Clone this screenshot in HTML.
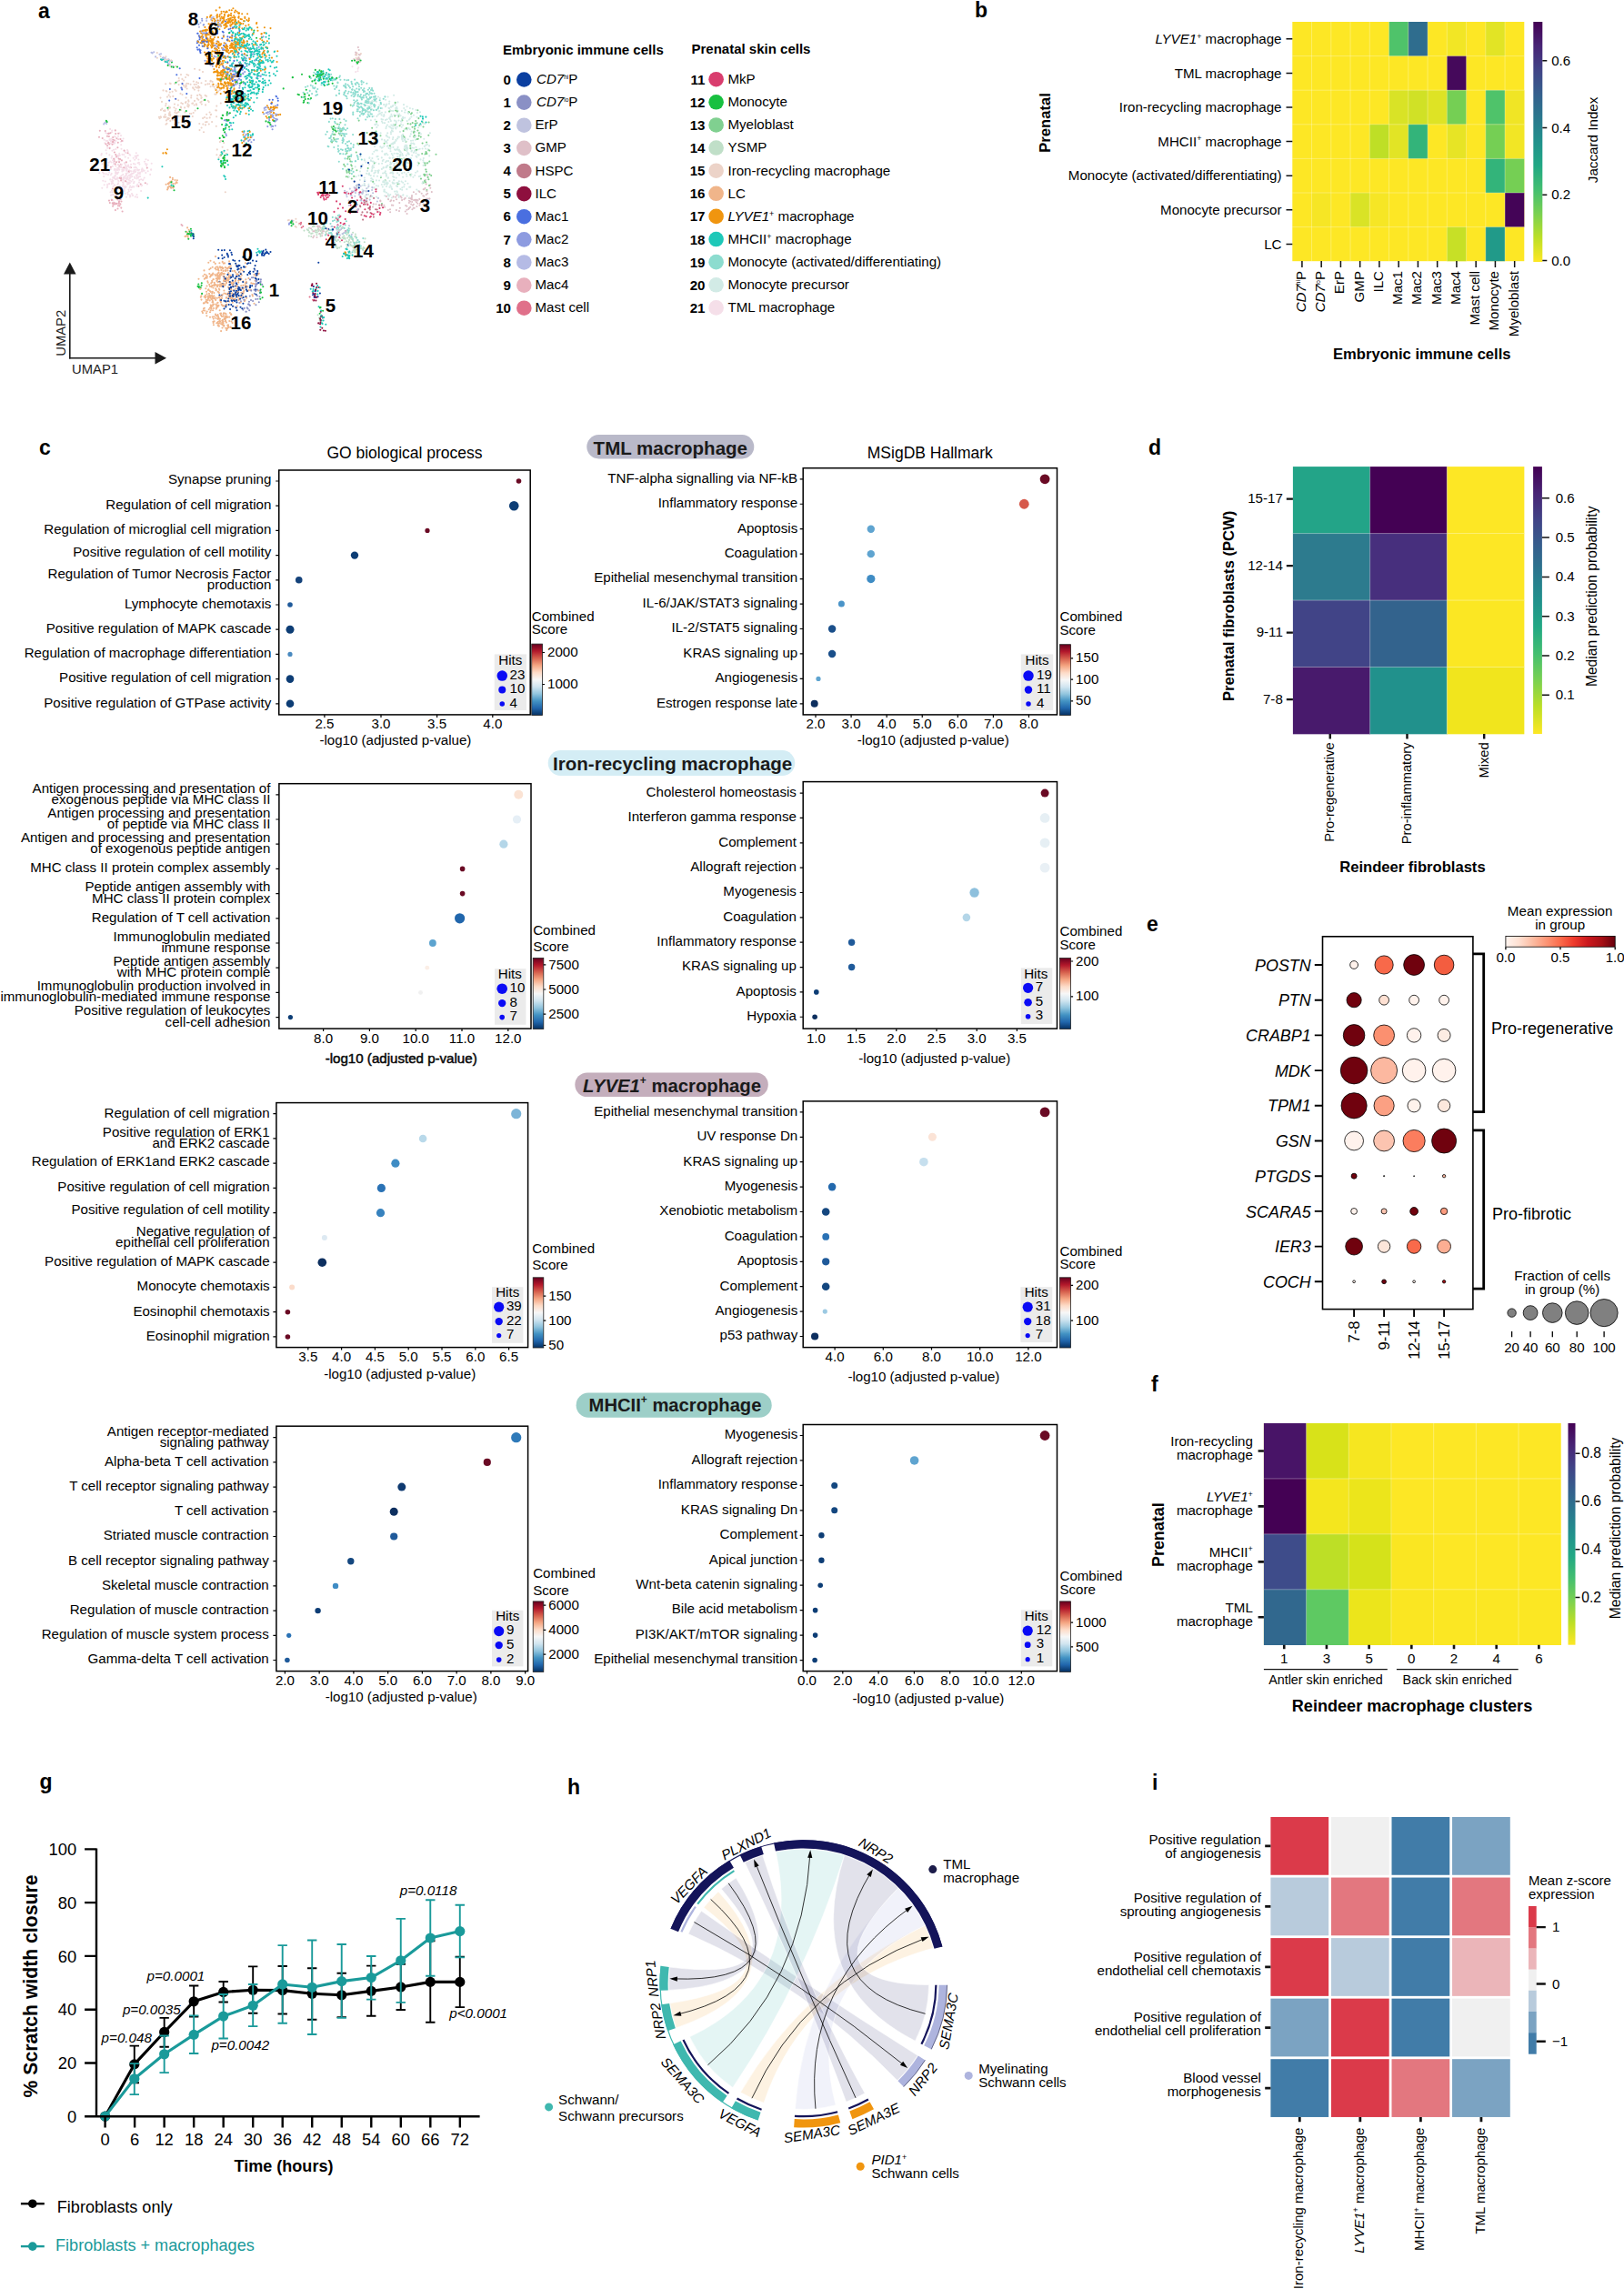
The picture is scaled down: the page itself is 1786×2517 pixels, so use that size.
<!DOCTYPE html>
<html><head><meta charset="utf-8"><title>Figure</title>
<style>html,body{margin:0;padding:0;background:#fff}svg{display:block}text{font-family:"Liberation Sans",sans-serif;fill:#000}</style>
</head><body>
<svg width="1786" height="2517" viewBox="0 0 1786 2517">
<rect width="1786" height="2517" fill="#fff"/>
<text x="42" y="20" font-size="23" font-weight="bold">a</text>
<g stroke-linecap="round" stroke-width="2.1" fill="none">
<path d="M144.5 199.5h0M123.3 197.6h0M151.0 192.4h0M150.6 196.4h0M118.9 181.6h0M143.4 183.5h0M139.7 190.6h0M143.4 215.7h0M127.9 187.3h0M128.8 206.9h0M148.8 216.4h0M114.6 185.6h0M116.7 191.4h0M121.8 186.1h0M148.4 188.9h0M162.7 188.2h0M125.4 180.2h0M143.9 191.9h0M136.1 207.3h0M123.8 182.9h0M125.4 174.2h0M136.6 208.8h0M133.8 180.8h0M137.4 204.7h0M151.3 202.7h0M127.0 197.3h0M137.8 167.5h0M131.6 204.2h0M127.1 189.1h0M136.2 194.6h0M132.9 216.0h0M126.3 208.6h0M140.5 196.0h0M133.0 218.7h0M151.2 186.3h0M132.9 184.1h0M142.9 214.5h0M125.7 178.5h0M128.1 186.2h0M157.1 198.3h0M138.4 205.6h0M138.5 168.0h0M153.0 200.6h0M161.1 182.1h0M121.8 192.2h0M147.5 199.9h0M128.4 208.5h0M130.2 189.5h0M145.8 205.4h0M137.0 179.1h0M135.8 186.5h0M139.2 186.6h0M142.5 201.3h0M125.8 187.0h0M155.1 210.0h0M142.9 193.5h0M130.1 201.6h0M158.7 195.6h0M133.7 207.3h0M118.2 204.6h0M139.1 184.1h0M122.7 190.9h0M140.5 188.7h0M162.0 202.4h0M140.7 166.3h0M133.5 196.8h0M134.5 184.7h0M147.5 184.3h0M129.1 191.1h0M130.2 185.8h0M153.3 198.1h0M109.3 190.2h0M138.1 184.7h0M124.2 214.0h0M153.0 194.0h0M136.7 165.9h0M117.8 175.5h0M120.3 202.1h0M130.2 171.2h0M140.5 211.7h0M131.2 220.5h0M139.6 196.7h0M122.7 214.5h0M126.2 186.0h0M128.3 209.2h0M128.4 189.7h0M123.4 199.9h0M133.6 193.3h0M147.4 187.2h0M143.2 204.6h0M141.3 183.2h0M157.8 187.3h0M161.6 180.5h0M151.6 179.2h0M141.7 200.5h0M165.2 191.9h0M148.5 171.7h0M147.0 188.6h0M151.3 187.3h0M155.2 197.2h0M148.5 180.6h0M160.3 190.0h0M141.2 181.5h0M166.7 179.8h0M139.8 195.2h0M166.1 186.6h0M144.1 180.8h0M121.1 141.9h0M127.9 173.2h0M126.1 157.2h0M115.3 157.3h0M125.0 164.8h0M117.7 147.0h0M118.3 155.0h0M111.4 170.4h0M121.9 157.6h0M116.7 154.8h0M140.0 165.0h0M116.2 146.0h0M131.2 168.9h0M122.7 152.6h0M135.6 152.5h0M123.0 145.2h0M134.5 169.9h0M391.2 79.1h0M392.1 70.6h0" stroke="#f5dfe9"/>
<path d="M425.0 168.8h0M441.6 199.6h0M448.5 201.7h0M447.1 175.7h0M415.8 126.2h0M454.1 154.5h0M444.3 119.0h0M445.7 121.1h0M417.1 198.5h0M459.5 170.1h0M446.8 161.9h0M456.2 151.2h0M452.0 154.7h0M442.4 180.3h0M457.7 165.6h0M420.3 166.4h0M452.6 144.5h0M419.7 162.6h0M436.6 178.3h0M459.0 135.1h0M445.9 199.3h0M453.8 119.8h0M435.4 119.3h0M461.6 145.7h0M432.0 158.5h0M429.1 186.3h0M467.0 169.8h0M440.2 169.9h0M465.3 131.7h0M423.5 170.3h0M457.2 189.7h0M465.6 181.9h0M434.2 156.4h0M442.1 190.4h0M451.3 205.6h0M419.9 185.9h0M430.3 158.6h0M439.3 202.2h0M445.6 180.8h0M441.0 136.6h0M430.1 180.1h0M442.8 181.8h0M435.6 136.1h0M425.6 157.3h0M447.6 117.2h0M438.9 199.3h0M468.3 159.6h0M444.9 153.6h0M449.1 176.0h0M462.5 175.4h0M422.9 135.2h0M445.8 183.5h0M455.0 145.6h0M454.4 194.8h0M437.0 152.6h0M431.9 144.4h0M423.8 188.4h0M442.0 130.5h0M468.4 197.8h0M431.7 117.0h0M429.2 183.5h0M432.0 185.8h0M434.0 138.3h0M444.6 142.3h0M447.7 133.1h0M447.4 174.2h0M445.0 161.2h0M411.4 155.6h0M424.4 184.1h0M409.7 169.2h0M435.6 133.4h0M447.3 140.8h0M459.6 181.8h0M467.3 136.1h0M466.3 152.7h0M452.5 185.9h0M440.7 171.0h0M429.9 133.1h0M435.7 134.2h0M431.9 153.0h0M436.3 210.4h0M426.6 195.7h0M413.1 137.1h0M439.9 171.4h0M472.9 146.2h0M452.2 157.6h0M435.6 154.8h0M444.2 173.9h0M426.7 160.4h0M409.2 145.3h0M431.5 157.9h0M424.9 148.9h0M438.9 215.8h0M437.8 169.1h0M437.2 152.4h0M432.2 194.1h0M443.1 147.9h0M432.1 141.4h0M414.5 172.3h0M461.7 163.8h0M440.4 207.9h0M420.3 119.1h0M433.3 194.9h0M446.5 165.1h0M432.3 151.1h0M424.5 141.1h0M435.4 165.0h0M443.1 137.6h0M442.9 170.8h0M436.7 163.9h0M457.7 165.8h0M442.2 151.3h0M427.6 162.9h0M457.5 161.9h0M440.0 144.9h0M431.8 170.8h0M441.7 139.8h0M438.2 128.6h0M436.7 178.3h0M447.4 208.1h0M429.4 178.6h0M434.1 164.4h0M414.3 140.0h0M445.8 174.7h0M438.1 165.1h0M439.2 185.9h0M472.2 171.4h0M434.6 115.5h0M404.0 121.9h0M408.5 111.9h0M443.3 129.9h0M433.1 104.8h0M417.3 125.1h0M409.3 111.0h0M413.7 120.7h0M437.5 112.4h0M428.1 122.7h0M423.1 135.3h0M406.5 127.8h0M422.6 115.0h0M426.0 137.5h0M425.4 114.6h0M420.0 123.8h0M416.7 122.4h0M408.4 120.1h0M412.3 136.9h0M425.7 131.2h0M410.2 111.5h0M443.1 128.7h0M429.8 117.6h0M428.1 139.3h0M423.9 117.2h0M434.4 114.8h0M436.7 139.5h0M406.3 174.0h0M421.7 175.7h0M423.2 210.8h0M425.3 200.2h0M411.5 190.4h0M416.7 187.4h0M407.8 193.0h0M437.1 204.9h0M429.3 190.3h0M408.1 176.9h0M420.8 205.5h0M410.0 197.6h0M406.4 173.3h0M409.5 185.1h0M407.9 176.2h0M429.1 180.8h0M400.9 176.5h0M413.2 165.2h0M427.1 177.0h0M398.6 208.6h0M405.9 180.8h0M408.5 196.3h0M415.3 187.8h0M398.7 181.2h0M408.9 187.4h0M408.7 188.3h0M406.1 190.6h0M422.6 209.1h0M392.7 206.4h0M413.9 204.2h0M391.6 203.9h0M423.2 215.2h0M428.4 205.8h0M416.1 204.6h0M404.7 206.3h0M421.3 200.2h0M410.2 200.3h0M434.1 210.6h0M430.0 189.9h0M430.4 205.7h0M425.0 201.9h0M422.6 202.9h0M436.9 211.1h0" stroke="#d2ebe6"/>
<path d="M244.4 167.1h0M241.9 156.1h0M250.4 164.8h0M242.5 171.2h0M238.8 164.4h0M180.7 67.0h0M172.9 63.7h0M176.6 62.1h0M182.4 62.2h0M185.9 66.2h0M183.5 65.5h0M200.2 96.8h0M200.5 104.0h0M213.7 115.5h0M207.9 115.7h0M218.4 99.6h0M209.6 134.1h0M211.3 113.8h0M187.1 118.4h0M210.4 125.0h0M212.7 124.0h0M182.2 92.2h0M203.6 95.5h0M216.9 108.4h0M179.5 99.4h0M192.5 98.7h0M205.8 133.9h0M214.0 110.9h0M189.6 100.8h0M221.7 107.3h0M193.6 109.0h0M195.8 115.6h0M187.2 106.5h0M182.7 100.0h0M207.5 111.6h0M199.0 121.1h0M207.2 110.4h0M211.8 128.0h0M204.0 112.9h0M187.3 127.2h0M182.5 128.7h0M186.2 118.8h0M186.0 130.3h0M186.1 124.7h0M175.6 130.2h0M181.7 126.0h0M182.5 136.7h0M217.1 104.9h0M219.4 96.1h0M218.3 109.7h0M216.9 96.6h0M221.6 111.7h0M231.6 95.3h0M204.1 85.0h0M215.2 95.7h0M212.1 96.3h0M225.9 93.1h0M218.1 91.2h0M226.0 137.4h0M228.7 110.8h0M219.3 136.0h0M230.7 129.4h0M221.3 108.0h0M238.1 128.2h0M216.2 115.5h0M227.2 125.8h0M238.0 121.5h0M223.3 136.6h0M241.0 96.2h0M242.6 85.8h0M238.9 96.7h0M237.7 103.5h0M236.4 103.6h0M242.8 113.5h0M192.2 136.7h0M194.4 130.0h0M194.2 124.6h0M187.4 127.1h0M185.9 126.5h0M184.8 131.2h0M191.5 118.3h0M192.4 129.7h0M391.7 63.7h0M394.4 63.1h0M392.5 65.3h0M316.8 242.3h0M320.8 242.0h0M322.1 244.8h0" stroke="#ecd3c8"/>
<path d="M394.3 63.8h0M394.8 60.0h0M391.0 60.2h0M391.2 57.5h0M392.2 60.4h0M447.4 226.7h0M462.8 222.1h0M452.9 216.9h0M441.6 217.5h0M450.0 220.8h0M449.9 223.0h0M450.0 228.9h0M449.2 230.0h0M457.8 219.7h0M465.5 224.6h0M442.1 220.1h0M469.8 229.6h0M461.9 223.8h0M452.6 218.8h0M469.3 228.5h0M450.1 217.9h0M467.0 226.8h0M422.4 225.7h0M435.1 216.7h0M429.1 233.3h0M430.2 220.3h0M410.7 224.4h0M439.9 228.7h0M454.8 224.8h0M411.7 235.1h0M420.8 228.3h0M430.9 225.6h0M445.8 232.5h0M458.4 227.0h0M470.2 212.8h0M471.9 204.3h0M465.7 208.3h0M468.7 218.6h0M472.1 218.5h0M473.3 206.7h0M354.4 254.0h0M344.3 261.2h0M344.4 254.3h0M354.5 256.4h0M354.1 259.2h0M345.3 259.5h0M349.8 249.7h0M352.4 250.6h0M349.7 248.6h0" stroke="#dfc0c8"/>
<path d="M395.0 214.1h0M383.8 225.8h0M400.1 221.2h0M396.7 204.6h0M389.0 210.6h0M401.5 220.2h0M392.6 208.0h0M385.7 214.6h0M404.0 210.3h0M391.0 212.1h0M409.1 209.0h0M389.3 199.6h0M400.9 203.5h0M383.6 220.5h0M405.5 204.8h0M408.0 215.4h0M394.3 229.9h0M364.0 261.3h0M382.1 253.1h0M370.5 259.4h0M364.4 258.0h0M375.0 252.2h0M370.6 252.8h0M381.7 253.5h0" stroke="#bfc3df"/>
<path d="M352.5 257.7h0M340.2 255.2h0M354.1 250.8h0M348.4 258.2h0M343.6 256.5h0M352.6 259.7h0M344.6 248.3h0M355.8 252.5h0M348.8 255.8h0M346.9 253.3h0M353.3 246.4h0M348.2 253.6h0M358.6 257.1h0M351.2 257.3h0M381.9 255.2h0M374.0 252.8h0M375.2 270.9h0M371.9 263.9h0M383.7 267.5h0M385.4 269.1h0M378.2 259.4h0M377.7 262.5h0M385.5 260.7h0M386.9 261.1h0M391.2 259.9h0M387.8 262.4h0M379.3 261.5h0M374.5 262.2h0M381.1 254.3h0M371.0 272.4h0M390.3 274.2h0M395.4 268.6h0M390.3 267.0h0M400.5 272.7h0M396.8 272.9h0M388.1 264.2h0M388.4 275.3h0M394.6 276.3h0M388.1 270.3h0M390.2 275.1h0M388.1 271.1h0M389.8 276.6h0M390.2 260.3h0M400.8 266.3h0M392.4 267.0h0M353.3 353.2h0M353.6 353.1h0M353.9 352.5h0" stroke="#c0dfc8"/>
<path d="M345.3 79.8h0M356.0 83.6h0M361.6 84.1h0M355.1 79.5h0M365.7 88.4h0M361.2 90.3h0M360.8 82.6h0M347.0 81.4h0M361.3 81.2h0M356.0 80.7h0M341.1 109.3h0M333.6 101.8h0M345.7 97.3h0M343.1 103.1h0M347.4 104.9h0M347.7 100.3h0M346.4 96.3h0M382.5 93.3h0M398.9 107.2h0M392.9 110.4h0M399.9 105.0h0M408.4 106.9h0M387.1 98.6h0M402.9 112.9h0M383.6 100.7h0M402.0 104.6h0M405.3 111.2h0M393.4 91.2h0M395.5 106.2h0M380.1 92.4h0M393.5 105.6h0M390.1 99.4h0M411.0 106.6h0M397.6 107.2h0M379.0 101.6h0M397.7 114.0h0M399.9 101.0h0M411.4 109.2h0M399.8 107.4h0M408.0 99.0h0M401.0 100.5h0M403.0 106.9h0M392.1 101.2h0M393.4 113.7h0M408.8 113.9h0M409.0 103.0h0M417.7 110.3h0M402.4 110.7h0M412.5 115.7h0M407.2 108.1h0M397.6 89.9h0M421.7 108.7h0M403.4 91.8h0M406.3 96.9h0M405.8 112.6h0M398.3 122.4h0M393.5 130.3h0M393.7 122.3h0M404.9 118.9h0M392.8 116.5h0M409.6 128.2h0M387.8 116.6h0M404.0 128.8h0M411.3 114.8h0M405.0 123.2h0M392.7 122.2h0M401.9 115.8h0M388.3 123.6h0M406.8 123.0h0M401.7 112.2h0M394.9 114.4h0M399.4 120.8h0M404.8 113.2h0M398.1 118.5h0M388.4 101.8h0M378.1 94.2h0M373.1 99.5h0M387.3 92.6h0M368.2 97.9h0M385.0 96.5h0M369.4 87.4h0M367.3 94.5h0M383.8 94.7h0M382.6 102.8h0M364.0 155.6h0M376.5 154.3h0M367.6 147.7h0M388.1 148.1h0M361.9 133.9h0M365.8 130.2h0M382.5 162.9h0M382.0 160.0h0M373.2 136.9h0M375.5 143.9h0M377.2 151.8h0M379.2 149.8h0M359.8 144.9h0M371.6 141.1h0M364.2 149.2h0M371.8 152.7h0M381.1 147.3h0M380.1 158.0h0M363.5 151.7h0M382.1 141.2h0M380.5 132.9h0M363.9 150.0h0M377.6 147.0h0M393.9 175.1h0M379.5 174.4h0M383.4 163.0h0M380.2 169.5h0M390.8 177.3h0M394.5 159.2h0M381.1 187.3h0M392.8 171.1h0M377.4 169.2h0M372.2 166.8h0M384.7 172.1h0M372.8 177.7h0M384.3 165.4h0M372.6 252.8h0M371.3 255.4h0M362.9 253.0h0M372.2 250.9h0M373.1 236.5h0M364.6 249.0h0M357.9 258.4h0M365.6 249.3h0M366.0 243.1h0M372.3 243.0h0M359.0 245.4h0M364.5 256.3h0M361.8 256.4h0M363.2 256.0h0M365.2 258.7h0M367.9 242.2h0M356.9 251.2h0M399.3 262.1h0M390.0 269.3h0M387.7 263.0h0M391.9 266.8h0M395.3 265.9h0M386.1 260.2h0M399.1 274.0h0" stroke="#8cdccf"/>
<path d="M184.6 206.1h0M192.5 201.9h0M194.6 200.9h0M185.4 202.4h0M188.2 206.7h0M185.9 201.4h0M185.1 201.7h0M182.6 202.7h0M184.7 207.2h0M228.9 328.8h0M237.1 313.1h0M230.3 296.2h0M248.9 327.7h0M246.1 308.6h0M262.6 329.9h0M264.3 325.8h0M236.5 328.6h0M255.9 328.8h0M226.5 305.1h0M247.0 289.4h0M232.5 328.9h0M218.5 306.8h0M240.0 296.8h0M243.7 334.9h0M259.5 306.6h0M247.6 297.4h0M248.1 322.9h0M247.8 294.0h0M256.6 336.7h0M259.9 291.6h0M246.4 306.3h0M233.2 322.4h0M245.2 313.5h0M243.3 314.3h0M243.0 300.5h0M233.6 326.0h0M254.3 316.8h0M237.6 319.2h0M227.6 305.7h0M251.1 315.7h0M234.1 332.5h0M257.3 325.6h0M240.5 335.9h0M240.0 295.0h0M248.6 294.6h0M267.8 322.1h0M232.5 314.7h0M249.1 310.8h0M247.9 308.0h0M245.5 295.1h0M228.6 325.6h0M220.8 326.7h0M233.8 320.7h0M230.9 315.0h0M233.1 308.9h0M234.1 328.0h0M237.7 306.4h0M244.3 293.7h0M259.1 299.5h0M220.1 317.7h0M232.2 328.3h0M250.5 297.5h0M246.2 309.2h0M231.7 295.0h0M240.8 322.1h0M252.1 287.4h0M232.1 302.4h0M234.8 313.7h0M224.7 326.4h0M241.8 314.4h0M241.9 304.8h0M240.6 297.6h0M241.4 303.6h0M255.4 326.1h0M241.4 289.2h0M239.5 293.5h0M232.2 311.4h0M228.7 310.8h0M251.5 326.5h0M251.8 310.1h0M241.0 327.2h0M256.8 314.6h0M239.1 315.2h0M239.2 306.3h0M238.9 327.7h0M233.7 330.2h0M225.0 301.7h0M265.2 314.3h0M257.5 328.9h0M235.3 325.3h0M242.3 294.5h0M256.4 323.7h0M240.6 300.1h0M233.4 310.3h0M251.5 316.6h0M231.3 326.8h0M239.4 304.9h0M247.7 335.8h0M239.1 302.5h0M235.8 312.5h0M225.9 324.9h0M251.2 301.2h0M252.9 344.1h0M239.5 350.4h0M251.6 360.0h0M241.1 353.2h0M241.8 355.5h0M247.4 349.5h0M241.7 341.2h0M248.4 348.4h0M234.9 357.3h0M241.1 350.7h0M249.4 347.5h0M243.1 344.6h0M246.2 358.6h0M247.9 352.8h0M237.0 345.5h0M248.6 345.3h0M244.2 352.8h0M254.5 353.5h0M234.8 350.6h0M245.6 353.8h0M248.6 348.7h0M248.3 360.7h0M241.0 358.5h0M246.7 350.1h0M247.5 351.3h0M246.4 357.8h0M241.6 353.2h0M244.9 352.3h0M254.3 346.0h0M231.7 341.5h0M231.7 335.6h0M238.7 336.8h0M242.8 331.8h0M234.1 341.2h0M237.9 335.2h0M234.8 327.5h0M230.9 320.0h0M232.3 339.6h0M227.7 342.5h0M221.5 329.6h0M232.6 339.2h0M239.6 346.1h0M230.7 330.4h0M232.3 337.6h0M223.7 341.2h0M231.0 348.8h0M233.8 336.5h0M255.2 327.3h0M270.4 315.9h0M263.0 329.3h0M269.5 330.0h0M269.9 289.3h0M262.9 329.0h0M258.9 308.1h0M271.0 314.2h0M252.6 321.0h0M270.4 293.5h0M284.1 319.6h0M280.6 308.7h0M275.9 318.9h0M281.3 303.7h0M264.6 304.8h0M272.4 315.2h0M258.7 309.3h0M264.3 304.5h0M272.9 319.6h0M267.6 320.8h0M252.8 312.7h0M279.5 312.0h0M273.4 306.1h0M207.4 257.1h0M208.9 255.7h0M206.8 260.8h0" stroke="#f0b58a"/>
<path d="M123.7 223.4h0M129.5 229.5h0M129.4 219.5h0M124.4 223.7h0M122.8 219.9h0M129.3 216.3h0M125.1 223.6h0M133.5 221.5h0M130.9 221.9h0M130.6 223.4h0M127.2 147.0h0M123.8 156.1h0M118.0 149.8h0M125.8 154.2h0M112.7 152.0h0M119.4 156.7h0M130.3 153.0h0M109.8 143.7h0M124.3 153.8h0M119.0 157.4h0M140.6 168.3h0M136.6 165.5h0M128.1 178.2h0M125.9 167.5h0M131.4 182.9h0M127.3 170.0h0M154.7 202.5h0M132.7 180.7h0M132.9 196.3h0M159.8 201.2h0M121.9 183.8h0M200.5 248.1h0" stroke="#e8b0bd"/>
<path d="M376.7 141.2h0M365.3 140.6h0M364.7 139.6h0M366.9 142.9h0M372.8 141.2h0M386.8 196.5h0M382.9 194.6h0M379.4 182.7h0M392.4 187.3h0M383.6 188.9h0M378.2 180.9h0M384.6 175.1h0M447.3 141.3h0M464.9 134.6h0M459.8 152.7h0M449.5 123.0h0M443.6 149.9h0M460.4 130.1h0M455.2 150.4h0M452.0 125.3h0M456.1 141.8h0M451.5 136.4h0M443.6 144.1h0M459.4 143.5h0M452.9 124.2h0M451.4 192.0h0M446.5 155.7h0M453.7 135.1h0M429.4 121.7h0M441.7 175.1h0M374.5 134.8h0M403.6 146.1h0M410.2 199.8h0M423.7 198.2h0M411.8 179.3h0M479.5 169.8h0M439.3 185.8h0M429.4 184.1h0M418.9 195.1h0M437.6 202.3h0M468.1 200.4h0M469.4 209.1h0M471.0 164.7h0M465.6 200.9h0M470.6 194.9h0M468.7 167.9h0M467.6 181.6h0M466.3 191.9h0" stroke="#80d090"/>
<path d="M220.5 25.1h0M232.1 21.8h0M227.2 22.9h0M233.0 25.0h0M227.2 20.5h0M242.6 26.9h0M242.6 21.6h0M232.6 27.3h0M290.8 121.1h0M299.4 127.8h0M300.1 120.8h0M296.2 129.7h0M183.4 66.6h0M166.5 57.7h0M185.5 65.4h0M171.1 62.4h0M186.5 66.8h0M167.6 58.4h0M114.2 136.4h0M116.6 133.7h0" stroke="#b5bbe5"/>
<path d="M281.4 313.9h0M276.2 319.6h0M286.4 310.9h0M282.8 312.3h0M282.5 308.2h0M281.3 329.0h0M286.9 307.4h0M282.9 318.6h0M274.8 325.6h0M281.9 309.6h0M286.1 319.7h0M276.0 330.0h0M273.7 334.6h0M268.6 338.9h0M266.3 327.7h0M274.9 335.9h0M271.8 338.4h0" stroke="#8a90c5"/>
<path d="M257.9 84.5h0M259.3 92.9h0M255.7 82.1h0M258.1 75.1h0M254.7 83.8h0M258.4 76.6h0M259.4 88.2h0M264.3 70.7h0M251.5 94.3h0M257.6 77.1h0M255.6 73.2h0M259.1 81.3h0M255.3 94.8h0M253.3 63.1h0M243.8 79.8h0M255.0 71.0h0M264.7 70.2h0M261.2 88.3h0M267.2 80.5h0M249.3 51.7h0M225.5 66.8h0M239.9 60.2h0M235.7 61.9h0M237.4 55.6h0M243.8 69.5h0M233.8 72.7h0M247.7 61.7h0M223.1 36.3h0M222.1 20.7h0M218.4 26.8h0M274.2 63.8h0M272.9 52.9h0M273.8 55.4h0M285.1 74.3h0M286.8 83.6h0M284.7 51.8h0M246.8 132.2h0M251.7 124.9h0M251.0 132.7h0M296.3 132.5h0M298.4 127.3h0M294.4 118.3h0M303.4 132.7h0M294.3 139.1h0M300.8 120.9h0M302.2 133.6h0M299.8 128.5h0M292.1 118.1h0M303.9 125.7h0M274.7 153.7h0M276.4 156.2h0M275.7 151.0h0M317.9 246.8h0M319.5 244.6h0" stroke="#8d9be0"/>
<path d="M417.1 225.6h0M406.7 227.5h0M407.6 215.7h0M406.8 230.5h0M407.5 234.1h0M403.3 221.1h0M400.7 222.7h0M410.9 238.6h0M396.4 216.1h0" stroke="#c07a8a"/>
<path d="M330.7 246.6h0M329.3 245.9h0M346.2 325.6h0M347.8 327.3h0" stroke="#e0708a"/>
<path d="M359.3 217.2h0M353.5 215.0h0M357.6 212.5h0M354.7 213.2h0M351.1 211.6h0M360.6 214.1h0M356.1 218.0h0M358.5 219.1h0M383.4 212.8h0M374.4 237.8h0M367.5 232.9h0M407.8 222.9h0M390.6 207.0h0M374.0 224.4h0M385.6 225.6h0M400.8 237.2h0M380.2 232.3h0M377.0 228.6h0M380.2 212.1h0M400.0 224.7h0M402.7 237.9h0M407.0 238.7h0M393.5 230.7h0M408.7 234.9h0M379.9 254.4h0M367.1 260.4h0M367.8 249.7h0M373.2 261.0h0M372.3 255.6h0M369.2 260.6h0M370.6 256.4h0" stroke="#d93d6e"/>
<path d="M245.4 24.3h0M259.1 23.8h0M231.3 26.6h0M251.1 20.7h0M241.4 32.2h0M244.6 20.3h0M242.8 28.9h0M248.5 29.5h0M253.0 20.6h0M262.4 23.4h0M243.5 12.8h0M262.4 24.8h0M259.0 22.0h0M253.2 24.6h0M256.4 9.2h0M251.2 25.2h0M258.4 21.2h0M234.2 20.1h0M260.6 12.8h0M251.5 21.9h0M253.7 21.0h0M243.7 18.6h0M236.8 22.6h0M250.8 17.6h0M258.1 13.4h0M231.0 18.7h0M254.8 11.3h0M256.0 21.9h0M257.1 19.3h0M254.1 14.7h0M262.7 14.9h0M239.1 31.1h0M252.0 23.7h0M262.5 19.8h0M262.2 19.3h0M247.9 26.4h0M241.3 26.7h0M242.1 22.5h0M246.0 12.8h0M258.1 26.2h0M232.4 16.8h0M232.7 20.2h0M255.2 19.2h0M254.7 23.1h0M226.6 40.6h0M233.6 50.5h0M228.5 42.5h0M222.8 38.3h0M229.3 48.2h0M231.0 45.1h0M240.4 50.0h0M229.4 48.2h0M233.1 45.0h0M225.3 44.6h0M226.5 34.2h0M230.3 35.9h0M225.0 57.5h0M232.2 44.9h0M240.1 49.9h0M228.7 52.7h0M228.2 51.2h0M232.7 52.5h0M230.3 44.2h0M227.0 32.5h0M225.7 33.1h0M225.4 29.9h0M230.3 29.5h0M233.7 48.9h0M221.2 36.6h0M221.7 45.1h0M233.6 46.1h0M220.4 47.1h0M232.6 48.3h0M233.7 45.6h0M222.3 44.2h0M264.9 51.0h0M261.9 57.6h0M265.6 41.9h0M247.7 52.1h0M270.0 50.1h0M261.1 46.2h0M248.9 56.5h0M255.0 56.3h0M265.6 46.3h0M255.2 38.5h0M246.9 51.3h0M250.8 44.4h0M248.7 50.1h0M252.9 52.9h0M245.6 55.0h0M259.6 49.2h0M254.1 56.0h0M256.3 48.8h0M254.9 49.9h0M259.0 52.9h0M245.8 39.1h0M250.3 44.6h0M257.6 52.0h0M253.9 49.3h0M262.6 43.9h0M254.3 51.6h0M255.3 52.1h0M259.3 37.5h0M257.8 44.8h0M256.6 58.2h0M263.4 53.0h0M250.5 43.3h0M253.4 57.3h0M244.6 61.6h0M258.0 57.1h0M255.3 47.7h0M251.2 55.4h0M246.1 95.1h0M247.2 84.7h0M240.4 93.7h0M246.3 66.7h0M245.3 81.2h0M255.2 86.9h0M240.9 74.3h0M239.8 63.6h0M238.8 83.0h0M239.4 82.6h0M249.1 84.9h0M250.6 90.3h0M248.4 75.2h0M235.8 78.9h0M249.9 101.7h0M242.3 79.8h0M249.4 87.3h0M255.5 99.9h0M244.1 96.6h0M237.5 98.9h0M256.3 92.4h0M254.4 92.9h0M250.6 79.3h0M244.9 77.7h0M250.4 97.1h0M255.4 87.6h0M236.8 79.3h0M239.2 96.0h0M241.2 87.9h0M243.1 87.8h0M244.0 86.3h0M243.7 86.3h0M238.9 65.2h0M244.3 79.1h0M249.7 94.4h0M256.5 102.2h0M249.2 73.8h0M254.6 82.7h0M244.9 82.4h0M246.0 86.7h0M250.9 91.3h0M252.8 91.4h0M238.1 78.2h0M250.2 69.2h0M239.1 83.4h0M255.1 87.7h0M254.8 84.9h0M275.1 54.0h0M290.9 30.2h0M287.5 37.5h0M280.3 77.9h0M278.9 49.3h0M294.1 52.6h0M287.8 40.8h0M271.1 60.8h0M281.0 49.1h0M285.2 62.3h0M283.2 30.3h0M304.6 68.0h0M297.5 31.1h0M291.3 59.3h0M294.9 56.6h0M273.8 20.4h0M260.1 26.0h0M269.4 20.0h0M273.8 22.2h0M262.6 31.3h0M273.5 27.4h0M256.8 106.6h0M263.4 110.8h0M262.9 120.8h0M257.9 117.8h0M266.2 119.5h0M266.4 108.1h0M264.6 115.8h0M259.6 116.6h0M246.6 61.9h0M239.2 65.5h0M233.5 56.4h0M227.9 68.6h0M232.2 65.1h0M231.8 57.9h0M237.9 53.7h0M231.6 58.7h0M243.3 64.8h0M242.3 67.7h0M239.5 56.6h0M234.7 64.6h0M227.8 67.4h0M242.8 60.3h0M243.1 70.5h0M230.8 69.8h0M233.0 62.1h0M232.7 66.2h0M300.5 118.2h0M292.7 128.0h0M308.2 125.9h0M296.3 120.3h0M298.0 123.3h0M303.6 127.0h0M300.2 118.4h0M299.0 112.6h0M293.9 116.2h0M300.1 121.1h0M268.1 155.5h0M272.9 151.2h0M269.6 153.4h0M183.9 164.2h0M380.3 281.1h0M379.5 277.3h0" stroke="#f0950f"/>
<path d="M265.1 43.9h0M262.9 31.6h0M274.7 30.2h0M263.5 33.0h0M264.0 41.8h0M268.7 23.2h0M261.6 35.9h0M262.7 38.9h0M277.5 38.6h0M261.6 43.9h0M274.1 40.0h0M264.3 27.0h0M255.8 35.8h0M268.3 32.1h0M260.0 26.3h0M259.0 27.5h0M270.8 40.1h0M260.2 26.2h0M263.3 27.8h0M284.4 58.6h0M292.5 40.8h0M279.1 81.4h0M289.3 46.5h0M296.4 63.8h0M285.1 68.3h0M285.4 68.2h0M302.0 74.6h0M272.1 47.8h0M285.8 60.1h0M280.2 66.5h0M296.1 88.6h0M269.4 84.5h0M278.0 37.3h0M276.4 57.8h0M292.6 66.1h0M292.4 36.2h0M281.3 71.5h0M291.3 61.1h0M283.5 92.7h0M285.1 54.5h0M286.7 75.7h0M273.1 77.1h0M296.2 80.0h0M281.8 65.6h0M286.1 49.4h0M286.1 75.6h0M287.4 62.9h0M278.7 52.0h0M283.6 80.9h0M289.8 69.1h0M291.7 74.7h0M284.4 74.9h0M291.6 79.4h0M289.6 49.7h0M280.8 46.2h0M288.9 76.6h0M280.3 56.4h0M291.4 73.6h0M286.0 65.6h0M290.6 49.0h0M278.6 62.2h0M288.1 69.3h0M270.9 49.7h0M282.8 49.7h0M296.0 39.2h0M290.0 56.9h0M273.8 81.6h0M296.6 83.4h0M270.5 84.1h0M270.5 64.4h0M286.1 72.8h0M281.7 56.0h0M282.5 58.9h0M271.0 66.8h0M265.7 48.7h0M261.6 60.1h0M268.4 62.8h0M268.0 64.6h0M259.3 57.8h0M278.5 45.4h0M265.2 43.4h0M274.3 49.0h0M277.2 48.1h0M271.0 56.5h0M276.6 59.9h0M271.8 70.0h0M265.8 60.3h0M275.4 52.8h0M264.1 71.8h0M275.3 56.5h0M280.7 47.0h0M256.4 36.4h0M268.6 38.4h0M268.5 51.2h0M269.8 92.1h0M264.7 102.6h0M270.0 93.0h0M273.2 119.3h0M275.5 95.7h0M256.3 105.8h0M262.5 101.8h0M273.1 115.1h0M254.3 114.6h0M269.8 116.9h0M276.9 101.5h0M255.4 109.2h0M264.3 108.0h0M273.7 110.2h0M254.6 110.2h0M269.8 113.6h0M249.4 107.6h0M267.0 102.1h0M258.8 105.9h0M266.0 112.7h0M266.4 118.9h0M250.1 111.6h0M273.3 108.7h0M263.3 111.9h0M268.7 116.9h0M273.8 121.7h0M250.0 116.0h0M259.5 109.8h0M275.7 102.9h0M269.2 106.7h0M256.1 118.7h0M273.8 125.7h0M259.2 118.1h0M276.0 120.2h0M279.3 98.0h0M261.7 102.8h0M282.3 85.9h0M280.2 92.6h0M284.7 93.7h0M276.7 86.0h0M285.0 80.0h0M283.7 93.8h0M275.3 84.5h0M285.9 89.2h0M271.9 85.7h0M281.8 90.2h0M277.3 102.0h0M285.0 94.7h0M274.8 80.5h0M284.8 89.1h0M265.1 88.0h0M279.5 77.0h0M284.0 94.4h0M273.9 100.0h0M291.3 91.3h0M285.2 97.9h0M262.6 62.4h0M265.2 70.4h0M260.2 80.2h0M257.4 61.7h0M255.1 70.3h0M247.9 68.3h0M253.6 63.6h0M250.0 177.3h0M242.8 178.6h0M245.3 177.0h0M247.6 178.9h0M253.9 135.2h0M247.5 142.1h0M256.5 135.1h0M248.1 197.0h0M274.2 143.8h0M272.9 149.3h0M271.3 152.6h0M265.5 154.4h0M179.8 65.2h0M185.0 66.8h0M187.7 205.4h0M178.4 183.2h0M361.9 81.7h0M349.3 84.1h0M356.1 84.3h0M353.8 81.2h0M360.0 93.2h0M355.8 84.9h0M360.4 86.9h0M356.2 89.9h0M353.8 91.2h0M361.4 76.2h0M354.6 91.2h0M359.6 85.7h0M355.3 78.3h0M468.5 134.5h0M462.5 127.7h0M465.0 130.4h0M378.1 278.9h0M381.9 284.1h0M380.3 280.7h0M384.5 281.1h0M383.2 281.6h0M379.7 279.5h0M383.7 283.4h0M286.3 277.2h0M287.3 276.3h0M283.2 280.2h0M211.5 257.1h0M349.3 323.5h0M344.5 318.0h0M343.7 320.6h0M352.7 348.6h0M352.5 359.6h0M354.6 356.0h0M353.3 352.2h0" stroke="#1ec8b8"/>
<path d="M219.0 49.7h0M223.2 40.8h0M219.2 54.4h0M220.5 55.3h0M219.5 55.0h0M218.9 39.4h0M219.5 43.3h0M228.3 53.2h0M217.4 45.2h0M229.6 57.0h0M255.0 72.3h0M260.1 79.9h0M250.4 68.4h0M269.2 73.7h0M253.1 72.3h0M250.4 81.2h0M274.2 81.0h0M259.4 83.6h0M245.7 35.6h0M255.4 39.7h0M255.1 44.6h0M239.1 36.8h0M251.6 32.3h0M244.3 42.3h0M305.3 115.5h0M299.9 109.8h0M296.4 109.7h0M200.2 98.4h0M186.9 98.1h0M219.5 86.1h0" stroke="#4a6fe0"/>
<path d="M261.4 79.4h0M260.3 72.8h0M282.1 41.7h0M253.6 77.4h0M252.4 83.0h0M266.8 65.7h0M284.6 98.1h0M267.6 90.2h0M264.1 91.7h0M243.5 129.9h0M252.9 124.2h0M252.0 139.5h0M244.1 137.0h0M251.6 132.0h0M245.9 141.8h0M245.8 143.1h0M246.6 151.0h0M245.6 174.1h0M242.8 170.5h0M245.5 179.1h0M243.0 182.0h0M247.5 176.5h0M245.5 179.7h0M295.1 134.4h0M292.5 133.4h0M188.6 73.4h0M188.9 68.4h0M184.5 118.7h0M217.5 119.3h0M116.9 132.7h0M188.0 200.5h0M351.3 87.4h0M365.4 85.4h0M347.2 91.6h0M352.4 85.8h0M356.9 93.9h0M363.0 86.9h0M351.1 84.3h0M354.5 82.3h0M352.7 83.2h0M353.4 78.4h0M340.8 85.0h0M336.8 98.8h0M335.3 103.6h0M331.7 106.7h0M339.0 108.8h0M321.8 85.0h0M327.6 103.8h0M366.2 142.1h0M368.5 140.7h0M396.6 66.6h0M393.2 69.6h0M394.7 65.7h0M321.0 243.5h0M319.9 244.6h0M218.3 312.5h0M221.6 313.8h0M286.0 322.3h0M286.6 318.6h0M286.3 328.8h0M206.1 257.5h0M207.3 262.8h0M209.9 251.7h0M204.5 254.7h0M352.6 338.0h0M355.1 341.8h0" stroke="#18c040"/>
<path d="M394.9 203.2h0M394.8 206.4h0M405.4 210.0h0M397.4 182.9h0M371.1 257.4h0M382.4 269.4h0M258.8 322.4h0M252.9 324.2h0M247.8 306.2h0M256.0 302.3h0M260.6 324.8h0M264.9 319.0h0M253.4 295.1h0M262.3 315.8h0M257.1 330.3h0M271.0 310.8h0M252.4 316.7h0M281.4 301.1h0M255.5 325.1h0M261.4 296.4h0M252.4 318.1h0M275.1 301.1h0M263.1 299.3h0M246.2 304.2h0M262.1 321.6h0M280.6 292.1h0M278.0 286.6h0M260.4 332.4h0M260.5 312.7h0M275.3 289.3h0M260.6 304.0h0M273.1 289.3h0M252.1 290.1h0M259.8 320.0h0M253.2 305.6h0M256.1 314.8h0M275.0 315.7h0M259.2 289.8h0M278.6 298.7h0M275.0 298.6h0M272.0 290.0h0M262.7 295.5h0M281.8 306.9h0M248.1 309.0h0M251.8 324.5h0M264.1 328.6h0M251.7 323.7h0M251.3 328.5h0M252.1 320.7h0M243.8 324.9h0M259.1 314.6h0M254.0 320.2h0M264.5 337.7h0M261.5 322.9h0M248.2 331.6h0M260.5 324.4h0M258.8 323.9h0M244.0 275.3h0M251.0 282.5h0M246.6 283.0h0M249.8 278.9h0M240.4 283.9h0M289.6 275.9h0M288.6 277.4h0M290.1 280.9h0M294.2 278.0h0M288.4 278.5h0M212.8 262.3h0M211.8 259.0h0M344.1 324.3h0M349.6 326.2h0M345.6 326.8h0" stroke="#0b3fa0"/>
<path d="M342.8 313.9h0M348.1 316.1h0M348.3 326.8h0M350.5 316.0h0M346.4 327.0h0M352.5 354.4h0M352.1 356.3h0M354.3 360.8h0M357.9 363.7h0M350.2 355.4h0" stroke="#8e0f3e"/>
<path d="M148.8 186.9h0M140.7 213.8h0M135.9 195.9h0M134.0 176.7h0M150.5 214.0h0M142.3 188.9h0M135.8 197.7h0M117.8 206.2h0M139.7 185.9h0M123.5 211.3h0M154.1 194.0h0M141.7 201.9h0M138.6 190.9h0M120.4 170.4h0M137.1 195.6h0M119.9 202.3h0M142.8 201.0h0M127.0 190.2h0M114.2 190.9h0M123.2 171.8h0M129.7 186.9h0M144.2 191.5h0M122.6 173.6h0M142.4 195.7h0M152.2 187.5h0M132.4 194.3h0M122.5 178.5h0M143.3 176.9h0M152.2 195.6h0M145.0 213.1h0M137.8 193.8h0M128.8 207.2h0M138.2 199.2h0M133.3 181.3h0M142.7 196.6h0M142.4 169.9h0M143.2 170.6h0M140.9 201.0h0M134.2 208.7h0M137.1 205.4h0M129.3 184.7h0M138.3 182.4h0M138.8 196.4h0M126.0 196.2h0M131.4 177.2h0M124.4 195.1h0M129.4 170.7h0M115.8 199.5h0M126.3 185.9h0M147.0 201.2h0M139.2 197.3h0M146.0 215.1h0M141.9 192.8h0M113.3 198.8h0M129.4 203.0h0M142.5 184.2h0M112.3 206.8h0M146.9 190.3h0M125.8 203.3h0M152.9 178.7h0M127.4 182.6h0M140.5 182.4h0M156.4 185.3h0M120.2 189.4h0M137.9 206.4h0M137.9 184.4h0M121.2 197.4h0M153.4 180.6h0M112.6 180.2h0M126.4 204.1h0M114.7 203.2h0M138.2 181.2h0M122.5 199.6h0M141.8 210.2h0M137.5 185.4h0M135.8 196.9h0M118.1 202.8h0M129.0 195.2h0M135.9 204.7h0M130.8 171.1h0M139.1 191.9h0M141.1 173.8h0M135.3 203.3h0M140.2 202.4h0M141.5 208.6h0M137.7 198.8h0M129.9 181.0h0M148.2 175.7h0M124.3 198.8h0M149.8 174.1h0M151.8 190.1h0M139.6 187.3h0M142.0 187.2h0M143.9 192.5h0M157.4 197.6h0M153.9 191.2h0M144.6 188.4h0M160.5 175.2h0M146.7 173.7h0M141.8 189.6h0M152.2 190.7h0M149.0 183.9h0M159.0 177.7h0M159.9 180.1h0M166.2 186.5h0M138.5 192.9h0M144.9 191.0h0M135.2 155.0h0M137.7 172.6h0M133.0 149.1h0M126.3 157.3h0M126.9 150.6h0M133.5 163.7h0M117.2 168.6h0M120.6 162.2h0M133.0 155.7h0M130.4 177.2h0M125.0 157.9h0M127.3 164.1h0M123.4 165.7h0M127.3 154.9h0M114.6 153.8h0M121.3 153.2h0M387.5 73.2h0M393.5 78.2h0" stroke="#f5dfe9"/>
<path d="M434.0 157.0h0M448.0 142.5h0M450.2 205.8h0M429.6 161.9h0M448.3 179.0h0M448.8 153.2h0M433.7 157.4h0M429.4 203.8h0M409.4 174.1h0M469.6 191.5h0M432.2 121.7h0M414.2 136.1h0M448.9 168.9h0M460.1 140.2h0M455.0 126.8h0M452.5 191.5h0M438.7 185.6h0M451.8 163.6h0M436.1 168.7h0M436.4 118.2h0M415.7 137.7h0M448.4 163.1h0M422.3 126.0h0M427.4 134.0h0M424.1 178.2h0M425.3 177.0h0M425.3 183.7h0M435.7 195.5h0M440.7 186.4h0M443.1 214.8h0M466.8 160.9h0M468.1 186.3h0M424.9 149.5h0M426.5 154.0h0M454.5 157.6h0M429.9 145.4h0M431.9 201.5h0M435.2 213.3h0M448.0 179.3h0M423.1 169.4h0M423.3 198.5h0M426.7 201.3h0M452.0 174.1h0M440.1 188.2h0M435.3 153.7h0M449.9 131.6h0M437.2 172.2h0M430.9 143.4h0M424.0 131.9h0M433.6 179.6h0M429.3 163.8h0M420.7 162.2h0M470.9 178.8h0M441.8 150.6h0M428.2 119.1h0M446.8 177.5h0M423.6 155.8h0M445.2 129.5h0M432.4 190.8h0M436.1 179.3h0M458.3 208.5h0M412.0 161.1h0M458.5 128.8h0M449.7 174.4h0M420.0 153.4h0M428.6 129.6h0M452.5 166.4h0M451.6 193.5h0M445.2 123.6h0M432.6 136.9h0M445.7 152.1h0M464.6 163.5h0M434.2 184.6h0M422.8 154.1h0M443.1 155.2h0M472.1 160.4h0M439.1 174.4h0M428.2 151.4h0M426.4 170.2h0M459.0 124.0h0M448.2 163.7h0M464.9 200.0h0M459.6 178.5h0M452.6 157.7h0M438.7 216.9h0M424.9 192.4h0M445.7 159.8h0M470.5 164.3h0M436.9 123.6h0M450.6 217.6h0M456.1 150.8h0M447.5 165.2h0M440.8 167.5h0M428.6 173.6h0M443.1 194.7h0M449.0 189.2h0M459.2 188.4h0M456.2 192.8h0M426.2 146.4h0M434.3 182.5h0M456.9 164.9h0M444.5 189.7h0M439.2 125.5h0M457.6 171.8h0M450.9 142.3h0M437.6 213.6h0M432.9 201.6h0M422.4 160.6h0M452.4 128.4h0M431.5 186.9h0M460.9 194.1h0M447.5 166.0h0M445.4 153.9h0M444.0 115.1h0M433.0 187.8h0M459.9 164.5h0M416.0 188.9h0M421.6 184.8h0M465.7 178.4h0M450.8 130.4h0M460.2 210.0h0M433.2 198.0h0M439.6 165.7h0M444.3 205.4h0M439.1 192.4h0M432.1 190.9h0M438.5 132.5h0M429.2 139.8h0M431.1 127.9h0M418.2 124.6h0M428.1 130.1h0M420.8 135.0h0M424.6 115.9h0M394.9 119.0h0M422.4 127.6h0M430.4 125.7h0M404.6 116.5h0M409.5 120.3h0M424.1 109.7h0M408.3 117.5h0M407.3 122.7h0M414.0 111.8h0M405.0 124.3h0M429.2 131.5h0M423.8 123.4h0M397.1 122.8h0M410.9 127.8h0M428.0 114.0h0M407.9 132.2h0M419.9 133.5h0M434.9 126.7h0M432.1 116.0h0M421.6 127.7h0M433.3 181.5h0M402.5 178.5h0M418.9 194.0h0M436.9 179.2h0M416.7 180.1h0M428.5 199.0h0M404.1 187.9h0M400.8 175.2h0M406.2 192.3h0M425.3 182.6h0M409.7 206.4h0M409.2 187.6h0M383.9 194.4h0M391.4 194.3h0M402.0 217.4h0M398.8 203.8h0M427.0 215.1h0M411.4 181.0h0M411.6 206.4h0M394.5 193.1h0M396.0 188.5h0M423.1 189.9h0M413.0 178.7h0M431.2 185.9h0M411.1 193.6h0M401.6 204.0h0M390.7 183.4h0M395.8 197.9h0M412.9 189.5h0M443.4 214.2h0M399.3 212.2h0M433.6 201.6h0M399.0 211.5h0M422.8 200.4h0M438.5 214.6h0M425.0 205.0h0M405.4 202.7h0M402.0 209.7h0M436.1 204.2h0M401.5 215.7h0M426.8 213.3h0M396.9 192.4h0M424.5 190.8h0M400.9 195.5h0" stroke="#d2ebe6"/>
<path d="M243.1 154.7h0M248.8 169.1h0M244.6 161.8h0M241.8 170.7h0M246.2 167.2h0M187.2 72.7h0M180.4 63.5h0M193.0 72.7h0M181.5 67.8h0M187.0 72.2h0M200.6 92.2h0M190.3 105.9h0M207.2 92.0h0M200.4 86.9h0M187.7 92.0h0M193.5 119.7h0M185.7 104.6h0M176.5 107.6h0M196.5 134.7h0M200.4 91.5h0M195.3 89.5h0M198.8 117.6h0M198.5 102.9h0M206.2 116.6h0M221.8 114.5h0M192.4 123.8h0M205.4 91.8h0M196.2 110.3h0M184.0 106.6h0M210.4 105.0h0M182.6 114.0h0M192.0 114.5h0M206.0 128.7h0M219.6 104.1h0M223.9 110.3h0M208.8 125.0h0M204.4 93.5h0M218.2 94.9h0M186.8 101.5h0M181.5 122.1h0M183.5 135.8h0M180.6 128.4h0M174.9 128.8h0M187.3 132.9h0M176.9 120.9h0M177.0 129.1h0M180.0 121.7h0M219.5 76.9h0M230.3 92.3h0M226.3 89.0h0M216.2 90.3h0M221.0 105.2h0M202.1 88.6h0M218.4 96.6h0M215.9 92.8h0M212.8 89.5h0M213.9 98.6h0M238.3 116.6h0M231.7 126.1h0M237.8 138.7h0M230.6 123.5h0M232.2 125.8h0M225.7 104.9h0M227.6 134.0h0M215.9 114.3h0M223.1 130.1h0M224.0 145.3h0M233.6 89.9h0M236.7 97.8h0M233.7 92.9h0M231.7 88.8h0M241.9 98.9h0M247.7 101.8h0M191.9 131.7h0M189.8 131.7h0M184.9 129.8h0M182.2 116.2h0M176.7 128.4h0M193.3 132.4h0M203.7 123.0h0M195.0 123.7h0M196.6 122.9h0M394.4 66.5h0M396.9 59.1h0M322.6 242.8h0M325.8 244.3h0M325.4 240.8h0M325.8 249.7h0" stroke="#ecd3c8"/>
<path d="M393.8 64.9h0M393.1 65.2h0M394.7 55.0h0M395.4 64.6h0M393.9 52.1h0M466.9 219.7h0M469.7 228.9h0M451.1 221.6h0M452.2 224.6h0M455.7 228.8h0M459.0 220.0h0M468.8 221.6h0M466.3 215.8h0M440.7 215.9h0M453.4 230.2h0M461.3 218.9h0M459.5 220.5h0M453.2 222.0h0M461.4 225.8h0M457.1 220.8h0M456.8 219.8h0M464.0 229.1h0M445.6 217.9h0M418.3 220.6h0M432.3 225.7h0M413.5 224.5h0M444.4 219.3h0M426.9 231.0h0M417.0 232.9h0M436.1 219.2h0M410.0 227.5h0M435.9 231.1h0M423.1 227.8h0M429.0 230.3h0M467.5 198.1h0M466.4 208.3h0M469.4 210.2h0M470.4 218.5h0M469.8 192.6h0M468.7 202.4h0M348.5 261.0h0M359.6 257.6h0M354.3 256.1h0M350.2 249.5h0M342.0 251.3h0M352.4 253.6h0M356.3 249.0h0M360.8 251.6h0" stroke="#dfc0c8"/>
<path d="M403.0 220.3h0M399.1 210.9h0M396.5 220.2h0M397.4 212.0h0M390.9 207.3h0M395.0 213.6h0M381.5 216.3h0M387.1 211.7h0M409.3 206.1h0M381.1 213.9h0M414.9 221.5h0M398.4 212.9h0M410.1 212.3h0M386.6 214.7h0M389.6 206.1h0M403.0 214.0h0M416.0 217.9h0M383.8 259.6h0M386.8 257.9h0M384.0 248.3h0M367.9 263.2h0M365.6 253.6h0M375.9 251.1h0M364.8 249.0h0" stroke="#bfc3df"/>
<path d="M354.0 252.4h0M350.2 254.1h0M355.3 249.4h0M342.3 260.0h0M355.5 252.8h0M334.5 253.6h0M354.0 256.3h0M353.6 256.2h0M360.6 253.5h0M342.2 256.9h0M338.6 253.2h0M339.2 253.2h0M343.2 252.7h0M381.4 257.9h0M369.0 264.3h0M384.0 263.9h0M382.2 261.6h0M379.7 262.7h0M369.6 270.5h0M381.1 265.3h0M376.7 261.0h0M372.5 257.4h0M370.2 265.3h0M383.0 256.4h0M373.8 249.4h0M377.9 262.1h0M369.1 271.4h0M384.6 251.7h0M368.9 263.2h0M369.5 269.4h0M394.8 270.7h0M390.6 275.6h0M399.6 272.1h0M390.7 266.7h0M392.2 261.5h0M382.9 276.8h0M388.6 272.4h0M390.3 277.7h0M386.5 262.8h0M401.5 262.4h0M397.0 273.3h0M400.7 273.0h0M391.6 274.5h0M386.3 270.2h0M399.4 275.3h0M351.3 349.2h0M350.9 349.7h0" stroke="#c0dfc8"/>
<path d="M350.8 88.7h0M356.4 84.8h0M364.1 81.8h0M362.4 84.3h0M361.0 87.4h0M373.9 83.6h0M373.2 85.1h0M361.6 84.6h0M353.5 93.3h0M358.3 89.6h0M349.0 104.1h0M338.2 102.2h0M336.0 95.7h0M349.3 98.0h0M344.3 96.8h0M341.8 93.7h0M346.6 88.5h0M415.7 119.4h0M398.8 107.2h0M381.6 108.2h0M396.1 106.1h0M419.0 114.2h0M378.9 101.9h0M411.5 102.7h0M397.0 113.8h0M390.7 92.0h0M399.7 90.5h0M412.7 109.9h0M397.2 96.8h0M411.9 117.5h0M386.6 105.3h0M412.3 106.8h0M390.1 87.6h0M412.1 110.8h0M397.3 107.8h0M396.9 104.0h0M405.8 104.2h0M407.5 113.6h0M405.8 109.1h0M397.9 109.5h0M412.7 105.7h0M397.8 92.6h0M390.0 103.0h0M416.3 117.8h0M380.6 96.6h0M394.0 117.4h0M409.0 97.1h0M395.2 98.5h0M409.1 113.2h0M412.5 106.4h0M395.0 95.2h0M413.8 108.6h0M423.4 106.4h0M397.4 125.3h0M402.0 123.1h0M406.3 127.9h0M398.2 124.5h0M413.9 120.9h0M400.0 121.3h0M400.1 124.9h0M410.9 121.2h0M404.9 126.2h0M389.1 115.4h0M394.3 117.8h0M393.7 113.0h0M400.4 114.8h0M402.6 122.3h0M397.1 117.3h0M408.0 120.8h0M400.5 125.1h0M395.8 127.4h0M402.0 121.1h0M399.0 119.5h0M370.5 94.5h0M381.4 88.3h0M386.5 89.9h0M378.8 87.7h0M386.8 92.0h0M371.5 91.2h0M380.0 94.5h0M378.6 101.9h0M373.1 103.1h0M370.1 95.4h0M378.3 148.9h0M374.6 146.4h0M368.8 135.4h0M378.4 131.2h0M373.7 144.0h0M379.1 147.2h0M366.1 144.7h0M376.6 143.2h0M372.7 139.5h0M373.9 142.6h0M384.0 155.4h0M363.6 130.6h0M372.7 165.6h0M377.5 155.1h0M369.0 155.3h0M362.2 152.0h0M358.3 147.8h0M360.7 160.9h0M368.3 140.8h0M380.2 142.9h0M377.7 140.6h0M361.4 161.3h0M376.7 164.9h0M366.1 155.3h0M397.8 175.5h0M387.0 177.8h0M388.8 159.4h0M396.8 169.5h0M386.9 191.1h0M383.7 163.7h0M377.0 185.7h0M386.1 171.9h0M385.9 163.4h0M382.8 172.2h0M384.3 186.8h0M382.3 166.1h0M382.3 180.5h0M371.6 242.3h0M380.9 243.2h0M364.3 252.7h0M365.8 238.9h0M365.4 252.2h0M383.8 253.6h0M376.7 250.4h0M371.2 249.9h0M355.3 246.8h0M356.5 248.2h0M365.3 258.0h0M354.9 251.3h0M357.4 249.8h0M363.5 246.0h0M376.8 257.2h0M372.0 240.2h0M379.7 247.5h0M383.4 270.3h0M390.9 270.6h0M394.5 270.9h0M391.9 261.5h0M386.5 260.5h0M390.9 270.1h0" stroke="#8cdccf"/>
<path d="M190.2 202.0h0M194.9 198.2h0M193.9 200.3h0M185.6 205.4h0M184.8 201.9h0M189.8 195.8h0M188.0 205.9h0M190.0 206.3h0M188.7 199.3h0M237.8 318.8h0M241.7 301.7h0M248.8 332.0h0M252.3 294.2h0M227.5 314.5h0M232.6 315.5h0M243.5 302.1h0M243.3 294.2h0M247.1 313.7h0M251.6 321.2h0M249.1 327.1h0M245.9 311.9h0M257.5 323.5h0M255.8 332.8h0M246.6 300.9h0M245.5 297.9h0M250.3 305.8h0M259.1 317.7h0M240.8 306.2h0M254.5 327.2h0M243.8 299.9h0M258.0 297.9h0M240.0 296.2h0M250.9 308.5h0M227.1 320.8h0M231.9 320.9h0M244.1 327.8h0M234.5 307.3h0M246.4 308.1h0M227.6 323.3h0M255.7 298.0h0M249.3 323.6h0M233.5 332.3h0M238.9 314.8h0M240.0 313.3h0M243.9 311.9h0M253.1 328.0h0M252.2 331.6h0M244.8 324.0h0M226.8 302.6h0M254.1 317.9h0M261.2 317.5h0M241.8 330.4h0M260.8 301.5h0M251.3 301.4h0M253.6 304.6h0M261.1 302.3h0M252.1 293.3h0M245.7 289.6h0M228.9 319.0h0M256.0 314.0h0M253.7 302.7h0M240.0 313.3h0M236.6 327.3h0M248.7 311.4h0M266.2 317.2h0M260.1 315.1h0M250.1 295.4h0M231.5 286.8h0M253.5 325.1h0M240.8 303.3h0M264.3 307.9h0M236.8 289.9h0M252.3 303.8h0M243.8 328.1h0M245.7 315.5h0M264.9 300.6h0M261.8 320.8h0M254.0 304.9h0M230.2 312.9h0M237.8 339.6h0M233.4 314.1h0M242.0 293.2h0M226.0 327.5h0M234.5 316.5h0M254.0 310.4h0M221.4 325.4h0M237.3 317.4h0M228.3 309.3h0M268.4 319.7h0M244.8 295.4h0M231.1 304.4h0M251.7 307.2h0M224.5 297.4h0M237.2 329.9h0M234.2 300.6h0M253.9 328.3h0M259.1 308.7h0M233.5 302.4h0M254.9 311.4h0M244.7 336.3h0M242.2 329.1h0M231.9 325.6h0M245.2 354.0h0M244.0 347.9h0M249.3 361.9h0M250.9 359.1h0M250.3 360.7h0M245.5 355.5h0M239.3 355.0h0M254.2 345.4h0M243.3 356.2h0M244.5 360.5h0M250.3 357.7h0M244.4 356.5h0M240.5 349.5h0M242.1 353.7h0M254.1 360.1h0M241.7 353.4h0M238.3 355.3h0M249.2 362.9h0M248.2 353.2h0M239.6 350.7h0M242.2 344.7h0M243.0 346.6h0M244.8 351.7h0M246.1 358.2h0M246.7 350.8h0M246.0 344.2h0M243.1 364.1h0M253.3 359.6h0M229.9 327.6h0M227.3 331.3h0M239.6 335.7h0M226.5 326.5h0M226.9 344.2h0M224.8 338.8h0M233.9 331.9h0M239.6 332.8h0M229.3 326.2h0M228.5 333.0h0M239.2 333.1h0M224.9 333.3h0M231.6 337.8h0M224.0 339.2h0M227.5 332.6h0M235.0 334.6h0M230.9 338.8h0M234.2 332.2h0M233.7 348.6h0M268.1 317.0h0M273.9 319.1h0M258.8 328.9h0M270.5 327.1h0M278.0 311.7h0M269.7 313.3h0M263.5 299.1h0M269.8 311.0h0M262.2 310.6h0M263.6 307.8h0M277.4 324.0h0M264.4 296.4h0M268.9 331.2h0M256.4 319.4h0M267.5 309.2h0M283.5 301.7h0M261.7 301.6h0M251.1 322.7h0M267.4 313.9h0M276.3 311.3h0M271.2 327.7h0M270.9 310.1h0M246.4 319.5h0M205.6 255.2h0M203.5 260.0h0M206.3 259.1h0" stroke="#f0b58a"/>
<path d="M130.0 226.3h0M120.8 223.0h0M133.3 228.6h0M130.8 223.8h0M132.4 219.3h0M126.9 231.1h0M126.1 224.6h0M127.8 223.7h0M127.4 223.9h0M134.6 232.5h0M119.9 150.0h0M120.6 163.1h0M115.8 144.0h0M109.0 150.8h0M118.1 160.3h0M119.2 146.7h0M120.2 158.5h0M116.5 158.4h0M128.5 152.3h0M124.4 155.9h0M125.7 177.1h0M136.2 184.3h0M129.4 162.3h0M128.1 172.0h0M131.1 178.3h0M123.9 207.5h0M152.4 204.7h0M143.9 184.2h0M133.3 195.7h0M142.0 188.5h0M128.4 212.6h0" stroke="#e8b0bd"/>
<path d="M368.4 147.9h0M375.1 144.1h0M366.6 147.7h0M372.8 146.6h0M371.0 136.5h0M389.2 193.9h0M386.8 182.5h0M387.5 185.6h0M382.7 186.2h0M381.3 188.0h0M380.9 194.2h0M434.2 127.5h0M450.0 123.5h0M471.3 148.8h0M442.4 132.3h0M445.1 164.7h0M451.3 163.1h0M460.7 149.4h0M453.5 139.8h0M458.3 135.5h0M460.8 146.4h0M439.6 138.3h0M459.4 121.2h0M471.6 134.5h0M465.5 139.5h0M385.7 115.6h0M420.0 224.0h0M422.6 157.8h0M440.0 174.9h0M435.1 121.5h0M404.7 185.1h0M381.4 168.4h0M438.5 127.6h0M405.5 155.4h0M444.6 150.8h0M414.1 133.8h0M434.7 112.9h0M464.2 169.0h0M454.9 145.7h0M393.2 157.9h0M472.3 165.5h0M468.4 186.5h0M474.2 193.1h0M467.1 193.2h0M467.3 179.4h0M472.3 177.5h0M468.5 167.0h0M469.1 156.5h0" stroke="#80d090"/>
<path d="M233.1 19.3h0M236.2 24.5h0M239.1 22.2h0M233.0 20.3h0M234.8 18.7h0M219.0 29.8h0M233.0 27.8h0M299.6 126.1h0M297.6 125.6h0M292.4 120.7h0M298.6 127.5h0M298.3 139.4h0M181.6 64.1h0M177.7 66.0h0M188.1 67.0h0M175.5 59.7h0M190.2 72.9h0M188.8 67.1h0M115.4 135.0h0" stroke="#b5bbe5"/>
<path d="M281.4 312.2h0M281.6 308.3h0M277.0 305.2h0M281.4 335.3h0M284.8 332.2h0M278.8 305.2h0M286.6 309.6h0M280.4 297.1h0M282.1 312.2h0M285.2 310.7h0M281.2 320.1h0M263.4 333.0h0M278.1 331.0h0M270.5 342.7h0M264.9 331.2h0M270.8 342.7h0M273.1 334.6h0" stroke="#8a90c5"/>
<path d="M252.8 78.5h0M264.4 87.8h0M245.0 87.4h0M269.2 79.1h0M266.7 76.8h0M258.6 89.6h0M256.1 69.8h0M270.3 70.0h0M252.5 63.1h0M255.5 77.2h0M260.7 90.2h0M267.7 91.5h0M255.1 83.8h0M259.1 79.5h0M258.6 77.4h0M253.9 80.9h0M263.6 84.1h0M249.0 82.6h0M238.5 45.5h0M244.4 61.0h0M248.4 62.8h0M243.2 64.8h0M227.2 46.0h0M246.0 39.0h0M248.1 47.9h0M235.2 49.8h0M250.8 62.0h0M226.4 38.3h0M221.3 34.4h0M217.6 36.7h0M286.4 83.9h0M278.1 59.4h0M266.3 59.6h0M283.3 74.3h0M269.1 60.0h0M289.4 40.4h0M248.9 149.1h0M254.0 138.0h0M247.9 132.1h0M299.1 138.8h0M296.9 122.5h0M304.9 126.3h0M296.1 131.0h0M303.0 116.6h0M292.8 124.3h0M294.2 123.6h0M299.6 142.2h0M300.1 138.9h0M294.9 123.2h0M270.7 147.9h0M279.2 153.9h0M268.3 154.9h0M321.3 242.9h0" stroke="#8d9be0"/>
<path d="M396.3 227.2h0M396.0 226.2h0M403.8 233.4h0M402.4 221.6h0M401.9 224.6h0M405.3 229.0h0M398.5 233.4h0M413.1 230.2h0" stroke="#c07a8a"/>
<path d="M333.3 249.0h0M331.1 244.9h0M345.3 329.8h0M345.0 323.8h0" stroke="#e0708a"/>
<path d="M359.6 213.9h0M359.9 212.3h0M349.9 212.7h0M354.1 214.8h0M362.3 214.8h0M355.9 214.3h0M360.9 216.8h0M349.2 211.8h0M413.5 210.5h0M376.8 204.7h0M378.8 211.7h0M415.2 233.0h0M371.8 229.2h0M387.1 217.5h0M406.7 228.8h0M396.4 211.3h0M387.5 211.2h0M393.0 233.3h0M385.2 234.2h0M407.9 238.0h0M410.5 235.8h0M417.9 235.9h0M404.4 225.1h0M397.7 223.3h0M369.8 240.1h0M358.8 263.2h0M373.5 238.8h0M378.9 245.8h0M365.5 263.2h0M371.5 247.4h0M377.6 246.5h0" stroke="#d93d6e"/>
<path d="M245.7 19.0h0M258.4 22.6h0M253.1 24.2h0M253.2 16.8h0M253.6 28.8h0M254.3 22.6h0M239.9 22.6h0M227.9 18.9h0M233.4 26.4h0M249.2 12.6h0M238.3 17.5h0M251.6 16.2h0M250.5 23.8h0M232.3 29.3h0M246.2 27.6h0M249.2 28.4h0M239.2 27.2h0M246.5 19.1h0M240.1 25.1h0M249.5 24.7h0M255.6 24.7h0M247.9 27.0h0M252.0 22.6h0M242.5 20.4h0M247.3 27.2h0M244.6 25.1h0M249.8 28.8h0M247.1 31.0h0M249.3 25.6h0M237.7 11.4h0M248.0 13.6h0M257.9 19.8h0M263.0 14.4h0M240.6 27.6h0M229.5 26.3h0M248.8 29.6h0M235.7 20.9h0M265.9 21.3h0M242.4 28.0h0M248.1 26.2h0M257.2 17.3h0M236.2 23.4h0M250.9 18.0h0M237.8 47.8h0M224.5 50.4h0M223.5 44.2h0M222.5 42.2h0M233.3 47.1h0M229.9 38.1h0M225.3 36.7h0M240.9 48.5h0M224.5 43.8h0M228.2 50.6h0M228.6 45.4h0M233.0 51.9h0M217.9 46.4h0M224.8 33.6h0M238.7 48.0h0M233.5 34.4h0M233.8 50.5h0M234.8 43.0h0M233.7 43.4h0M228.5 49.7h0M225.8 49.2h0M240.5 46.2h0M234.9 50.6h0M223.3 33.6h0M239.5 51.6h0M228.5 44.1h0M227.4 41.8h0M227.5 38.8h0M228.0 33.0h0M227.6 37.3h0M222.8 34.1h0M226.2 45.3h0M248.2 52.0h0M259.6 48.8h0M253.0 50.2h0M260.2 55.7h0M257.4 46.6h0M248.8 55.7h0M254.6 52.5h0M249.2 49.6h0M254.5 47.5h0M254.4 52.5h0M250.6 62.5h0M246.6 47.2h0M250.3 51.4h0M255.5 56.2h0M249.2 55.1h0M242.3 49.8h0M247.1 55.1h0M268.9 52.5h0M263.1 36.0h0M241.5 48.3h0M244.0 52.7h0M259.8 54.4h0M243.2 48.4h0M251.8 58.4h0M255.6 56.0h0M241.5 50.1h0M250.1 57.1h0M248.9 49.8h0M257.7 63.3h0M260.5 56.4h0M262.3 47.0h0M249.3 55.1h0M259.4 48.9h0M259.2 42.3h0M256.8 48.8h0M258.2 50.6h0M267.0 47.1h0M257.5 83.4h0M250.3 98.9h0M249.0 81.7h0M239.6 80.8h0M254.6 103.3h0M247.0 90.9h0M249.9 97.8h0M242.9 81.4h0M243.6 78.4h0M241.0 86.9h0M234.6 92.7h0M254.1 81.0h0M250.6 106.3h0M250.2 96.5h0M241.7 80.3h0M246.2 93.7h0M241.6 96.8h0M242.7 92.3h0M244.6 92.6h0M242.5 88.7h0M243.2 97.4h0M248.7 91.4h0M251.3 74.8h0M238.6 101.6h0M239.0 86.5h0M245.2 82.7h0M240.1 80.0h0M240.2 91.9h0M241.6 65.6h0M253.3 93.6h0M243.2 82.9h0M239.3 87.5h0M248.6 81.6h0M248.8 79.2h0M240.0 87.2h0M254.8 93.8h0M239.1 78.8h0M242.7 103.1h0M246.0 77.4h0M250.1 86.4h0M244.6 84.2h0M251.5 100.8h0M247.9 92.5h0M243.1 92.4h0M238.9 77.2h0M243.1 91.9h0M292.6 51.8h0M290.2 45.9h0M305.3 56.2h0M288.6 62.5h0M282.1 25.9h0M290.6 36.1h0M289.1 53.1h0M293.9 45.2h0M282.3 25.1h0M291.0 76.7h0M290.6 55.8h0M299.0 63.6h0M292.8 61.8h0M276.8 32.7h0M288.3 44.2h0M266.4 31.3h0M272.1 15.3h0M263.5 29.7h0M269.3 18.7h0M259.1 22.6h0M267.3 26.1h0M274.3 118.9h0M255.5 116.7h0M263.7 118.0h0M248.9 109.4h0M270.6 124.8h0M263.5 101.6h0M264.4 118.3h0M262.1 119.1h0M274.8 110.0h0M235.3 56.6h0M234.8 64.0h0M231.5 58.1h0M241.3 59.5h0M237.4 53.8h0M232.7 70.8h0M232.9 59.7h0M239.6 71.0h0M241.6 71.9h0M226.8 60.6h0M238.3 71.8h0M235.1 69.0h0M233.2 66.8h0M238.1 73.6h0M239.1 55.1h0M240.6 53.0h0M238.8 58.1h0M232.6 64.7h0M302.0 119.3h0M297.9 117.7h0M298.0 127.6h0M302.8 118.3h0M293.8 129.8h0M298.3 113.6h0M304.7 118.4h0M301.0 120.5h0M301.3 124.3h0M269.6 151.9h0M274.7 144.9h0M272.6 147.1h0M266.3 157.1h0M179.4 168.4h0M380.1 278.1h0" stroke="#f0950f"/>
<path d="M263.8 46.7h0M276.6 31.2h0M273.2 49.7h0M268.7 40.6h0M274.8 30.0h0M269.0 49.6h0M266.3 42.4h0M259.0 38.5h0M258.4 40.1h0M268.3 37.2h0M259.1 37.4h0M259.7 51.5h0M267.6 46.3h0M268.9 30.8h0M263.4 44.1h0M275.3 41.2h0M269.9 38.2h0M273.0 32.1h0M280.8 56.0h0M285.3 70.0h0M276.1 61.3h0M297.4 73.0h0M294.4 57.5h0M279.6 69.9h0M300.7 66.7h0M282.4 54.3h0M279.1 35.4h0M283.7 63.6h0M277.3 90.0h0M274.3 81.5h0M273.7 83.4h0M302.1 56.5h0M276.6 85.0h0M272.1 83.0h0M271.1 76.0h0M276.1 60.4h0M265.5 56.5h0M271.0 51.0h0M287.2 48.9h0M294.0 53.2h0M291.2 88.5h0M286.0 69.9h0M285.5 56.9h0M292.5 52.2h0M301.7 57.0h0M287.1 68.6h0M275.0 56.7h0M277.8 69.0h0M285.8 61.8h0M279.9 53.9h0M283.8 74.2h0M283.2 63.7h0M292.5 47.2h0M279.8 59.6h0M297.7 91.5h0M289.3 53.8h0M275.1 67.9h0M287.0 62.7h0M287.5 52.3h0M288.6 81.7h0M292.0 90.8h0M274.0 54.2h0M289.5 46.4h0M283.3 60.7h0M282.1 66.1h0M292.1 93.8h0M297.3 66.6h0M292.9 36.7h0M304.7 78.2h0M281.8 65.2h0M283.9 95.5h0M298.8 68.4h0M295.9 47.4h0M283.0 74.0h0M292.6 82.7h0M273.2 39.6h0M274.2 30.6h0M262.9 43.5h0M272.3 52.9h0M269.6 49.9h0M263.6 45.7h0M264.1 68.3h0M267.0 65.4h0M265.8 63.8h0M273.9 38.1h0M258.2 55.7h0M269.7 66.2h0M271.8 45.2h0M269.6 55.7h0M255.9 59.2h0M272.1 61.0h0M272.2 38.9h0M270.7 33.6h0M267.2 98.1h0M259.1 104.5h0M257.1 117.3h0M256.2 110.0h0M262.6 108.1h0M271.9 108.4h0M279.6 102.6h0M258.4 119.4h0M256.6 116.7h0M274.3 109.8h0M282.7 107.7h0M273.2 103.9h0M268.2 115.3h0M252.5 118.4h0M272.5 100.0h0M264.7 122.9h0M266.3 105.7h0M253.6 99.4h0M264.2 101.8h0M257.6 112.8h0M282.0 102.6h0M264.7 103.8h0M266.2 115.6h0M261.9 108.3h0M278.0 121.8h0M266.2 112.4h0M272.0 113.9h0M267.8 105.0h0M261.4 111.4h0M261.4 115.0h0M254.8 109.1h0M258.9 106.8h0M260.3 122.0h0M265.0 113.2h0M264.2 119.0h0M270.9 115.3h0M254.7 116.9h0M274.5 88.3h0M280.8 96.5h0M274.7 88.2h0M266.9 96.8h0M277.5 94.3h0M288.8 101.1h0M277.8 77.0h0M289.1 86.8h0M289.7 96.1h0M278.2 89.6h0M289.2 89.8h0M273.4 94.8h0M278.5 97.9h0M284.5 100.0h0M283.8 102.4h0M283.0 96.4h0M282.1 103.8h0M274.8 95.7h0M289.0 98.4h0M273.2 94.1h0M252.4 63.0h0M257.7 62.3h0M259.8 56.5h0M249.9 75.4h0M247.3 63.4h0M257.8 73.6h0M256.4 69.2h0M242.8 177.6h0M240.4 175.2h0M244.4 169.1h0M250.9 181.2h0M252.4 142.5h0M248.7 136.2h0M255.3 142.2h0M247.4 194.4h0M273.3 147.6h0M277.9 148.6h0M268.2 150.8h0M272.6 144.2h0M178.0 65.9h0M177.0 65.3h0M190.4 204.4h0M162.7 217.6h0M352.1 84.3h0M352.4 81.0h0M346.7 87.4h0M368.4 87.3h0M362.2 83.3h0M350.7 88.5h0M353.0 87.6h0M355.3 84.5h0M363.9 87.0h0M349.9 81.1h0M363.8 88.2h0M350.6 86.2h0M361.8 84.7h0M464.8 128.3h0M462.4 136.4h0M463.9 133.5h0M376.7 282.0h0M378.2 278.7h0M384.3 276.5h0M384.2 284.3h0M378.8 279.0h0M382.9 280.6h0M284.7 276.4h0M284.2 276.8h0M283.5 273.8h0M209.4 257.2h0M210.4 253.7h0M347.6 317.5h0M351.7 316.2h0M349.2 314.1h0M358.3 356.7h0M350.6 337.2h0M354.0 355.3h0M354.8 348.7h0" stroke="#1ec8b8"/>
<path d="M221.9 47.5h0M220.5 58.1h0M217.3 36.7h0M217.7 45.5h0M228.8 45.7h0M220.1 56.7h0M225.2 48.8h0M217.4 54.6h0M224.4 50.9h0M257.2 81.9h0M256.6 92.8h0M245.3 73.0h0M253.8 86.8h0M253.5 97.6h0M250.2 76.5h0M258.2 88.0h0M249.7 83.5h0M255.8 89.0h0M250.4 40.4h0M239.9 29.5h0M252.5 35.7h0M238.2 35.0h0M247.9 23.5h0M252.9 41.0h0M298.6 113.9h0M305.5 108.3h0M193.1 108.8h0M205.3 103.1h0M186.2 110.6h0M199.4 96.6h0" stroke="#4a6fe0"/>
<path d="M282.7 78.0h0M252.1 36.3h0M249.3 82.9h0M263.8 70.0h0M264.8 81.8h0M265.0 91.3h0M275.2 90.4h0M265.6 90.2h0M259.4 90.7h0M245.1 126.9h0M244.8 126.7h0M244.1 130.5h0M249.7 124.7h0M248.2 140.8h0M241.7 151.9h0M244.8 149.2h0M247.0 184.2h0M245.2 181.3h0M246.8 183.0h0M243.8 179.7h0M246.9 173.7h0M249.9 176.6h0M246.1 173.1h0M296.7 135.0h0M296.0 128.7h0M195.0 73.6h0M190.7 73.9h0M204.8 122.1h0M225.3 109.9h0M191.5 209.2h0M190.8 205.1h0M349.4 79.0h0M365.7 91.8h0M351.2 88.3h0M351.5 77.4h0M340.4 84.0h0M370.3 85.9h0M361.6 92.5h0M353.3 82.2h0M344.7 83.1h0M346.8 76.9h0M333.5 106.7h0M335.7 109.1h0M335.3 106.6h0M338.5 113.1h0M334.7 103.5h0M332.0 81.7h0M321.8 85.2h0M368.5 143.3h0M369.7 144.6h0M387.1 66.7h0M394.2 68.0h0M320.6 248.3h0M322.4 246.4h0M217.6 314.9h0M220.7 316.1h0M221.8 311.2h0M289.3 315.3h0M287.0 321.6h0M286.7 312.8h0M210.0 259.6h0M213.2 259.5h0M207.5 257.2h0M210.0 258.5h0M351.9 338.4h0" stroke="#18c040"/>
<path d="M405.0 179.0h0M389.8 199.6h0M401.1 198.8h0M361.3 252.1h0M366.1 252.2h0M274.9 316.3h0M253.1 290.3h0M250.5 301.9h0M256.8 323.5h0M266.4 322.7h0M260.0 304.1h0M275.2 314.1h0M267.2 310.0h0M256.3 286.1h0M268.0 293.4h0M279.7 295.6h0M256.1 304.3h0M282.0 287.2h0M256.5 312.0h0M241.4 309.8h0M257.4 319.6h0M283.2 298.1h0M262.0 317.6h0M262.1 292.5h0M251.1 323.2h0M283.0 300.4h0M262.7 325.1h0M260.6 293.0h0M267.5 282.4h0M244.7 312.4h0M265.2 294.5h0M254.6 330.2h0M262.6 291.8h0M274.6 283.1h0M263.3 286.7h0M280.9 318.4h0M272.3 302.1h0M260.2 330.1h0M252.3 324.5h0M268.1 298.7h0M254.0 315.6h0M270.9 318.4h0M252.8 310.0h0M271.9 320.1h0M268.9 293.7h0M256.5 325.9h0M246.5 339.5h0M248.4 331.2h0M243.1 330.1h0M249.0 335.4h0M253.1 340.1h0M260.1 326.4h0M260.6 341.2h0M256.2 324.4h0M256.0 336.7h0M241.4 324.6h0M260.5 320.0h0M254.4 277.7h0M244.2 280.6h0M246.8 275.1h0M244.7 284.2h0M292.3 274.6h0M291.0 279.7h0M293.4 276.8h0M297.5 277.0h0M288.1 280.7h0M282.8 280.6h0M210.5 256.2h0M346.8 319.5h0M344.9 315.1h0M346.7 320.2h0M350.3 288.7h0" stroke="#0b3fa0"/>
<path d="M343.4 312.2h0M344.3 322.3h0M345.0 330.4h0M347.4 330.5h0M346.7 323.1h0M354.9 349.5h0M353.9 347.5h0M353.2 347.7h0M352.8 342.7h0" stroke="#8e0f3e"/>
<path d="M134.4 188.5h0M130.5 199.4h0M125.4 180.2h0M136.6 210.4h0M156.7 186.3h0M137.7 212.7h0M127.9 196.9h0M136.7 209.9h0M150.5 194.0h0M148.4 195.9h0M134.2 209.4h0M139.5 200.1h0M135.8 202.4h0M145.7 191.0h0M132.1 205.2h0M149.8 173.3h0M124.8 178.4h0M131.2 183.9h0M155.6 204.2h0M150.9 195.0h0M158.7 187.7h0M143.2 188.0h0M141.9 201.1h0M122.8 202.1h0M121.5 211.2h0M131.3 186.6h0M142.9 216.5h0M151.7 170.9h0M133.3 183.0h0M145.1 194.3h0M142.8 192.5h0M124.3 195.4h0M119.6 178.8h0M126.0 194.5h0M130.1 181.1h0M150.4 204.4h0M135.7 200.2h0M129.2 190.7h0M113.0 189.4h0M121.3 177.5h0M140.5 202.4h0M126.1 214.5h0M127.0 193.3h0M147.2 205.4h0M136.1 187.4h0M130.1 185.4h0M124.5 205.0h0M134.3 197.8h0M156.2 203.7h0M145.9 197.7h0M143.9 208.8h0M123.6 199.7h0M133.6 217.0h0M134.3 186.7h0M134.5 209.7h0M145.8 214.5h0M146.9 180.1h0M150.0 172.9h0M130.1 198.7h0M131.8 170.7h0M139.0 187.7h0M150.1 171.4h0M126.0 175.8h0M122.0 214.7h0M135.0 200.4h0M139.7 196.3h0M127.7 212.4h0M124.3 220.4h0M119.0 192.1h0M155.9 188.5h0M129.4 196.6h0M139.0 216.8h0M138.5 205.3h0M114.2 194.0h0M150.0 184.5h0M127.7 191.1h0M134.4 205.2h0M147.8 194.5h0M126.4 193.1h0M129.8 172.6h0M149.2 188.8h0M144.7 206.1h0M142.6 206.2h0M142.9 198.7h0M125.9 195.7h0M124.2 201.5h0M151.1 216.9h0M123.0 209.6h0M115.5 187.1h0M117.2 182.7h0M162.9 176.3h0M143.5 195.0h0M140.6 194.0h0M143.0 184.2h0M155.8 186.8h0M156.6 188.5h0M149.8 168.2h0M153.0 186.7h0M154.1 189.5h0M149.9 192.5h0M141.3 197.8h0M135.2 191.9h0M145.3 193.7h0M153.5 190.4h0M152.4 175.5h0M136.8 179.8h0M131.5 146.5h0M124.0 176.3h0M118.2 162.7h0M136.2 170.1h0M123.0 155.5h0M120.5 153.2h0M120.7 153.9h0M123.2 143.6h0M122.1 154.8h0M121.9 155.1h0M133.2 159.2h0M116.6 165.3h0M123.9 155.1h0M130.1 152.7h0M130.0 149.7h0M126.1 150.1h0M111.8 169.0h0M393.6 75.8h0M394.2 74.2h0" stroke="#f5dfe9"/>
<path d="M465.8 174.1h0M414.8 165.4h0M453.2 170.7h0M442.1 152.9h0M441.8 133.6h0M464.5 201.6h0M447.6 161.6h0M416.0 189.9h0M433.3 198.3h0M432.1 138.6h0M437.6 161.9h0M439.3 171.7h0M467.9 163.5h0M432.2 157.6h0M465.3 176.3h0M442.9 150.9h0M416.2 175.1h0M455.1 167.6h0M457.2 149.6h0M431.2 207.9h0M447.7 187.4h0M442.0 177.9h0M418.3 161.4h0M411.4 166.8h0M420.1 179.8h0M447.3 162.9h0M426.4 150.4h0M437.4 173.7h0M430.3 117.6h0M462.0 123.2h0M430.8 169.0h0M430.3 137.6h0M438.9 150.8h0M411.1 184.0h0M433.5 156.6h0M448.6 168.0h0M456.6 145.3h0M447.4 183.1h0M431.6 189.4h0M414.6 158.3h0M419.8 173.4h0M438.9 164.5h0M447.6 215.6h0M437.1 190.4h0M449.8 169.6h0M428.6 173.9h0M453.0 162.6h0M450.9 149.9h0M437.3 186.9h0M440.1 181.8h0M445.8 155.4h0M414.1 150.1h0M454.8 167.8h0M430.9 217.5h0M431.7 173.8h0M432.8 173.4h0M442.3 153.6h0M449.7 179.5h0M432.4 161.9h0M441.9 122.1h0M409.9 177.5h0M451.8 147.4h0M424.8 156.0h0M444.7 163.2h0M421.7 184.1h0M449.1 124.7h0M441.8 149.1h0M462.9 137.9h0M430.8 207.8h0M411.6 145.6h0M425.9 202.7h0M448.4 169.0h0M433.5 168.7h0M431.7 200.5h0M451.2 183.1h0M451.6 159.9h0M425.8 160.8h0M437.5 122.4h0M458.4 172.8h0M429.5 166.3h0M455.9 166.0h0M433.1 186.0h0M447.3 159.9h0M425.1 155.2h0M457.5 168.3h0M442.2 208.8h0M434.8 140.5h0M410.8 177.7h0M449.6 141.0h0M460.8 170.4h0M446.9 191.5h0M437.9 150.5h0M440.6 127.2h0M441.7 175.7h0M455.0 162.8h0M435.4 141.4h0M462.2 193.5h0M441.0 133.4h0M447.4 193.8h0M421.0 131.5h0M456.9 153.8h0M446.2 164.0h0M462.9 147.2h0M460.5 170.8h0M455.5 158.4h0M452.9 165.5h0M443.0 152.5h0M437.6 121.7h0M430.0 147.3h0M465.6 135.6h0M450.9 119.0h0M457.5 121.0h0M439.5 166.5h0M446.9 162.4h0M446.0 164.3h0M433.9 132.6h0M428.0 215.6h0M446.8 170.9h0M437.3 126.5h0M443.1 200.7h0M446.3 184.4h0M418.6 146.4h0M469.9 158.9h0M442.3 169.1h0M440.3 166.9h0M430.4 184.1h0M432.2 122.1h0M427.5 118.8h0M406.6 111.9h0M448.6 123.9h0M430.5 140.9h0M417.3 115.5h0M429.4 128.1h0M422.1 115.1h0M433.5 126.3h0M407.6 115.3h0M443.1 130.3h0M435.3 118.7h0M417.9 108.0h0M424.9 139.3h0M416.0 106.5h0M436.2 118.0h0M419.6 126.4h0M412.5 131.6h0M419.5 131.1h0M429.5 122.2h0M436.7 119.7h0M403.9 119.2h0M414.4 127.9h0M428.9 121.4h0M426.6 106.5h0M428.2 111.6h0M417.5 122.1h0M415.0 193.8h0M427.0 195.4h0M426.5 182.1h0M396.5 171.9h0M429.3 214.0h0M430.6 186.5h0M408.1 198.9h0M431.8 178.5h0M409.5 183.7h0M402.5 210.3h0M409.8 182.2h0M409.4 215.9h0M412.7 187.7h0M403.2 190.8h0M396.8 185.0h0M424.9 193.8h0M406.8 216.8h0M420.8 176.9h0M408.4 196.3h0M415.9 188.3h0M411.5 201.9h0M405.5 191.4h0M437.6 200.8h0M400.7 201.5h0M415.6 172.1h0M421.1 190.5h0M425.0 211.8h0M401.1 198.4h0M413.9 198.4h0M442.3 206.2h0M424.3 202.0h0M422.3 210.4h0M436.7 205.0h0M414.0 216.6h0M414.2 207.5h0M422.7 208.6h0M444.8 202.8h0M405.1 213.9h0M393.2 204.4h0M426.9 218.2h0M419.8 203.0h0M436.3 201.0h0M421.5 199.4h0" stroke="#d2ebe6"/>
<path d="M248.7 169.1h0M238.4 170.2h0M240.6 173.3h0M246.2 157.1h0M247.8 211.3h0M181.3 65.5h0M184.5 65.5h0M188.3 66.2h0M172.8 58.1h0M186.4 67.9h0M183.3 100.5h0M193.6 100.1h0M199.1 118.4h0M181.4 121.3h0M201.9 94.1h0M203.8 95.8h0M207.3 117.5h0M192.2 92.0h0M205.5 82.0h0M199.0 82.1h0M199.3 113.2h0M200.9 114.1h0M205.6 97.5h0M212.1 113.5h0M206.6 114.4h0M204.3 132.4h0M220.4 112.6h0M186.8 91.6h0M203.6 135.8h0M204.6 107.5h0M196.6 93.1h0M206.7 129.5h0M203.1 118.4h0M196.7 86.0h0M197.0 88.6h0M210.2 107.4h0M204.6 112.0h0M178.0 111.9h0M183.0 132.4h0M185.6 117.3h0M181.5 128.6h0M186.7 123.2h0M183.0 132.3h0M184.3 130.9h0M180.3 128.8h0M178.3 119.6h0M213.7 92.9h0M207.2 82.7h0M218.5 95.7h0M221.5 91.2h0M228.4 92.4h0M227.1 105.8h0M204.9 94.8h0M209.6 92.7h0M223.0 79.0h0M212.5 97.1h0M214.1 75.7h0M226.1 115.4h0M219.5 143.1h0M221.6 140.5h0M214.6 121.6h0M229.8 136.5h0M226.1 134.3h0M237.2 121.2h0M225.0 129.1h0M233.1 134.1h0M227.6 130.0h0M235.6 95.6h0M238.0 93.7h0M239.9 100.4h0M234.0 94.6h0M231.5 89.4h0M229.7 112.1h0M187.2 125.6h0M192.7 121.7h0M184.9 120.7h0M192.2 127.5h0M196.2 127.7h0M194.8 127.5h0M198.4 127.8h0M203.4 123.5h0M392.0 67.5h0M392.6 58.5h0M391.7 60.3h0M324.7 248.9h0M328.8 246.6h0M317.8 242.0h0" stroke="#ecd3c8"/>
<path d="M391.6 58.1h0M395.8 68.0h0M389.3 65.0h0M395.7 60.4h0M461.0 210.5h0M453.0 219.4h0M452.2 218.5h0M463.7 212.8h0M447.5 230.8h0M458.0 222.2h0M454.9 211.3h0M451.2 227.8h0M453.0 215.0h0M457.5 213.2h0M446.2 226.0h0M454.0 225.8h0M463.5 221.8h0M454.7 228.8h0M459.3 223.7h0M461.5 211.1h0M455.1 220.1h0M451.6 218.2h0M424.9 215.9h0M432.6 216.4h0M403.9 223.2h0M418.4 221.3h0M436.5 214.7h0M420.3 225.3h0M439.3 223.1h0M447.6 235.0h0M432.9 220.7h0M439.0 232.1h0M427.1 219.3h0M429.4 221.3h0M474.8 211.1h0M473.2 203.5h0M467.5 207.0h0M465.3 215.2h0M468.8 213.9h0M472.5 218.5h0M355.9 254.3h0M350.9 252.8h0M349.0 248.8h0M351.6 257.0h0M351.5 249.1h0M345.6 254.2h0M360.2 252.7h0M360.4 252.3h0" stroke="#dfc0c8"/>
<path d="M406.7 219.6h0M381.5 211.1h0M387.0 210.3h0M403.2 207.2h0M392.2 204.6h0M384.8 207.6h0M395.0 211.9h0M397.4 220.6h0M393.2 225.1h0M390.3 209.2h0M402.7 210.5h0M399.7 209.8h0M393.3 203.1h0M393.4 230.4h0M379.1 209.7h0M390.3 215.7h0M368.5 261.8h0M376.6 257.1h0M371.4 248.2h0M373.0 253.9h0M378.2 256.0h0M373.6 252.9h0M373.9 258.6h0M380.1 254.2h0" stroke="#bfc3df"/>
<path d="M344.0 249.2h0M347.1 255.4h0M345.9 248.8h0M359.0 254.5h0M337.8 252.2h0M357.9 250.4h0M352.7 254.0h0M358.2 255.0h0M340.0 250.7h0M339.7 259.5h0M350.2 251.3h0M340.2 255.6h0M349.7 252.2h0M377.5 261.4h0M374.0 265.6h0M383.9 259.6h0M378.8 266.2h0M383.3 265.9h0M367.9 266.8h0M388.1 255.7h0M376.8 249.6h0M371.0 273.3h0M373.2 272.4h0M365.3 267.9h0M370.2 260.6h0M384.9 261.7h0M372.4 252.7h0M367.8 263.3h0M376.9 250.6h0M390.9 257.5h0M391.2 277.3h0M388.4 265.7h0M391.5 266.8h0M390.3 271.1h0M385.8 266.4h0M390.1 275.8h0M385.5 278.4h0M392.4 267.1h0M392.8 274.3h0M393.5 264.2h0M395.9 280.9h0M381.3 269.1h0M390.4 268.9h0M398.7 273.6h0M381.6 272.0h0M349.6 346.3h0M351.5 352.1h0" stroke="#c0dfc8"/>
<path d="M374.4 87.7h0M357.9 82.0h0M341.9 86.1h0M365.0 84.7h0M355.2 83.6h0M367.5 87.7h0M358.0 82.4h0M356.0 80.2h0M361.9 83.5h0M366.4 86.4h0M339.8 113.4h0M340.7 99.9h0M333.1 106.9h0M343.7 94.8h0M348.1 101.0h0M338.4 94.8h0M398.9 99.0h0M403.3 103.2h0M390.6 101.0h0M400.3 100.0h0M397.6 89.1h0M390.3 105.1h0M409.5 99.0h0M394.7 92.8h0M404.1 102.9h0M410.2 99.7h0M401.2 116.1h0M389.2 110.3h0M404.9 98.7h0M418.7 112.9h0M393.9 104.0h0M391.1 103.2h0M381.1 106.0h0M407.1 102.5h0M387.6 98.4h0M391.3 111.5h0M389.7 113.1h0M406.8 107.0h0M393.6 101.1h0M402.7 102.8h0M383.2 88.1h0M400.4 97.4h0M392.3 97.5h0M391.1 100.9h0M389.1 106.3h0M394.9 98.4h0M418.8 119.0h0M380.2 99.9h0M392.4 90.7h0M388.3 103.5h0M388.1 95.3h0M406.5 101.0h0M408.5 102.5h0M404.1 109.0h0M395.6 118.3h0M402.2 131.5h0M399.1 120.6h0M399.9 120.1h0M408.9 125.5h0M406.6 118.9h0M403.9 111.4h0M399.3 126.0h0M393.4 114.1h0M406.1 117.5h0M411.2 116.0h0M407.5 125.3h0M393.7 120.2h0M404.3 119.3h0M388.3 126.0h0M393.0 120.3h0M404.7 119.9h0M388.2 125.3h0M395.9 123.1h0M369.9 96.3h0M386.1 101.4h0M378.2 103.9h0M373.1 102.5h0M379.9 95.9h0M371.4 90.5h0M378.5 94.5h0M379.8 105.3h0M391.3 93.1h0M369.8 104.9h0M380.0 164.4h0M369.8 153.1h0M382.4 160.5h0M374.1 141.3h0M373.4 130.9h0M367.3 162.0h0M371.9 160.5h0M368.1 133.9h0M377.3 152.7h0M377.8 153.7h0M382.0 156.1h0M364.6 153.9h0M368.9 130.9h0M370.3 155.8h0M379.5 137.2h0M376.0 142.1h0M376.7 156.9h0M378.1 141.9h0M365.4 147.2h0M376.3 146.8h0M373.8 147.9h0M375.0 164.3h0M371.6 143.7h0M381.8 166.1h0M380.4 166.3h0M388.5 161.9h0M380.5 163.8h0M373.8 169.1h0M393.6 172.9h0M386.4 187.5h0M371.8 163.9h0M386.4 170.3h0M388.6 188.9h0M385.7 165.0h0M386.0 157.8h0M374.5 169.0h0M391.1 177.2h0M380.2 256.3h0M371.8 237.1h0M367.8 260.5h0M370.5 244.0h0M364.1 256.0h0M369.2 239.4h0M383.4 251.0h0M374.6 248.3h0M384.4 258.7h0M382.5 253.1h0M371.2 243.2h0M371.1 255.7h0M370.2 250.9h0M378.7 250.9h0M370.5 259.0h0M383.4 255.1h0M392.6 266.2h0M393.4 264.0h0M394.7 266.2h0M389.8 269.5h0M387.6 277.3h0M389.3 267.1h0M396.9 270.6h0" stroke="#8cdccf"/>
<path d="M184.1 208.5h0M192.5 198.0h0M190.6 206.6h0M186.6 200.5h0M187.7 199.8h0M189.9 197.3h0M187.1 194.9h0M186.9 204.7h0M241.2 306.1h0M236.1 314.2h0M248.7 309.2h0M225.9 305.7h0M243.5 325.5h0M242.1 312.5h0M238.9 313.5h0M240.9 317.5h0M239.5 310.2h0M256.3 311.6h0M228.6 330.0h0M249.9 307.3h0M237.8 296.4h0M234.1 335.0h0M237.9 293.6h0M252.3 304.6h0M226.3 317.2h0M235.8 310.9h0M233.5 301.7h0M241.7 314.7h0M229.0 327.6h0M235.5 328.1h0M231.9 303.5h0M237.0 282.1h0M248.2 297.9h0M244.9 312.8h0M240.3 300.1h0M242.8 294.2h0M230.3 324.5h0M247.8 308.3h0M251.5 303.2h0M243.3 297.1h0M220.6 317.5h0M240.5 321.2h0M246.6 301.2h0M246.1 336.6h0M230.0 322.8h0M241.3 326.6h0M239.3 307.6h0M233.1 325.1h0M242.4 326.0h0M248.6 297.4h0M240.5 305.3h0M233.7 327.7h0M254.7 311.9h0M239.5 303.5h0M259.1 306.3h0M250.6 294.7h0M236.4 301.7h0M253.7 292.4h0M251.5 294.4h0M242.9 332.5h0M244.6 313.6h0M243.4 312.3h0M234.7 307.3h0M241.3 318.7h0M239.6 336.5h0M253.9 294.9h0M233.9 326.1h0M241.9 310.2h0M236.5 295.1h0M230.3 301.1h0M248.8 305.1h0M229.5 318.4h0M248.5 306.5h0M249.4 334.9h0M238.4 308.9h0M229.3 288.7h0M233.7 293.7h0M256.9 310.5h0M245.2 300.9h0M245.1 336.0h0M249.8 308.0h0M238.9 301.4h0M239.6 320.8h0M248.1 297.6h0M224.8 306.7h0M223.4 303.6h0M235.4 322.1h0M241.6 306.7h0M251.4 300.1h0M242.9 294.0h0M227.9 304.0h0M244.5 300.6h0M267.4 317.8h0M242.5 302.6h0M244.7 287.9h0M237.3 303.2h0M260.1 301.5h0M235.3 288.3h0M246.5 322.5h0M260.8 314.4h0M243.5 314.6h0M251.5 323.9h0M250.9 358.3h0M240.1 348.1h0M245.5 345.6h0M239.7 357.6h0M241.8 353.4h0M235.3 348.2h0M248.9 354.6h0M247.9 350.4h0M252.3 353.0h0M249.9 361.3h0M244.2 354.7h0M240.3 358.4h0M239.1 347.4h0M237.3 349.7h0M252.3 348.6h0M235.6 353.2h0M245.6 347.7h0M242.0 350.7h0M237.5 347.0h0M240.2 355.7h0M244.8 357.1h0M251.0 357.4h0M255.6 355.1h0M247.6 347.5h0M249.0 349.3h0M250.6 348.8h0M247.5 344.6h0M239.7 354.1h0M235.0 339.0h0M234.6 355.0h0M239.5 337.4h0M234.4 353.7h0M223.0 344.1h0M237.4 334.5h0M223.9 333.4h0M227.4 347.3h0M230.8 325.9h0M231.0 343.2h0M226.2 331.9h0M229.7 340.2h0M225.2 341.6h0M222.3 342.6h0M231.9 325.4h0M237.9 338.2h0M232.1 336.0h0M226.8 329.7h0M270.0 314.8h0M270.3 307.4h0M251.9 305.0h0M277.9 325.5h0M264.6 332.5h0M256.3 310.3h0M265.8 302.5h0M261.6 327.2h0M252.9 325.6h0M247.7 313.2h0M255.0 322.4h0M265.3 321.7h0M245.5 303.6h0M266.9 324.2h0M265.4 306.7h0M284.8 300.7h0M260.9 336.6h0M279.5 333.7h0M260.1 321.3h0M262.2 308.5h0M279.5 302.1h0M266.8 297.5h0M264.8 296.5h0M265.6 326.5h0M207.7 252.8h0M204.8 259.6h0M206.1 250.4h0" stroke="#f0b58a"/>
<path d="M124.1 226.8h0M125.5 222.9h0M131.2 221.5h0M131.4 226.4h0M122.9 219.9h0M128.6 224.1h0M128.3 215.8h0M132.4 224.4h0M120.0 220.6h0M124.5 224.7h0M134.0 154.9h0M130.2 146.7h0M124.1 155.9h0M129.8 156.7h0M124.2 151.0h0M121.4 146.2h0M119.6 146.9h0M126.8 143.4h0M132.5 153.0h0M123.5 158.8h0M133.9 176.2h0M138.9 178.4h0M125.2 174.7h0M130.6 174.6h0M126.8 180.4h0M133.1 198.4h0M131.5 195.7h0M161.8 184.6h0M132.1 175.1h0M138.1 199.2h0M199.5 247.1h0" stroke="#e8b0bd"/>
<path d="M375.5 149.1h0M366.9 151.7h0M367.7 153.6h0M365.1 156.5h0M382.2 174.6h0M384.3 187.9h0M383.0 172.7h0M381.6 189.8h0M386.2 181.2h0M384.6 190.5h0M384.2 172.3h0M458.7 153.0h0M436.7 122.3h0M455.8 148.9h0M446.6 141.4h0M455.8 139.5h0M456.5 135.7h0M434.6 137.3h0M448.6 136.0h0M457.2 133.0h0M461.2 137.7h0M462.8 150.6h0M455.4 144.6h0M464.6 157.5h0M439.4 175.1h0M428.9 160.3h0M463.0 196.6h0M394.7 132.6h0M418.5 149.3h0M406.9 148.5h0M413.6 144.5h0M458.1 164.8h0M409.2 140.8h0M428.1 122.5h0M460.7 179.6h0M385.4 177.4h0M413.8 152.4h0M391.8 167.5h0M451.2 160.4h0M472.5 191.7h0M467.8 169.3h0M472.2 203.9h0M471.4 197.3h0M467.0 199.0h0M469.8 179.4h0M467.6 192.1h0M469.4 169.0h0M468.9 188.7h0" stroke="#80d090"/>
<path d="M237.7 23.8h0M240.8 26.2h0M235.0 26.5h0M241.3 23.3h0M242.1 29.1h0M241.6 26.4h0M231.3 29.3h0M294.8 125.6h0M298.2 137.5h0M299.8 122.1h0M302.8 125.4h0M296.8 124.4h0M178.8 63.9h0M184.9 69.9h0M186.6 70.6h0M169.2 57.2h0M177.0 59.3h0M179.4 63.4h0M117.1 136.0h0" stroke="#b5bbe5"/>
<path d="M279.5 318.8h0M286.1 322.1h0M288.3 312.9h0M275.0 307.4h0M285.6 326.3h0M281.0 315.4h0M281.9 302.4h0M279.9 322.9h0M282.8 325.2h0M283.5 328.7h0M274.0 331.8h0M268.3 329.7h0M259.1 337.7h0M267.3 340.6h0M272.6 339.5h0M274.2 341.2h0" stroke="#8a90c5"/>
<path d="M249.1 80.9h0M255.6 77.8h0M247.5 75.1h0M268.6 91.3h0M258.6 74.6h0M267.4 81.3h0M265.5 71.0h0M263.7 94.4h0M262.9 86.7h0M246.0 74.6h0M262.9 68.8h0M261.5 91.7h0M264.2 71.2h0M255.8 84.8h0M263.3 96.8h0M261.9 71.7h0M256.2 78.4h0M253.0 86.1h0M246.7 54.5h0M231.4 71.5h0M245.2 53.2h0M238.4 51.3h0M236.8 52.7h0M237.6 62.6h0M244.9 54.8h0M236.9 49.8h0M222.3 22.8h0M224.1 27.1h0M225.2 36.4h0M223.7 27.6h0M281.0 66.3h0M277.1 91.8h0M269.9 63.6h0M282.9 84.7h0M266.5 76.8h0M273.9 71.1h0M248.4 147.2h0M249.2 133.1h0M298.1 121.6h0M302.8 138.3h0M290.7 119.0h0M304.9 131.4h0M297.4 119.4h0M300.3 127.2h0M303.2 130.8h0M300.6 132.7h0M290.2 125.2h0M301.2 129.8h0M269.6 149.7h0M268.2 145.8h0M273.3 154.9h0M276.6 150.7h0M318.2 245.6h0" stroke="#8d9be0"/>
<path d="M397.4 236.2h0M419.6 225.6h0M414.7 230.5h0M407.0 227.1h0M403.6 218.3h0M397.6 218.6h0M411.1 217.9h0M399.1 241.6h0" stroke="#c07a8a"/>
<path d="M331.7 250.2h0M340.6 326.5h0M344.1 329.8h0" stroke="#e0708a"/>
<path d="M350.1 213.9h0M352.7 217.0h0M355.4 215.7h0M358.0 215.2h0M354.2 214.9h0M357.9 212.1h0M356.5 219.6h0M359.0 214.2h0M391.9 208.5h0M395.7 211.6h0M392.9 220.2h0M391.3 227.3h0M370.1 221.4h0M391.4 209.5h0M413.4 208.3h0M396.5 217.0h0M379.7 241.0h0M385.9 212.9h0M400.5 220.3h0M385.3 221.7h0M417.5 228.9h0M401.4 230.3h0M421.1 228.3h0M418.4 234.0h0M366.6 261.3h0M374.6 245.1h0M365.1 261.4h0M361.2 258.7h0M376.0 264.2h0M371.4 241.7h0" stroke="#d93d6e"/>
<path d="M238.7 19.6h0M251.9 22.2h0M239.1 18.0h0M251.1 23.6h0M241.8 16.2h0M243.5 14.8h0M252.3 11.3h0M246.9 15.7h0M254.7 27.1h0M254.2 17.0h0M233.4 22.6h0M236.8 27.4h0M263.9 25.0h0M257.6 24.4h0M253.5 20.0h0M241.4 18.3h0M262.7 18.1h0M262.0 14.3h0M259.3 26.6h0M246.2 22.8h0M268.1 23.1h0M244.6 23.5h0M243.7 25.3h0M245.7 20.6h0M256.6 30.7h0M258.9 11.6h0M246.5 22.2h0M258.5 19.1h0M250.2 25.2h0M260.7 25.9h0M255.7 31.3h0M247.0 17.1h0M259.4 30.7h0M249.2 21.8h0M251.2 17.0h0M247.4 27.8h0M246.1 20.8h0M253.3 27.5h0M231.5 17.1h0M249.7 13.3h0M239.0 16.0h0M241.6 8.4h0M255.8 25.9h0M236.1 53.4h0M240.0 41.1h0M231.9 50.2h0M234.4 43.9h0M239.5 45.6h0M219.8 40.2h0M220.1 34.6h0M224.2 47.0h0M232.2 46.5h0M228.1 37.4h0M229.2 45.4h0M231.3 42.1h0M224.5 50.8h0M225.2 48.9h0M229.7 48.7h0M229.1 49.9h0M236.0 41.0h0M222.4 46.7h0M234.8 47.4h0M221.9 40.1h0M232.3 43.0h0M234.2 35.9h0M217.7 45.6h0M229.5 45.9h0M220.5 41.4h0M229.7 31.0h0M227.6 38.1h0M223.3 45.3h0M227.1 41.8h0M228.1 43.6h0M225.8 38.6h0M231.5 40.2h0M257.9 60.2h0M259.6 41.4h0M265.5 50.2h0M248.0 64.0h0M267.7 44.4h0M267.0 49.9h0M268.7 59.1h0M267.3 40.3h0M253.9 41.3h0M259.2 48.1h0M261.9 49.1h0M257.7 54.1h0M256.4 53.3h0M255.0 41.7h0M261.7 52.5h0M259.1 45.8h0M271.8 45.6h0M263.1 44.5h0M261.7 49.0h0M268.4 45.4h0M270.2 53.4h0M245.9 40.6h0M250.1 53.7h0M267.5 47.1h0M268.6 46.9h0M248.9 53.0h0M252.5 45.2h0M262.6 48.7h0M249.2 50.1h0M256.8 52.0h0M254.9 48.0h0M255.3 50.5h0M261.0 48.8h0M264.7 52.8h0M241.1 57.8h0M261.1 47.0h0M250.1 104.6h0M252.1 75.5h0M243.7 92.8h0M244.8 67.1h0M246.0 96.7h0M247.2 90.2h0M254.6 92.0h0M235.4 76.1h0M246.9 77.0h0M248.4 94.7h0M245.3 69.3h0M252.1 87.0h0M250.6 79.7h0M248.5 83.4h0M250.5 91.3h0M252.2 85.1h0M244.6 71.3h0M243.1 82.6h0M246.4 100.7h0M243.3 78.4h0M254.9 85.1h0M251.4 92.6h0M243.9 87.0h0M246.2 79.4h0M246.3 79.0h0M251.3 91.1h0M246.5 80.6h0M240.1 95.5h0M255.9 85.9h0M242.4 89.0h0M254.0 91.2h0M239.4 66.3h0M249.0 83.2h0M252.9 88.8h0M245.9 79.7h0M250.6 86.6h0M239.6 78.8h0M245.2 76.9h0M242.7 89.6h0M235.1 79.5h0M238.4 79.2h0M252.4 84.5h0M241.0 82.9h0M256.5 93.2h0M256.0 84.6h0M254.2 76.0h0M258.9 90.3h0M291.8 75.8h0M285.2 67.6h0M287.7 37.1h0M288.3 59.5h0M286.3 42.8h0M286.8 77.8h0M287.6 66.7h0M278.6 37.0h0M274.7 64.9h0M289.3 57.9h0M283.5 33.8h0M277.1 77.3h0M289.8 57.7h0M283.0 45.3h0M284.0 70.2h0M265.0 25.9h0M273.1 23.2h0M264.6 21.0h0M271.4 22.0h0M270.3 28.4h0M266.2 15.3h0M257.4 98.7h0M264.6 109.8h0M269.7 106.5h0M262.2 100.5h0M255.1 100.8h0M268.3 118.3h0M257.5 97.3h0M257.3 111.3h0M240.7 66.5h0M238.8 71.1h0M227.4 69.3h0M241.1 69.3h0M227.1 58.5h0M241.4 55.8h0M241.1 66.6h0M230.1 66.1h0M237.0 57.1h0M242.8 60.4h0M227.5 62.3h0M228.1 69.4h0M242.2 63.5h0M237.6 72.7h0M232.8 65.6h0M228.4 64.5h0M231.1 64.0h0M238.8 59.2h0M245.6 63.2h0M300.8 124.1h0M306.2 126.3h0M295.2 118.5h0M300.6 118.1h0M300.0 131.9h0M297.9 118.4h0M297.8 129.2h0M289.1 123.5h0M301.0 117.3h0M266.6 144.8h0M275.6 151.1h0M267.5 148.3h0M182.3 167.9h0M183.0 168.8h0M380.8 280.1h0" stroke="#f0950f"/>
<path d="M258.3 42.9h0M276.5 43.3h0M265.3 37.0h0M267.1 51.8h0M257.9 29.2h0M256.3 35.5h0M263.9 38.1h0M254.4 34.1h0M260.2 24.8h0M260.4 29.4h0M267.3 36.7h0M261.5 44.8h0M259.3 42.8h0M261.2 37.8h0M263.6 48.1h0M271.7 31.4h0M273.2 32.8h0M259.7 30.5h0M277.9 50.6h0M278.1 53.3h0M280.3 81.9h0M289.4 68.0h0M294.8 67.4h0M279.3 57.3h0M302.9 83.0h0M283.3 55.7h0M283.4 59.3h0M299.9 68.1h0M295.0 93.5h0M268.7 75.0h0M276.2 53.9h0M275.6 60.6h0M304.5 61.7h0M287.2 53.8h0M304.1 74.0h0M295.8 42.6h0M289.6 91.4h0M276.7 68.4h0M301.0 81.2h0M269.5 69.1h0M274.8 81.7h0M294.6 65.7h0M275.7 57.6h0M276.2 60.9h0M283.9 70.4h0M263.2 54.6h0M283.4 86.6h0M284.5 70.4h0M287.9 41.5h0M268.4 51.4h0M277.4 67.1h0M282.5 55.7h0M274.4 70.3h0M284.7 71.4h0M282.8 82.4h0M290.3 82.2h0M283.6 76.7h0M282.6 52.8h0M284.4 66.8h0M290.6 60.1h0M282.3 55.7h0M282.9 76.7h0M285.2 71.6h0M287.7 52.6h0M294.6 56.3h0M279.6 73.1h0M271.5 72.4h0M276.5 88.8h0M296.3 60.7h0M291.7 63.7h0M288.9 67.4h0M272.1 57.0h0M289.4 68.3h0M279.0 70.9h0M283.9 56.4h0M269.2 41.2h0M277.1 56.8h0M265.0 51.1h0M281.6 48.1h0M264.0 44.7h0M259.5 50.4h0M275.8 63.1h0M263.6 50.6h0M266.6 60.7h0M257.5 44.6h0M261.2 43.2h0M260.1 62.7h0M259.3 47.1h0M273.9 42.7h0M272.4 57.4h0M260.8 66.4h0M267.1 32.3h0M271.6 48.8h0M257.6 105.9h0M256.5 112.9h0M260.1 115.3h0M269.1 117.0h0M273.0 106.2h0M268.8 110.2h0M255.2 108.8h0M261.1 100.2h0M276.1 107.7h0M249.7 106.9h0M261.7 109.7h0M270.1 116.2h0M257.6 101.1h0M261.2 122.9h0M263.1 104.8h0M257.7 105.8h0M270.5 113.2h0M267.3 110.5h0M269.4 116.2h0M254.4 114.6h0M269.1 103.0h0M259.3 127.1h0M262.4 114.5h0M257.3 108.1h0M262.0 115.4h0M261.8 102.9h0M268.4 105.9h0M257.3 121.5h0M264.1 103.3h0M261.2 106.1h0M264.0 125.3h0M263.1 112.4h0M275.0 117.3h0M263.6 116.0h0M279.1 101.6h0M279.3 112.5h0M263.9 103.5h0M276.7 79.4h0M275.4 99.4h0M283.5 83.2h0M277.8 92.3h0M284.7 83.3h0M278.0 88.6h0M277.3 95.4h0M276.9 77.0h0M269.4 96.2h0M273.8 78.2h0M272.2 90.3h0M276.4 96.0h0M269.4 91.2h0M270.6 104.7h0M270.8 86.8h0M274.5 96.2h0M274.3 93.3h0M279.1 92.5h0M288.2 90.7h0M277.0 91.7h0M255.1 72.4h0M258.4 78.5h0M253.2 72.5h0M247.3 79.1h0M259.0 56.7h0M252.9 66.4h0M250.1 170.1h0M247.7 170.7h0M243.6 167.4h0M246.6 165.8h0M256.8 129.3h0M248.2 138.2h0M252.8 134.9h0M248.0 138.3h0M246.3 193.3h0M275.8 148.8h0M270.9 157.6h0M268.5 144.2h0M278.0 147.3h0M181.9 67.9h0M183.9 68.3h0M188.5 203.6h0M358.4 86.8h0M359.0 80.0h0M364.6 86.2h0M349.9 88.5h0M352.5 80.6h0M348.9 79.2h0M350.2 79.3h0M356.1 92.9h0M362.7 77.2h0M357.2 90.4h0M358.5 82.3h0M357.1 84.3h0M350.6 82.4h0M348.0 81.7h0M468.4 128.6h0M457.1 137.7h0M383.8 277.8h0M380.5 273.8h0M387.5 280.6h0M381.7 274.3h0M382.1 280.8h0M381.5 280.1h0M383.8 282.9h0M285.2 276.4h0M285.7 278.0h0M282.2 277.8h0M210.8 258.6h0M344.7 320.0h0M341.7 317.8h0M349.5 319.9h0M353.1 341.6h0M355.6 352.5h0M355.0 349.1h0M356.2 349.1h0M353.4 346.7h0" stroke="#1ec8b8"/>
<path d="M227.3 36.4h0M216.8 47.3h0M224.5 45.6h0M222.7 50.8h0M222.7 45.7h0M227.5 45.7h0M219.6 41.1h0M216.7 52.3h0M226.9 42.4h0M262.3 81.7h0M257.2 94.2h0M267.6 66.4h0M262.6 58.6h0M257.4 66.9h0M264.7 83.7h0M255.5 84.8h0M251.8 76.1h0M246.1 50.1h0M263.5 34.2h0M249.9 43.9h0M256.1 30.3h0M244.8 34.7h0M253.4 31.5h0M304.0 106.2h0M305.8 110.7h0M303.6 105.7h0M200.5 92.1h0M194.3 82.3h0M197.7 75.2h0" stroke="#4a6fe0"/>
<path d="M242.8 87.4h0M240.2 61.4h0M248.5 86.1h0M261.3 104.3h0M279.4 33.5h0M260.3 90.0h0M269.4 109.2h0M254.4 96.2h0M249.8 137.5h0M249.3 131.8h0M250.0 123.2h0M249.7 126.5h0M250.5 132.4h0M245.8 151.0h0M247.1 145.4h0M245.1 155.3h0M247.5 179.1h0M246.6 176.1h0M246.9 171.3h0M245.5 173.9h0M243.5 182.3h0M243.4 183.3h0M243.1 177.1h0M301.3 132.9h0M297.3 137.0h0M184.7 71.9h0M193.5 90.8h0M197.8 120.7h0M117.7 134.0h0M188.5 200.3h0M343.4 89.4h0M355.8 86.8h0M349.5 82.5h0M365.3 85.5h0M348.2 84.8h0M345.7 88.5h0M353.4 78.9h0M355.4 80.9h0M349.4 83.1h0M361.3 89.2h0M351.7 82.3h0M342.0 108.1h0M334.2 112.3h0M340.0 104.8h0M333.7 112.8h0M334.2 110.7h0M311.7 97.4h0M328.9 104.2h0M366.9 139.0h0M390.1 66.5h0M392.5 68.6h0M389.9 66.5h0M320.6 243.4h0M320.4 245.2h0M219.0 315.0h0M218.8 316.3h0M222.1 322.9h0M286.5 321.6h0M288.6 327.3h0M206.7 256.7h0M210.6 257.4h0M208.5 254.6h0M212.6 257.3h0M208.1 257.4h0M351.7 344.7h0" stroke="#18c040"/>
<path d="M396.4 169.6h0M383.9 186.6h0M397.7 193.1h0M365.9 252.5h0M358.5 251.3h0M264.5 307.1h0M261.5 292.9h0M260.3 292.3h0M284.4 307.1h0M252.4 313.2h0M258.2 286.8h0M261.3 293.5h0M263.5 292.0h0M259.7 311.3h0M273.9 299.9h0M270.5 315.6h0M277.2 314.2h0M262.9 303.3h0M281.6 323.7h0M270.5 326.0h0M247.9 306.6h0M259.4 321.2h0M284.1 311.1h0M258.6 306.0h0M262.5 318.9h0M265.4 324.8h0M262.8 306.6h0M253.4 298.1h0M245.2 315.1h0M264.8 301.2h0M256.4 315.2h0M267.4 333.8h0M254.0 295.6h0M281.0 306.0h0M282.4 302.4h0M253.1 312.8h0M267.6 283.0h0M254.1 304.9h0M266.7 316.5h0M255.8 308.6h0M264.1 318.2h0M254.0 316.4h0M263.5 316.6h0M267.7 327.0h0M260.0 311.5h0M248.4 337.4h0M246.5 330.8h0M259.8 338.5h0M255.2 331.0h0M251.7 335.0h0M250.9 331.1h0M266.3 339.3h0M258.2 331.1h0M252.8 322.4h0M254.3 335.1h0M253.0 325.8h0M250.8 280.8h0M255.0 280.1h0M240.2 274.7h0M250.3 280.4h0M252.9 275.2h0M289.3 278.3h0M295.7 279.0h0M291.7 278.4h0M288.1 279.3h0M293.1 278.1h0M212.8 260.0h0M212.5 257.6h0M351.9 322.5h0M345.2 323.5h0M346.6 327.0h0" stroke="#0b3fa0"/>
<path d="M343.4 314.0h0M346.1 325.5h0M347.1 318.8h0M346.4 325.1h0M348.1 311.8h0M352.3 362.7h0M355.9 363.5h0M352.1 350.4h0M352.6 352.0h0" stroke="#8e0f3e"/>
</g>
<g font-weight="bold" text-anchor="middle" fill="#000">
<text x="212.4" y="28.4" font-size="20.5">8</text>
<text x="234.6" y="38.8" font-size="20.5">6</text>
<text x="235.3" y="70.9" font-size="20.5">17</text>
<text x="263" y="85" font-size="20.5">7</text>
<text x="257.5" y="113.4" font-size="20.5">18</text>
<text x="198.8" y="141.1" font-size="20.5">15</text>
<text x="266" y="172.2" font-size="20.5">12</text>
<text x="109.7" y="187.7" font-size="20.5">21</text>
<text x="130.4" y="219.4" font-size="20.5">9</text>
<text x="365.8" y="126.4" font-size="20.5">19</text>
<text x="405" y="159.2" font-size="20.5">13</text>
<text x="442.6" y="188.4" font-size="20.5">20</text>
<text x="361" y="213.2" font-size="20.5">11</text>
<text x="387.6" y="233.9" font-size="20.5">2</text>
<text x="467.4" y="233.1" font-size="20.5">3</text>
<text x="349.5" y="247.4" font-size="20.5">10</text>
<text x="363.5" y="273" font-size="20.5">4</text>
<text x="399.4" y="283" font-size="20.5">14</text>
<text x="272.3" y="286.7" font-size="20.5">0</text>
<text x="301.5" y="325.9" font-size="20.5">1</text>
<text x="363.5" y="343.2" font-size="20.5">5</text>
<text x="264.9" y="362.1" font-size="20.5">16</text>
</g>
<line x1="76.8" y1="394.5" x2="76.8" y2="300" stroke="#1a1a1a" stroke-width="1.6"/>
<line x1="76" y1="393.7" x2="172" y2="393.7" stroke="#1a1a1a" stroke-width="1.6"/>
<path d="M76.8 288.5L70 301.5L83.6 301.5Z" fill="#1a1a1a"/>
<path d="M183 393.7L170.5 387L170.5 400.4Z" fill="#1a1a1a"/>
<text x="79" y="410.6" font-size="14.8" style="fill:#222">UMAP1</text>
<text font-size="14.8" style="fill:#222" transform="translate(72.3 391.8) rotate(-90)">UMAP2</text>
<text x="553" y="60" font-size="15" font-weight="bold">Embryonic immune cells</text>
<text x="760.5" y="59.4" font-size="15" font-weight="bold">Prenatal skin cells</text>
<text x="562" y="92.7" font-size="15.1" text-anchor="end" font-weight="bold">0</text>
<circle cx="576.3" cy="87.5" r="8.3" fill="#0b3fa0"/>
<text x="590" y="92.1" font-size="15.1"><tspan font-style="italic">CD7</tspan><tspan font-size="6.5" dy="-5.42">hi</tspan><tspan dy="5.42">&#8203;</tspan>P</text>
<text x="775.5" y="92.7" font-size="15.1" text-anchor="end" font-weight="bold">11</text>
<circle cx="787.6" cy="87.2" r="8.3" fill="#d93d6e"/>
<text x="800.5" y="92.1" font-size="15.1">MkP</text>
<text x="562" y="117.82" font-size="15.1" text-anchor="end" font-weight="bold">1</text>
<circle cx="576.3" cy="112.62" r="8.3" fill="#8a90c5"/>
<text x="590" y="117.22" font-size="15.1"><tspan font-style="italic">CD7</tspan><tspan font-size="6.5" dy="-5.42">lo</tspan><tspan dy="5.42">&#8203;</tspan>P</text>
<text x="775.5" y="117.82" font-size="15.1" text-anchor="end" font-weight="bold">12</text>
<circle cx="787.6" cy="112.32" r="8.3" fill="#18c040"/>
<text x="800.5" y="117.22" font-size="15.1">Monocyte</text>
<text x="562" y="142.94" font-size="15.1" text-anchor="end" font-weight="bold">2</text>
<circle cx="576.3" cy="137.74" r="8.3" fill="#bfc3df"/>
<text x="588.5" y="142.34" font-size="15.1">ErP</text>
<text x="775.5" y="142.94" font-size="15.1" text-anchor="end" font-weight="bold">13</text>
<circle cx="787.6" cy="137.44" r="8.3" fill="#80d090"/>
<text x="800.5" y="142.34" font-size="15.1">Myeloblast</text>
<text x="562" y="168.06" font-size="15.1" text-anchor="end" font-weight="bold">3</text>
<circle cx="576.3" cy="162.86" r="8.3" fill="#dfc0c8"/>
<text x="588.5" y="167.46" font-size="15.1">GMP</text>
<text x="775.5" y="168.06" font-size="15.1" text-anchor="end" font-weight="bold">14</text>
<circle cx="787.6" cy="162.56" r="8.3" fill="#c0dfc8"/>
<text x="800.5" y="167.46" font-size="15.1">YSMP</text>
<text x="562" y="193.18" font-size="15.1" text-anchor="end" font-weight="bold">4</text>
<circle cx="576.3" cy="187.98" r="8.3" fill="#c07a8a"/>
<text x="588.5" y="192.58" font-size="15.1">HSPC</text>
<text x="775.5" y="193.18" font-size="15.1" text-anchor="end" font-weight="bold">15</text>
<circle cx="787.6" cy="187.68" r="8.3" fill="#ecd3c8"/>
<text x="800.5" y="192.58" font-size="15.1">Iron-recycling macrophage</text>
<text x="562" y="218.3" font-size="15.1" text-anchor="end" font-weight="bold">5</text>
<circle cx="576.3" cy="213.1" r="8.3" fill="#8e0f3e"/>
<text x="588.5" y="217.7" font-size="15.1">ILC</text>
<text x="775.5" y="218.3" font-size="15.1" text-anchor="end" font-weight="bold">16</text>
<circle cx="787.6" cy="212.8" r="8.3" fill="#f0b58a"/>
<text x="800.5" y="217.7" font-size="15.1">LC</text>
<text x="562" y="243.42" font-size="15.1" text-anchor="end" font-weight="bold">6</text>
<circle cx="576.3" cy="238.22" r="8.3" fill="#4a6fe0"/>
<text x="588.5" y="242.82" font-size="15.1">Mac1</text>
<text x="775.5" y="243.42" font-size="15.1" text-anchor="end" font-weight="bold">17</text>
<circle cx="787.6" cy="237.92" r="8.3" fill="#f0950f"/>
<text x="800.5" y="242.82" font-size="15.1"><tspan font-style="italic">LYVE1</tspan><tspan font-size="9" dy="-5.25">+</tspan><tspan dy="5.25">&#8203;</tspan> macrophage</text>
<text x="562" y="268.54" font-size="15.1" text-anchor="end" font-weight="bold">7</text>
<circle cx="576.3" cy="263.34" r="8.3" fill="#8d9be0"/>
<text x="588.5" y="267.94" font-size="15.1">Mac2</text>
<text x="775.5" y="268.54" font-size="15.1" text-anchor="end" font-weight="bold">18</text>
<circle cx="787.6" cy="263.04" r="8.3" fill="#1ec8b8"/>
<text x="800.5" y="267.94" font-size="15.1">MHCII<tspan font-size="9" dy="-5.25">+</tspan><tspan dy="5.25">&#8203;</tspan> macrophage</text>
<text x="562" y="293.66" font-size="15.1" text-anchor="end" font-weight="bold">8</text>
<circle cx="576.3" cy="288.46" r="8.3" fill="#b5bbe5"/>
<text x="588.5" y="293.06" font-size="15.1">Mac3</text>
<text x="775.5" y="293.66" font-size="15.1" text-anchor="end" font-weight="bold">19</text>
<circle cx="787.6" cy="288.16" r="8.3" fill="#8cdccf"/>
<text x="800.5" y="293.06" font-size="15.1">Monocyte (activated/differentiating)</text>
<text x="562" y="318.78" font-size="15.1" text-anchor="end" font-weight="bold">9</text>
<circle cx="576.3" cy="313.58" r="8.3" fill="#e8b0bd"/>
<text x="588.5" y="318.18" font-size="15.1">Mac4</text>
<text x="775.5" y="318.78" font-size="15.1" text-anchor="end" font-weight="bold">20</text>
<circle cx="787.6" cy="313.28" r="8.3" fill="#d2ebe6"/>
<text x="800.5" y="318.18" font-size="15.1">Monocyte precursor</text>
<text x="562" y="343.9" font-size="15.1" text-anchor="end" font-weight="bold">10</text>
<circle cx="576.3" cy="338.7" r="8.3" fill="#e0708a"/>
<text x="588.5" y="343.3" font-size="15.1">Mast cell</text>
<text x="775.5" y="343.9" font-size="15.1" text-anchor="end" font-weight="bold">21</text>
<circle cx="787.6" cy="338.4" r="8.3" fill="#f5dfe9"/>
<text x="800.5" y="343.3" font-size="15.1">TML macrophage</text>
<text x="1072" y="19" font-size="23" font-weight="bold">b</text>
<rect x="1421.3" y="24" width="255" height="263.2" fill="#fde725"/>
<rect x="1527.55" y="24" width="21.25" height="37.6" fill="#4fc36a"/>
<rect x="1548.8" y="24" width="21.25" height="37.6" fill="#2f6d8e"/>
<rect x="1591.3" y="24" width="21.25" height="37.6" fill="#f2e625"/>
<rect x="1633.8" y="24" width="21.25" height="37.6" fill="#e2e425"/>
<rect x="1591.3" y="61.6" width="21.25" height="37.6" fill="#45095b"/>
<rect x="1527.55" y="99.2" width="21.25" height="37.6" fill="#d9e326"/>
<rect x="1548.8" y="99.2" width="21.25" height="37.6" fill="#d0e126"/>
<rect x="1570.05" y="99.2" width="21.25" height="37.6" fill="#dee325"/>
<rect x="1591.3" y="99.2" width="21.25" height="37.6" fill="#75cf54"/>
<rect x="1633.8" y="99.2" width="21.25" height="37.6" fill="#4fc36a"/>
<rect x="1655.05" y="99.2" width="21.25" height="37.6" fill="#f0e525"/>
<rect x="1506.3" y="136.8" width="21.25" height="37.6" fill="#bedf26"/>
<rect x="1527.55" y="136.8" width="21.25" height="37.6" fill="#e2e425"/>
<rect x="1548.8" y="136.8" width="21.25" height="37.6" fill="#33b47a"/>
<rect x="1591.3" y="136.8" width="21.25" height="37.6" fill="#e7e425"/>
<rect x="1633.8" y="136.8" width="21.25" height="37.6" fill="#75cf54"/>
<rect x="1655.05" y="136.8" width="21.25" height="37.6" fill="#f2e625"/>
<rect x="1633.8" y="174.4" width="21.25" height="37.6" fill="#33b47a"/>
<rect x="1655.05" y="174.4" width="21.25" height="37.6" fill="#75cf54"/>
<rect x="1442.55" y="212" width="21.25" height="37.6" fill="#f6e625"/>
<rect x="1485.05" y="212" width="21.25" height="37.6" fill="#d9e326"/>
<rect x="1506.3" y="212" width="21.25" height="37.6" fill="#f6e625"/>
<rect x="1655.05" y="212" width="21.25" height="37.6" fill="#440457"/>
<rect x="1591.3" y="249.6" width="21.25" height="37.6" fill="#c7e026"/>
<rect x="1633.8" y="249.6" width="21.25" height="37.6" fill="#219a89"/>
<path d="M1442.55 24v263.2M1463.8 24v263.2M1485.05 24v263.2M1506.3 24v263.2M1527.55 24v263.2M1548.8 24v263.2M1570.05 24v263.2M1591.3 24v263.2M1612.55 24v263.2M1633.8 24v263.2M1655.05 24v263.2M1421.3 61.6h255M1421.3 99.2h255M1421.3 136.8h255M1421.3 174.4h255M1421.3 212h255M1421.3 249.6h255" fill="none" stroke="#fff" stroke-width="0.5" stroke-opacity="0.6"/>
<text x="1409.5" y="47.9" font-size="15.1" text-anchor="end"><tspan font-style="italic">LYVE1</tspan><tspan font-size="9" dy="-5.25">+</tspan><tspan dy="5.25">&#8203;</tspan> macrophage</text>
<text x="1409.5" y="85.5" font-size="15.1" text-anchor="end">TML macrophage</text>
<text x="1409.5" y="123.1" font-size="15.1" text-anchor="end">Iron-recycling macrophage</text>
<text x="1409.5" y="160.7" font-size="15.1" text-anchor="end">MHCII<tspan font-size="9" dy="-5.25">+</tspan><tspan dy="5.25">&#8203;</tspan> macrophage</text>
<text x="1409.5" y="198.3" font-size="15.1" text-anchor="end">Monocyte (activated/differentiating)</text>
<text x="1409.5" y="235.9" font-size="15.1" text-anchor="end">Monocyte precursor</text>
<text x="1409.5" y="273.5" font-size="15.1" text-anchor="end">LC</text>
<text font-size="15.1" text-anchor="end" transform="translate(1435.83 298) rotate(-90)"><tspan font-style="italic">CD7</tspan><tspan font-size="6.5" dy="-5.42">hi</tspan><tspan dy="5.42">&#8203;</tspan>P</text>
<text font-size="15.1" text-anchor="end" transform="translate(1457.08 298) rotate(-90)"><tspan font-style="italic">CD7</tspan><tspan font-size="6.5" dy="-5.42">lo</tspan><tspan dy="5.42">&#8203;</tspan>P</text>
<text font-size="15.1" text-anchor="end" transform="translate(1478.33 298) rotate(-90)">ErP</text>
<text font-size="15.1" text-anchor="end" transform="translate(1499.58 298) rotate(-90)">GMP</text>
<text font-size="15.1" text-anchor="end" transform="translate(1520.83 298) rotate(-90)">ILC</text>
<text font-size="15.1" text-anchor="end" transform="translate(1542.08 298) rotate(-90)">Mac1</text>
<text font-size="15.1" text-anchor="end" transform="translate(1563.33 298) rotate(-90)">Mac2</text>
<text font-size="15.1" text-anchor="end" transform="translate(1584.58 298) rotate(-90)">Mac3</text>
<text font-size="15.1" text-anchor="end" transform="translate(1605.83 298) rotate(-90)">Mac4</text>
<text font-size="15.1" text-anchor="end" transform="translate(1627.08 298) rotate(-90)">Mast cell</text>
<text font-size="15.1" text-anchor="end" transform="translate(1648.33 298) rotate(-90)">Monocyte</text>
<text font-size="15.1" text-anchor="end" transform="translate(1669.58 298) rotate(-90)">Myeloblast</text>
<path d="M1414.5 42.8h6.8M1414.5 80.4h6.8M1414.5 118h6.8M1414.5 155.6h6.8M1414.5 193.2h6.8M1414.5 230.8h6.8M1414.5 268.4h6.8M1431.92 287v7M1453.17 287v7M1474.42 287v7M1495.67 287v7M1516.92 287v7M1538.17 287v7M1559.42 287v7M1580.67 287v7M1601.92 287v7M1623.17 287v7M1644.42 287v7M1665.67 287v7" fill="none" stroke="#111" stroke-width="1.5"/>
<text font-size="16.6" text-anchor="middle" font-weight="bold" transform="translate(1155 135) rotate(-90)">Prenatal</text>
<text x="1563.8" y="394.7" font-size="16.6" text-anchor="middle" font-weight="bold">Embryonic immune cells</text>
<linearGradient id="gb" x1="0" y1="1" x2="0" y2="0"><stop offset="0" stop-color="#fde725"/><stop offset="0.1" stop-color="#bddf26"/><stop offset="0.2" stop-color="#7ad151"/><stop offset="0.3" stop-color="#44bf70"/><stop offset="0.4" stop-color="#22a884"/><stop offset="0.5" stop-color="#21918c"/><stop offset="0.6" stop-color="#2a788e"/><stop offset="0.7" stop-color="#355f8d"/><stop offset="0.8" stop-color="#414487"/><stop offset="0.9" stop-color="#482475"/><stop offset="1" stop-color="#440154"/></linearGradient>
<rect x="1686.3" y="24" width="10" height="264" fill="url(#gb)"/>
<text x="1706.2" y="291.7" font-size="15.1">0.0</text>
<text x="1706.2" y="219.45" font-size="15.1">0.2</text>
<text x="1706.2" y="145.7" font-size="15.1">0.4</text>
<text x="1706.2" y="71.95" font-size="15.1">0.6</text>
<path d="M1696.3 286.5h5M1696.3 214.25h5M1696.3 140.5h5M1696.3 66.75h5" fill="none" stroke="#111" stroke-width="1.3"/>
<text font-size="15.2" text-anchor="middle" transform="translate(1756.8 153.9) rotate(-90)">Jaccard Index</text>
<linearGradient id="grb" x1="0" y1="1" x2="0" y2="0"><stop offset="0" stop-color="#053061"/><stop offset="0.1" stop-color="#2166ac"/><stop offset="0.2" stop-color="#4393c3"/><stop offset="0.3" stop-color="#92c5de"/><stop offset="0.4" stop-color="#d1e5f0"/><stop offset="0.5" stop-color="#f7f7f7"/><stop offset="0.6" stop-color="#fddbc7"/><stop offset="0.7" stop-color="#f4a582"/><stop offset="0.8" stop-color="#d6604d"/><stop offset="0.9" stop-color="#b2182b"/><stop offset="1" stop-color="#67001f"/></linearGradient>
<text x="43" y="500" font-size="23" font-weight="bold">c</text>
<rect x="645.3" y="478.1" width="184" height="26.3" rx="13.15" fill="#b9b9c9"/>
<text x="737.3" y="499.5" font-size="20.5" text-anchor="middle" font-weight="bold" style="fill:#1a1a1a">TML macrophage</text>
<rect x="602.7" y="825.1" width="271.6" height="28" rx="14" fill="#d4edf5"/>
<text x="739.7" y="846.6" font-size="20.5" text-anchor="middle" font-weight="bold" style="fill:#1a1a1a">Iron-recycling macrophage</text>
<rect x="632.3" y="1179.4" width="212.5" height="26.7" rx="13.35" fill="#c4aebc"/>
<text x="739" y="1201" font-size="20.3" text-anchor="middle" font-weight="bold" style="fill:#1a1a1a"><tspan font-style="italic">LYVE1</tspan><tspan font-size="12" dy="-9">+</tspan><tspan dy="9">&#8203;</tspan> macrophage</text>
<rect x="633.6" y="1531.6" width="215.1" height="27.1" rx="13.55" fill="#9dcfc8"/>
<text x="742.5" y="1552.2" font-size="20.2" text-anchor="middle" font-weight="bold" style="fill:#1a1a1a">MHCII<tspan font-size="12" dy="-9">+</tspan><tspan dy="9">&#8203;</tspan> macrophage</text>
<circle cx="570.5" cy="529" r="2.8" fill="#6a0a24"/>
<circle cx="565.25" cy="556.2" r="5.3" fill="#0d3d75"/>
<circle cx="470" cy="583.4" r="2.6" fill="#6a0a24"/>
<circle cx="390" cy="610.6" r="4.2" fill="#0d3d75"/>
<circle cx="328.75" cy="637.8" r="3.8" fill="#14427a"/>
<circle cx="319" cy="665" r="2.8" fill="#1f5a9a"/>
<circle cx="319" cy="692.2" r="4.5" fill="#0d3d75"/>
<circle cx="319" cy="719.4" r="2.6" fill="#4a8ac0"/>
<circle cx="319" cy="746.6" r="4.3" fill="#0d3d75"/>
<circle cx="319" cy="773.8" r="4.3" fill="#0d3d75"/>
<rect x="543.75" y="719.4" width="35.25" height="61.6" fill="#ebebeb"/>
<text x="561.25" y="730.6" font-size="15.1" text-anchor="middle">Hits</text>
<circle cx="552.25" cy="743.1" r="5.75" fill="#0a0af5"/>
<text x="560.6" y="746.6" font-size="15.1">23</text>
<circle cx="552.25" cy="758.5" r="4" fill="#0a0af5"/>
<text x="560.6" y="762" font-size="15.1">10</text>
<circle cx="552.25" cy="774" r="2.75" fill="#0a0af5"/>
<text x="560.6" y="777.5" font-size="15.1">4</text>
<rect x="306.75" y="517" width="276.45" height="268.9" fill="none" stroke="#000" stroke-width="1.5"/>
<g text-anchor="end" font-size="15.1">
<text x="298.3" y="532.3">Synapse pruning</text>
<text x="298.3" y="560">Regulation of cell migration</text>
<text x="298.3" y="587.2">Regulation of microglial cell migration</text>
<text x="298.3" y="611.9">Positive regulation of cell motility</text>
<text x="298.3" y="635.6">Regulation of Tumor Necrosis Factor</text>
<text x="298.3" y="647.7">production</text>
<text x="298.3" y="668.8">Lymphocyte chemotaxis</text>
<text x="298.3" y="696">Positive regulation of MAPK cascade</text>
<text x="298.3" y="723.2">Regulation of macrophage differentiation</text>
<text x="298.3" y="750.4">Positive regulation of cell migration</text>
<text x="298.3" y="777.6">Positive regulation of GTPase activity</text>
</g>
<g text-anchor="middle" font-size="15.1">
<text x="356.9" y="801.3">2.5</text>
<text x="419" y="801.3">3.0</text>
<text x="480.6" y="801.3">3.5</text>
<text x="541.8" y="801.3">4.0</text>
</g>
<path d="M306.75 529h-3.5M306.75 556.2h-3.5M306.75 583.4h-3.5M306.75 610.6h-3.5M306.75 637.8h-3.5M306.75 665h-3.5M306.75 692.2h-3.5M306.75 719.4h-3.5M306.75 746.6h-3.5M306.75 773.8h-3.5M356.9 785.9v3M419 785.9v3M480.6 785.9v3M541.8 785.9v3" fill="none" stroke="#000" stroke-width="1.2"/>
<text x="434.9" y="819.4" font-size="15.1" text-anchor="middle">-log10 (adjusted p-value)</text>
<text x="444.98" y="504" font-size="17.5" text-anchor="middle">GO biological process</text>
<text x="584.75" y="682.5" font-size="15.1">Combined</text>
<text x="584.75" y="697.25" font-size="15.1">Score</text>
<rect x="584.75" y="708.1" width="11.75" height="78.4" fill="url(#grb)" stroke="#222" stroke-width="0.8"/>
<text x="602" y="722.1" font-size="15.1">2000</text>
<text x="602" y="757.1" font-size="15.1">1000</text>
<path d="M596.5 717.5h2.5M596.5 752.5h2.5" fill="none" stroke="#000" stroke-width="1.2"/>
<circle cx="1149.1" cy="526.8" r="5.4" fill="#6a0a24"/>
<circle cx="1126.3" cy="554.25" r="5.4" fill="#d6584a"/>
<circle cx="957.8" cy="581.7" r="4.2" fill="#5fa4d0"/>
<circle cx="957.8" cy="609.15" r="4.2" fill="#5fa4d0"/>
<circle cx="957.8" cy="636.6" r="4.6" fill="#3f8cc4"/>
<circle cx="925.4" cy="664.05" r="3.5" fill="#4a94c8"/>
<circle cx="915.1" cy="691.5" r="4.2" fill="#1a4f8a"/>
<circle cx="915.1" cy="718.95" r="4.2" fill="#1a4f8a"/>
<circle cx="900" cy="746.4" r="2.6" fill="#5fa4d0"/>
<circle cx="895.7" cy="773.85" r="4" fill="#0d2f5f"/>
<rect x="1122.8" y="719.4" width="35.4" height="61.6" fill="#ebebeb"/>
<text x="1140.5" y="730.6" font-size="15.1" text-anchor="middle">Hits</text>
<circle cx="1131" cy="743.1" r="5.75" fill="#0a0af5"/>
<text x="1140" y="746.6" font-size="15.1">19</text>
<circle cx="1131" cy="758.5" r="4.2" fill="#0a0af5"/>
<text x="1140" y="762" font-size="15.1">11</text>
<circle cx="1131" cy="774" r="2.75" fill="#0a0af5"/>
<text x="1140" y="777.5" font-size="15.1">4</text>
<rect x="883.2" y="514.7" width="279.3" height="271.2" fill="none" stroke="#000" stroke-width="1.5"/>
<g text-anchor="end" font-size="15.1">
<text x="877.2" y="530.6">TNF-alpha signalling via NF-kB</text>
<text x="877.2" y="558.05">Inflammatory response</text>
<text x="877.2" y="585.5">Apoptosis</text>
<text x="877.2" y="612.95">Coagulation</text>
<text x="877.2" y="640.4">Epithelial mesenchymal transition</text>
<text x="877.2" y="667.85">IL-6/JAK/STAT3 signaling</text>
<text x="877.2" y="695.3">IL-2/STAT5 signaling</text>
<text x="877.2" y="722.75">KRAS signaling up</text>
<text x="877.2" y="750.2">Angiogenesis</text>
<text x="877.2" y="777.65">Estrogen response late</text>
</g>
<g text-anchor="middle" font-size="15.1">
<text x="897" y="801.3">2.0</text>
<text x="936.08" y="801.3">3.0</text>
<text x="975.16" y="801.3">4.0</text>
<text x="1014.24" y="801.3">5.0</text>
<text x="1053.32" y="801.3">6.0</text>
<text x="1092.4" y="801.3">7.0</text>
<text x="1131.48" y="801.3">8.0</text>
</g>
<path d="M883.2 526.8h-3.5M883.2 554.25h-3.5M883.2 581.7h-3.5M883.2 609.15h-3.5M883.2 636.6h-3.5M883.2 664.05h-3.5M883.2 691.5h-3.5M883.2 718.95h-3.5M883.2 746.4h-3.5M883.2 773.85h-3.5M897 785.9v3M936.08 785.9v3M975.16 785.9v3M1014.24 785.9v3M1053.32 785.9v3M1092.4 785.9v3M1131.48 785.9v3" fill="none" stroke="#000" stroke-width="1.2"/>
<text x="1026.3" y="819.4" font-size="15.1" text-anchor="middle">-log10 (adjusted p-value)</text>
<text x="1022.85" y="504.4" font-size="17.5" text-anchor="middle">MSigDB Hallmark</text>
<text x="1165.5" y="682.8" font-size="15.1">Combined</text>
<text x="1165.5" y="698.4" font-size="15.1">Score</text>
<rect x="1165.5" y="708.7" width="12.1" height="77.8" fill="url(#grb)" stroke="#222" stroke-width="0.8"/>
<text x="1183.1" y="728.4" font-size="15.1">150</text>
<text x="1183.1" y="751.7" font-size="15.1">100</text>
<text x="1183.1" y="775.4" font-size="15.1">50</text>
<path d="M1177.6 723.8h2.5M1177.6 747.1h2.5M1177.6 770.8h2.5" fill="none" stroke="#000" stroke-width="1.2"/>
<circle cx="570.3" cy="873.8" r="5" fill="#fbe3d4"/>
<circle cx="568.5" cy="901" r="4.6" fill="#e6eff6"/>
<circle cx="553.9" cy="928.2" r="4.6" fill="#b4d6e8"/>
<circle cx="508.6" cy="955.4" r="2.8" fill="#6a0a24"/>
<circle cx="508.6" cy="982.6" r="2.8" fill="#6a0a24"/>
<circle cx="505.6" cy="1009.8" r="5.6" fill="#2166ac"/>
<circle cx="475.9" cy="1037" r="3.9" fill="#5ca3cf"/>
<circle cx="469.8" cy="1064.2" r="2.4" fill="#fbeee6"/>
<circle cx="462.5" cy="1091.4" r="2.4" fill="#f0f0f0"/>
<circle cx="319.4" cy="1118.6" r="2.6" fill="#0d3d75"/>
<rect x="544" y="1065.2" width="34.4" height="61.6" fill="#ebebeb"/>
<text x="560.8" y="1076" font-size="15.1" text-anchor="middle">Hits</text>
<circle cx="552.2" cy="1087.2" r="5.8" fill="#0a0af5"/>
<text x="560.6" y="1090.7" font-size="15.1">10</text>
<circle cx="552.2" cy="1103.1" r="4.2" fill="#0a0af5"/>
<text x="560.6" y="1106.6" font-size="15.1">8</text>
<circle cx="552.2" cy="1118.6" r="2.8" fill="#0a0af5"/>
<text x="560.6" y="1122.1" font-size="15.1">7</text>
<rect x="306.9" y="861.7" width="277.1" height="269.4" fill="none" stroke="#000" stroke-width="1.5"/>
<g text-anchor="end" font-size="15.1">
<text x="297.4" y="871.6">Antigen processing and presentation of</text>
<text x="297.4" y="883.7">exogenous peptide via MHC class II</text>
<text x="297.4" y="898.8">Antigen processing and presentation</text>
<text x="297.4" y="910.9">of peptide via MHC class II</text>
<text x="297.4" y="926">Antigen and processing and presentation</text>
<text x="297.4" y="938.1">of exogenous peptide antigen</text>
<text x="297.4" y="959.2">MHC class II protein complex assembly</text>
<text x="297.4" y="980.4">Peptide antigen assembly with</text>
<text x="297.4" y="992.5">MHC class II protein complex</text>
<text x="297.4" y="1013.6">Regulation of T cell activation</text>
<text x="297.4" y="1034.8">Immunoglobulin mediated</text>
<text x="297.4" y="1046.9">immune response</text>
<text x="297.4" y="1062">Peptide antigen assembly</text>
<text x="297.4" y="1074.1">with MHC protein comple</text>
<text x="297.4" y="1089.2">Immunoglobulin production involved in</text>
<text x="297.4" y="1101.3">immunoglobulin-mediated immune response</text>
<text x="297.4" y="1116.4">Positive regulation of leukocytes</text>
<text x="297.4" y="1128.5">cell-cell adhesion</text>
</g>
<g text-anchor="middle" font-size="15.1">
<text x="355.6" y="1146.5">8.0</text>
<text x="406.4" y="1146.5">9.0</text>
<text x="457.2" y="1146.5">10.0</text>
<text x="508" y="1146.5">11.0</text>
<text x="558.8" y="1146.5">12.0</text>
</g>
<path d="M306.9 873.8h-3.5M306.9 901h-3.5M306.9 928.2h-3.5M306.9 955.4h-3.5M306.9 982.6h-3.5M306.9 1009.8h-3.5M306.9 1037h-3.5M306.9 1064.2h-3.5M306.9 1091.4h-3.5M306.9 1118.6h-3.5M355.6 1131.1v3M406.4 1131.1v3M457.2 1131.1v3M508 1131.1v3M558.8 1131.1v3" fill="none" stroke="#000" stroke-width="1.2"/>
<text x="441.2" y="1169" font-size="15.1" text-anchor="middle" stroke="#111" stroke-width="0.5">-log10 (adjusted p-value)</text>
<text x="586.2" y="1027.7" font-size="15.1">Combined</text>
<text x="586.2" y="1045.8" font-size="15.1">Score</text>
<rect x="586.2" y="1053.5" width="11.6" height="78.1" fill="url(#grb)" stroke="#222" stroke-width="0.8"/>
<text x="603.3" y="1065.5" font-size="15.1">7500</text>
<text x="603.3" y="1092.6" font-size="15.1">5000</text>
<text x="603.3" y="1119.8" font-size="15.1">2500</text>
<path d="M597.8 1060.9h2.5M597.8 1088h2.5M597.8 1115.2h2.5" fill="none" stroke="#000" stroke-width="1.2"/>
<circle cx="1149.1" cy="872.1" r="4.5" fill="#6a0a24"/>
<circle cx="1149.1" cy="899.45" r="5.4" fill="#e6eff4"/>
<circle cx="1149.1" cy="926.8" r="5.4" fill="#e6eff4"/>
<circle cx="1149.1" cy="954.15" r="5.4" fill="#e9f0f5"/>
<circle cx="1071.6" cy="981.5" r="5.2" fill="#8ec0dd"/>
<circle cx="1062.9" cy="1008.85" r="4.3" fill="#b4d6e8"/>
<circle cx="936.6" cy="1036.2" r="3.7" fill="#1f5a9a"/>
<circle cx="936.6" cy="1063.55" r="3.7" fill="#1f5a9a"/>
<circle cx="897.8" cy="1090.9" r="2.8" fill="#0d3d75"/>
<circle cx="896.1" cy="1118.25" r="2.8" fill="#0d2f5f"/>
<rect x="1122.8" y="1064.3" width="34.5" height="61.7" fill="#ebebeb"/>
<text x="1139.2" y="1075.5" font-size="15.1" text-anchor="middle">Hits</text>
<circle cx="1130.6" cy="1086.3" r="5.6" fill="#0a0af5"/>
<text x="1138.8" y="1089.8" font-size="15.1">7</text>
<circle cx="1130.6" cy="1102.2" r="4.3" fill="#0a0af5"/>
<text x="1138.8" y="1105.7" font-size="15.1">5</text>
<circle cx="1130.6" cy="1117.8" r="2.8" fill="#0a0af5"/>
<text x="1138.8" y="1121.3" font-size="15.1">3</text>
<rect x="883.2" y="859.6" width="279.3" height="271.5" fill="none" stroke="#000" stroke-width="1.5"/>
<g text-anchor="end" font-size="15.1">
<text x="875.9" y="875.9">Cholesterol homeostasis</text>
<text x="875.9" y="903.25">Interferon gamma response</text>
<text x="875.9" y="930.6">Complement</text>
<text x="875.9" y="957.95">Allograft rejection</text>
<text x="875.9" y="985.3">Myogenesis</text>
<text x="875.9" y="1012.65">Coagulation</text>
<text x="875.9" y="1040">Inflammatory response</text>
<text x="875.9" y="1067.35">KRAS signaling up</text>
<text x="875.9" y="1094.7">Apoptosis</text>
<text x="875.9" y="1122.05">Hypoxia</text>
</g>
<g text-anchor="middle" font-size="15.1">
<text x="897.4" y="1146.5">1.0</text>
<text x="941.6" y="1146.5">1.5</text>
<text x="985.8" y="1146.5">2.0</text>
<text x="1030" y="1146.5">2.5</text>
<text x="1074.2" y="1146.5">3.0</text>
<text x="1118.4" y="1146.5">3.5</text>
</g>
<path d="M883.2 872.1h-3.5M883.2 899.45h-3.5M883.2 926.8h-3.5M883.2 954.15h-3.5M883.2 981.5h-3.5M883.2 1008.85h-3.5M883.2 1036.2h-3.5M883.2 1063.55h-3.5M883.2 1090.9h-3.5M883.2 1118.25h-3.5M897.4 1131.1v3M941.6 1131.1v3M985.8 1131.1v3M1030 1131.1v3M1074.2 1131.1v3M1118.4 1131.1v3" fill="none" stroke="#000" stroke-width="1.2"/>
<text x="1027.8" y="1169" font-size="15.1" text-anchor="middle">-log10 (adjusted p-value)</text>
<text x="1165.5" y="1029" font-size="15.1">Combined</text>
<text x="1165.5" y="1043.6" font-size="15.1">Score</text>
<rect x="1165.5" y="1053.5" width="12.1" height="78.1" fill="url(#grb)" stroke="#222" stroke-width="0.8"/>
<text x="1183.1" y="1061.6" font-size="15.1">200</text>
<text x="1183.1" y="1100.4" font-size="15.1">100</text>
<path d="M1177.6 1057h2.5M1177.6 1095.8h2.5" fill="none" stroke="#000" stroke-width="1.2"/>
<circle cx="567.7" cy="1224.7" r="5.6" fill="#7db5d8"/>
<circle cx="465.1" cy="1251.95" r="4.3" fill="#b9d9ea"/>
<circle cx="434.9" cy="1279.2" r="4.6" fill="#3f8cc4"/>
<circle cx="419.4" cy="1306.45" r="4.6" fill="#2a72b5"/>
<circle cx="418.5" cy="1333.7" r="4.6" fill="#3782be"/>
<circle cx="356.9" cy="1360.95" r="3" fill="#dde9f2"/>
<circle cx="354.3" cy="1388.2" r="4.8" fill="#0d2f5f"/>
<circle cx="321.1" cy="1415.45" r="3" fill="#fbdccb"/>
<circle cx="316.4" cy="1442.7" r="2.8" fill="#6a0a24"/>
<circle cx="316.4" cy="1469.95" r="2.8" fill="#6a0a24"/>
<rect x="541" y="1415.2" width="34.4" height="61.6" fill="#ebebeb"/>
<text x="558.2" y="1426.4" font-size="15.1" text-anchor="middle">Hits</text>
<circle cx="548.7" cy="1437.2" r="5.6" fill="#0a0af5"/>
<text x="556.9" y="1440.7" font-size="15.1">39</text>
<circle cx="548.7" cy="1453.1" r="4.2" fill="#0a0af5"/>
<text x="556.9" y="1456.6" font-size="15.1">22</text>
<circle cx="548.7" cy="1468.6" r="2.6" fill="#0a0af5"/>
<text x="556.9" y="1472.1" font-size="15.1">7</text>
<rect x="303.9" y="1212.6" width="276.7" height="269" fill="none" stroke="#000" stroke-width="1.5"/>
<g text-anchor="end" font-size="15.1">
<text x="296.6" y="1228.5">Regulation of cell migration</text>
<text x="296.6" y="1249.75">Positive regulation of ERK1</text>
<text x="296.6" y="1261.85">and ERK2 cascade</text>
<text x="296.6" y="1281.5">Regulation of ERK1and ERK2 cascade</text>
<text x="296.6" y="1310.25">Positive regulation of cell migration</text>
<text x="296.6" y="1335">Positive regulation of cell motility</text>
<text x="296.6" y="1358.75">Negative regulation of</text>
<text x="296.6" y="1370.85">epithelial cell proliferation</text>
<text x="296.6" y="1392">Positive regulation of MAPK cascade</text>
<text x="296.6" y="1419.25">Monocyte chemotaxis</text>
<text x="296.6" y="1446.5">Eosinophil chemotaxis</text>
<text x="296.6" y="1473.75">Eosinophil migration</text>
</g>
<g text-anchor="middle" font-size="15.1">
<text x="338.8" y="1497">3.5</text>
<text x="375.6" y="1497">4.0</text>
<text x="412.4" y="1497">4.5</text>
<text x="449.2" y="1497">5.0</text>
<text x="486" y="1497">5.5</text>
<text x="522.8" y="1497">6.0</text>
<text x="559.6" y="1497">6.5</text>
</g>
<path d="M303.9 1224.7h-3.5M303.9 1251.95h-3.5M303.9 1279.2h-3.5M303.9 1306.45h-3.5M303.9 1333.7h-3.5M303.9 1360.95h-3.5M303.9 1388.2h-3.5M303.9 1415.45h-3.5M303.9 1442.7h-3.5M303.9 1469.95h-3.5M338.8 1481.6v3M375.6 1481.6v3M412.4 1481.6v3M449.2 1481.6v3M486 1481.6v3M522.8 1481.6v3M559.6 1481.6v3" fill="none" stroke="#000" stroke-width="1.2"/>
<text x="439.7" y="1515.6" font-size="15.1" text-anchor="middle">-log10 (adjusted p-value)</text>
<text x="585.3" y="1377.7" font-size="15.1">Combined</text>
<text x="585.3" y="1395.8" font-size="15.1">Score</text>
<rect x="586.2" y="1404.8" width="11.6" height="77.2" fill="url(#grb)" stroke="#222" stroke-width="0.8"/>
<text x="603.3" y="1429.7" font-size="15.1">150</text>
<text x="603.3" y="1456.8" font-size="15.1">100</text>
<text x="603.3" y="1484" font-size="15.1">50</text>
<path d="M597.8 1425.1h2.5M597.8 1452.2h2.5M597.8 1479.4h2.5" fill="none" stroke="#000" stroke-width="1.2"/>
<circle cx="1149.1" cy="1222.9" r="5.4" fill="#6a0a24"/>
<circle cx="1025.4" cy="1250.3" r="4.5" fill="#fbe3d6"/>
<circle cx="1015.9" cy="1277.7" r="4.8" fill="#c6dfee"/>
<circle cx="915.1" cy="1305.1" r="4.3" fill="#2369ad"/>
<circle cx="908.2" cy="1332.5" r="4.3" fill="#14477f"/>
<circle cx="908.2" cy="1359.9" r="3.9" fill="#2a72b5"/>
<circle cx="908.2" cy="1387.3" r="4.1" fill="#1f5a9a"/>
<circle cx="908.2" cy="1414.7" r="4.3" fill="#14477f"/>
<circle cx="907.3" cy="1442.1" r="2.6" fill="#9cc9e2"/>
<circle cx="896.1" cy="1469.5" r="4.1" fill="#0d2f5f"/>
<rect x="1122.4" y="1415.2" width="34.9" height="60.8" fill="#ebebeb"/>
<text x="1139.7" y="1426.4" font-size="15.1" text-anchor="middle">Hits</text>
<circle cx="1130.2" cy="1437.2" r="5.6" fill="#0a0af5"/>
<text x="1138.8" y="1440.7" font-size="15.1">31</text>
<circle cx="1130.2" cy="1453.1" r="4.2" fill="#0a0af5"/>
<text x="1138.8" y="1456.6" font-size="15.1">18</text>
<circle cx="1130.2" cy="1468.6" r="2.6" fill="#0a0af5"/>
<text x="1138.8" y="1472.1" font-size="15.1">7</text>
<rect x="883.2" y="1210.9" width="279.3" height="270.7" fill="none" stroke="#000" stroke-width="1.5"/>
<g text-anchor="end" font-size="15.1">
<text x="877.2" y="1226.7">Epithelial mesenchymal transition</text>
<text x="877.2" y="1254.1">UV response Dn</text>
<text x="877.2" y="1281.5">KRAS signaling up</text>
<text x="877.2" y="1308.9">Myogenesis</text>
<text x="877.2" y="1336.3">Xenobiotic metabolism</text>
<text x="877.2" y="1363.7">Coagulation</text>
<text x="877.2" y="1391.1">Apoptosis</text>
<text x="877.2" y="1418.5">Complement</text>
<text x="877.2" y="1445.9">Angiogenesis</text>
<text x="877.2" y="1473.3">p53 pathway</text>
</g>
<g text-anchor="middle" font-size="15.1">
<text x="918.1" y="1497">4.0</text>
<text x="971.3" y="1497">6.0</text>
<text x="1024.5" y="1497">8.0</text>
<text x="1077.7" y="1497">10.0</text>
<text x="1130.9" y="1497">12.0</text>
</g>
<path d="M883.2 1222.9h-3.5M883.2 1250.3h-3.5M883.2 1277.7h-3.5M883.2 1305.1h-3.5M883.2 1332.5h-3.5M883.2 1359.9h-3.5M883.2 1387.3h-3.5M883.2 1414.7h-3.5M883.2 1442.1h-3.5M883.2 1469.5h-3.5M918.1 1481.6v3M971.3 1481.6v3M1024.5 1481.6v3M1077.7 1481.6v3M1130.9 1481.6v3" fill="none" stroke="#000" stroke-width="1.2"/>
<text x="1015.9" y="1519" font-size="15.1" text-anchor="middle">-log10 (adjusted p-value)</text>
<text x="1165.5" y="1380.7" font-size="15.1">Combined</text>
<text x="1165.5" y="1395.3" font-size="15.1">Score</text>
<rect x="1165.5" y="1404.8" width="12.1" height="77.2" fill="url(#grb)" stroke="#222" stroke-width="0.8"/>
<text x="1183.1" y="1418" font-size="15.1">200</text>
<text x="1183.1" y="1456.8" font-size="15.1">100</text>
<path d="M1177.6 1413.4h2.5M1177.6 1452.2h2.5" fill="none" stroke="#000" stroke-width="1.2"/>
<circle cx="567.7" cy="1580.7" r="5.6" fill="#2f7ab9"/>
<circle cx="535.8" cy="1607.9" r="4.1" fill="#6a0a24"/>
<circle cx="441.8" cy="1635.1" r="4.5" fill="#0f3a70"/>
<circle cx="433.2" cy="1662.3" r="4.5" fill="#0d2f5f"/>
<circle cx="433.2" cy="1689.5" r="4.1" fill="#1f5a9a"/>
<circle cx="385.8" cy="1716.7" r="3.7" fill="#14477f"/>
<circle cx="369" cy="1743.9" r="3.2" fill="#3f8cc4"/>
<circle cx="349.6" cy="1771.1" r="3.2" fill="#0d3d75"/>
<circle cx="317.7" cy="1798.3" r="2.6" fill="#2a72b5"/>
<circle cx="315.9" cy="1825.5" r="2.8" fill="#1f5a9a"/>
<rect x="541" y="1770.8" width="34.4" height="61.6" fill="#ebebeb"/>
<text x="558.2" y="1782.4" font-size="15.1" text-anchor="middle">Hits</text>
<circle cx="548.7" cy="1793.6" r="5.6" fill="#0a0af5"/>
<text x="556.9" y="1797.1" font-size="15.1">9</text>
<circle cx="548.7" cy="1809.1" r="4.2" fill="#0a0af5"/>
<text x="556.9" y="1812.6" font-size="15.1">5</text>
<circle cx="548.7" cy="1825.1" r="2.8" fill="#0a0af5"/>
<text x="556.9" y="1828.6" font-size="15.1">2</text>
<rect x="303.9" y="1568.2" width="276.7" height="269.4" fill="none" stroke="#000" stroke-width="1.5"/>
<g text-anchor="end" font-size="15.1">
<text x="295.7" y="1578.5">Antigen receptor-mediated</text>
<text x="295.7" y="1590.6">signaling pathway</text>
<text x="295.7" y="1611.7">Alpha-beta T cell activation</text>
<text x="295.7" y="1638.9">T cell receptor signaling pathway</text>
<text x="295.7" y="1666.1">T cell activation</text>
<text x="295.7" y="1693.3">Striated muscle contraction</text>
<text x="295.7" y="1720.5">B cell receptor signaling pathway</text>
<text x="295.7" y="1747.7">Skeletal muscle contraction</text>
<text x="295.7" y="1774.9">Regulation of muscle contraction</text>
<text x="295.7" y="1802.1">Regulation of muscle system process</text>
<text x="295.7" y="1829.3">Gamma-delta T cell activation</text>
</g>
<g text-anchor="middle" font-size="15.1">
<text x="313.4" y="1853">2.0</text>
<text x="351.15" y="1853">3.0</text>
<text x="388.9" y="1853">4.0</text>
<text x="426.65" y="1853">5.0</text>
<text x="464.4" y="1853">6.0</text>
<text x="502.15" y="1853">7.0</text>
<text x="539.9" y="1853">8.0</text>
<text x="577.65" y="1853">9.0</text>
</g>
<path d="M303.9 1580.7h-3.5M303.9 1607.9h-3.5M303.9 1635.1h-3.5M303.9 1662.3h-3.5M303.9 1689.5h-3.5M303.9 1716.7h-3.5M303.9 1743.9h-3.5M303.9 1771.1h-3.5M303.9 1798.3h-3.5M303.9 1825.5h-3.5M313.4 1837.6v3M351.15 1837.6v3M388.9 1837.6v3M426.65 1837.6v3M464.4 1837.6v3M502.15 1837.6v3M539.9 1837.6v3M577.65 1837.6v3" fill="none" stroke="#000" stroke-width="1.2"/>
<text x="441.2" y="1871.2" font-size="15.1" text-anchor="middle">-log10 (adjusted p-value)</text>
<text x="586.2" y="1735.4" font-size="15.1">Combined</text>
<text x="586.2" y="1753.5" font-size="15.1">Score</text>
<rect x="586.2" y="1760.9" width="11.6" height="77.5" fill="url(#grb)" stroke="#222" stroke-width="0.8"/>
<text x="603.3" y="1769.8" font-size="15.1">6000</text>
<text x="603.3" y="1796.9" font-size="15.1">4000</text>
<text x="603.3" y="1823.7" font-size="15.1">2000</text>
<path d="M597.8 1765.2h2.5M597.8 1792.3h2.5M597.8 1819.1h2.5" fill="none" stroke="#000" stroke-width="1.2"/>
<circle cx="1149.1" cy="1578.5" r="5.4" fill="#6a0a24"/>
<circle cx="1005.6" cy="1605.95" r="4.8" fill="#5fa4d0"/>
<circle cx="917.7" cy="1633.4" r="3.5" fill="#14477f"/>
<circle cx="917.7" cy="1660.85" r="3.5" fill="#14477f"/>
<circle cx="903.4" cy="1688.3" r="3.2" fill="#0d3d75"/>
<circle cx="903.4" cy="1715.75" r="3.2" fill="#0d3d75"/>
<circle cx="902.2" cy="1743.2" r="2.8" fill="#0d3d75"/>
<circle cx="896.6" cy="1770.65" r="2.8" fill="#0d3d75"/>
<circle cx="896.6" cy="1798.1" r="2.8" fill="#0d3d75"/>
<circle cx="896.1" cy="1825.55" r="2.8" fill="#0d3d75"/>
<rect x="1122.8" y="1770.3" width="34.5" height="62.1" fill="#ebebeb"/>
<text x="1139.7" y="1781.6" font-size="15.1" text-anchor="middle">Hits</text>
<circle cx="1130.2" cy="1793.2" r="5.6" fill="#0a0af5"/>
<text x="1139.7" y="1796.7" font-size="15.1">12</text>
<circle cx="1130.2" cy="1808.7" r="3.4" fill="#0a0af5"/>
<text x="1139.7" y="1812.2" font-size="15.1">3</text>
<circle cx="1130.2" cy="1824.7" r="2.6" fill="#0a0af5"/>
<text x="1139.7" y="1828.2" font-size="15.1">1</text>
<rect x="883.2" y="1566.5" width="279.3" height="271.1" fill="none" stroke="#000" stroke-width="1.5"/>
<g text-anchor="end" font-size="15.1">
<text x="877.2" y="1582.3">Myogenesis</text>
<text x="877.2" y="1609.75">Allograft rejection</text>
<text x="877.2" y="1637.2">Inflammatory response</text>
<text x="877.2" y="1664.65">KRAS signaling Dn</text>
<text x="877.2" y="1692.1">Complement</text>
<text x="877.2" y="1719.55">Apical junction</text>
<text x="877.2" y="1747">Wnt-beta catenin signaling</text>
<text x="877.2" y="1774.45">Bile acid metabolism</text>
<text x="877.2" y="1801.9">PI3K/AKT/mTOR signaling</text>
<text x="877.2" y="1829.35">Epithelial mesenchymal transition</text>
</g>
<g text-anchor="middle" font-size="15.1">
<text x="887.5" y="1853">0.0</text>
<text x="926.8" y="1853">2.0</text>
<text x="966.1" y="1853">4.0</text>
<text x="1005.4" y="1853">6.0</text>
<text x="1044.7" y="1853">8.0</text>
<text x="1084" y="1853">10.0</text>
<text x="1123.3" y="1853">12.0</text>
</g>
<path d="M883.2 1578.5h-3.5M883.2 1605.95h-3.5M883.2 1633.4h-3.5M883.2 1660.85h-3.5M883.2 1688.3h-3.5M883.2 1715.75h-3.5M883.2 1743.2h-3.5M883.2 1770.65h-3.5M883.2 1798.1h-3.5M883.2 1825.55h-3.5M887.5 1837.6v3M926.8 1837.6v3M966.1 1837.6v3M1005.4 1837.6v3M1044.7 1837.6v3M1084 1837.6v3M1123.3 1837.6v3" fill="none" stroke="#000" stroke-width="1.2"/>
<text x="1020.9" y="1872.9" font-size="15.1" text-anchor="middle">-log10 (adjusted p-value)</text>
<text x="1165.5" y="1738.4" font-size="15.1">Combined</text>
<text x="1165.5" y="1753.1" font-size="15.1">Score</text>
<rect x="1165.5" y="1760.9" width="12.1" height="77.5" fill="url(#grb)" stroke="#222" stroke-width="0.8"/>
<text x="1183.1" y="1788.7" font-size="15.1">1000</text>
<text x="1183.1" y="1815.5" font-size="15.1">500</text>
<path d="M1177.6 1784.1h2.5M1177.6 1810.9h2.5" fill="none" stroke="#000" stroke-width="1.2"/>
<text x="1263" y="500.3" font-size="23" font-weight="bold">d</text>
<rect x="1421.9" y="513.1" width="85.02" height="73.78" fill="#23a488"/>
<rect x="1506.62" y="513.1" width="85.02" height="73.78" fill="#440154"/>
<rect x="1591.34" y="513.1" width="85.02" height="73.78" fill="#fde725"/>
<rect x="1421.9" y="586.58" width="85.02" height="73.78" fill="#2d7b8e"/>
<rect x="1506.62" y="586.58" width="85.02" height="73.78" fill="#472f7d"/>
<rect x="1591.34" y="586.58" width="85.02" height="73.78" fill="#fde725"/>
<rect x="1421.9" y="660.06" width="85.02" height="73.78" fill="#414487"/>
<rect x="1506.62" y="660.06" width="85.02" height="73.78" fill="#33638d"/>
<rect x="1591.34" y="660.06" width="85.02" height="73.78" fill="#fbe723"/>
<rect x="1421.9" y="733.54" width="85.02" height="73.78" fill="#481a6c"/>
<rect x="1506.62" y="733.54" width="85.02" height="73.78" fill="#21918c"/>
<rect x="1591.34" y="733.54" width="85.02" height="73.78" fill="#f1e51d"/>
<path d="M1506.62 513.1v293.92M1591.34 513.1v293.92M1421.9 586.58h254.16M1421.9 660.06h254.16M1421.9 733.54h254.16" fill="none" stroke="#fff" stroke-width="0.6" stroke-opacity="0.55"/>
<text x="1410.8" y="553.24" font-size="15.1" text-anchor="end">15-17</text>
<text x="1410.8" y="626.72" font-size="15.1" text-anchor="end">12-14</text>
<text x="1410.8" y="700.2" font-size="15.1" text-anchor="end">9-11</text>
<text x="1410.8" y="773.68" font-size="15.1" text-anchor="end">7-8</text>
<text font-size="14.7" text-anchor="end" transform="translate(1467.36 816.4) rotate(-90)">Pro-regenerative</text>
<text font-size="14.7" text-anchor="end" transform="translate(1552.08 816.4) rotate(-90)">Pro-inflammatory</text>
<text font-size="14.7" text-anchor="end" transform="translate(1636.8 816.4) rotate(-90)">Mixed</text>
<path d="M1414.8 548.64h7.1M1414.8 622.12h7.1M1414.8 695.6h7.1M1414.8 769.08h7.1M1462.76 807v5.5M1547.48 807v5.5M1632.2 807v5.5" fill="none" stroke="#111" stroke-width="2.4"/>
<text font-size="16.6" text-anchor="middle" font-weight="bold" transform="translate(1356.5 666.4) rotate(-90)">Prenatal fibroblasts (PCW)</text>
<text x="1553.4" y="958.6" font-size="16.6" text-anchor="middle" font-weight="bold">Reindeer fibroblasts</text>
<linearGradient id="gd" x1="0" y1="1" x2="0" y2="0"><stop offset="0" stop-color="#fde725"/><stop offset="0.1" stop-color="#bddf26"/><stop offset="0.2" stop-color="#7ad151"/><stop offset="0.3" stop-color="#44bf70"/><stop offset="0.4" stop-color="#22a884"/><stop offset="0.5" stop-color="#21918c"/><stop offset="0.6" stop-color="#2a788e"/><stop offset="0.7" stop-color="#355f8d"/><stop offset="0.8" stop-color="#414487"/><stop offset="0.9" stop-color="#482475"/><stop offset="1" stop-color="#440154"/></linearGradient>
<rect x="1686.1" y="513.1" width="9.8" height="293.9" fill="url(#gd)"/>
<text x="1710.7" y="769.3" font-size="15.1">0.1</text>
<text x="1710.7" y="726" font-size="15.1">0.2</text>
<text x="1710.7" y="682.7" font-size="15.1">0.3</text>
<text x="1710.7" y="639.4" font-size="15.1">0.4</text>
<text x="1710.7" y="596.1" font-size="15.1">0.5</text>
<text x="1710.7" y="552.8" font-size="15.1">0.6</text>
<path d="M1695.9 764.3h8M1695.9 721h8M1695.9 677.7h8M1695.9 634.4h8M1695.9 591.1h8M1695.9 547.8h8" fill="none" stroke="#111" stroke-width="1.5"/>
<text font-size="15.6" text-anchor="middle" transform="translate(1755.5 655.8) rotate(-90)">Median prediction probability</text>
<text x="1261" y="1023.7" font-size="23" font-weight="bold">e</text>
<g stroke="#000" stroke-width="0.8">
<circle cx="1489.1" cy="1061" r="4.4" fill="#fff2ec"/>
<circle cx="1522.1" cy="1061" r="10.1" fill="#f8694a"/>
<circle cx="1555.1" cy="1061" r="11.4" fill="#70020e"/>
<circle cx="1588.1" cy="1061" r="10.8" fill="#f35d40"/>
<circle cx="1489.1" cy="1099.7" r="8.1" fill="#70020e"/>
<circle cx="1522.1" cy="1099.7" r="5.4" fill="#fde0d2"/>
<circle cx="1555.1" cy="1099.7" r="5.4" fill="#fff2ec"/>
<circle cx="1588.1" cy="1099.7" r="5.4" fill="#fff2ec"/>
<circle cx="1489.1" cy="1138.4" r="11.8" fill="#70020e"/>
<circle cx="1522.1" cy="1138.4" r="11.4" fill="#fb9070"/>
<circle cx="1555.1" cy="1138.4" r="7.7" fill="#fff2ec"/>
<circle cx="1588.1" cy="1138.4" r="7" fill="#fdece3"/>
<circle cx="1489.1" cy="1177.1" r="14.8" fill="#70020e"/>
<circle cx="1522.1" cy="1177.1" r="14.5" fill="#fcb8a0"/>
<circle cx="1555.1" cy="1177.1" r="12.8" fill="#fff2ec"/>
<circle cx="1588.1" cy="1177.1" r="12.8" fill="#fff2ec"/>
<circle cx="1489.1" cy="1215.8" r="14.1" fill="#70020e"/>
<circle cx="1522.1" cy="1215.8" r="11.1" fill="#fba083"/>
<circle cx="1555.1" cy="1215.8" r="7.1" fill="#fff2ec"/>
<circle cx="1588.1" cy="1215.8" r="6.7" fill="#fde8dd"/>
<circle cx="1489.1" cy="1254.5" r="10.4" fill="#fff2ec"/>
<circle cx="1522.1" cy="1254.5" r="11.4" fill="#fcc4b0"/>
<circle cx="1555.1" cy="1254.5" r="12.1" fill="#fb7d5e"/>
<circle cx="1588.1" cy="1254.5" r="13.5" fill="#70020e"/>
<circle cx="1489.1" cy="1293.2" r="3" fill="#70020e"/>
<circle cx="1522.1" cy="1293.2" r="0.6" fill="#444"/>
<circle cx="1555.1" cy="1293.2" r="0.5" fill="#444"/>
<circle cx="1588.1" cy="1293.2" r="1.7" fill="#fcb8a0"/>
<circle cx="1489.1" cy="1331.9" r="3.4" fill="#fff2ec"/>
<circle cx="1522.1" cy="1331.9" r="3" fill="#fcc4b0"/>
<circle cx="1555.1" cy="1331.9" r="4.4" fill="#70020e"/>
<circle cx="1588.1" cy="1331.9" r="3.7" fill="#fb9b7e"/>
<circle cx="1489.1" cy="1370.6" r="9.4" fill="#70020e"/>
<circle cx="1522.1" cy="1370.6" r="6.7" fill="#fde6da"/>
<circle cx="1555.1" cy="1370.6" r="7.7" fill="#f96a4b"/>
<circle cx="1588.1" cy="1370.6" r="7.4" fill="#fcae93"/>
<circle cx="1489.1" cy="1409.3" r="1.4" fill="#fff2ec"/>
<circle cx="1522.1" cy="1409.3" r="2.4" fill="#70020e"/>
<circle cx="1555.1" cy="1409.3" r="1.4" fill="#fff2ec"/>
<circle cx="1588.1" cy="1409.3" r="1.7" fill="#a50f15"/>
</g>
<rect x="1454.5" y="1029.8" width="165.4" height="409.8" fill="none" stroke="#000" stroke-width="1.6"/>
<text x="1441.7" y="1067.6" font-size="17.9" text-anchor="end" font-style="italic">POSTN</text>
<text x="1441.7" y="1106.3" font-size="17.9" text-anchor="end" font-style="italic">PTN</text>
<text x="1441.7" y="1145" font-size="17.9" text-anchor="end" font-style="italic">CRABP1</text>
<text x="1441.7" y="1183.7" font-size="17.9" text-anchor="end" font-style="italic">MDK</text>
<text x="1441.7" y="1222.4" font-size="17.9" text-anchor="end" font-style="italic">TPM1</text>
<text x="1441.7" y="1261.1" font-size="17.9" text-anchor="end" font-style="italic">GSN</text>
<text x="1441.7" y="1299.8" font-size="17.9" text-anchor="end" font-style="italic">PTGDS</text>
<text x="1441.7" y="1338.5" font-size="17.9" text-anchor="end" font-style="italic">SCARA5</text>
<text x="1441.7" y="1377.2" font-size="17.9" text-anchor="end" font-style="italic">IER3</text>
<text x="1441.7" y="1415.9" font-size="17.9" text-anchor="end" font-style="italic">COCH</text>
<text font-size="16.6" text-anchor="end" transform="translate(1494.8 1452.4) rotate(-90)">7-8</text>
<text font-size="16.6" text-anchor="end" transform="translate(1527.8 1452.4) rotate(-90)">9-11</text>
<text font-size="16.6" text-anchor="end" transform="translate(1560.8 1452.4) rotate(-90)">12-14</text>
<text font-size="16.6" text-anchor="end" transform="translate(1593.8 1452.4) rotate(-90)">15-17</text>
<path d="M1445.8 1061h8.7M1445.8 1099.7h8.7M1445.8 1138.4h8.7M1445.8 1177.1h8.7M1445.8 1215.8h8.7M1445.8 1254.5h8.7M1445.8 1293.2h8.7M1445.8 1331.9h8.7M1445.8 1370.6h8.7M1445.8 1409.3h8.7M1489.1 1439.6v8.4M1522.1 1439.6v8.4M1555.1 1439.6v8.4M1588.1 1439.6v8.4" fill="none" stroke="#000" stroke-width="1.9"/>
<path d="M1619.9 1048.9H1631.7V1222.7H1619.9M1619.9 1242.9H1631.7V1417.1H1619.9" fill="none" stroke="#000" stroke-width="2.8"/>
<text x="1640.1" y="1137.3" font-size="18">Pro-regenerative</text>
<text x="1641.1" y="1340.7" font-size="18">Pro-fibrotic</text>
<text x="1715.7" y="1006.9" font-size="15.2" text-anchor="middle">Mean expression</text>
<text x="1715.7" y="1022" font-size="15.2" text-anchor="middle">in group</text>
<linearGradient id="ge" x1="0" y1="0" x2="1" y2="0"><stop offset="0" stop-color="#fff5f0"/><stop offset="0.12" stop-color="#fee0d2"/><stop offset="0.25" stop-color="#fcbba1"/><stop offset="0.38" stop-color="#fc9272"/><stop offset="0.5" stop-color="#fb6a4a"/><stop offset="0.62" stop-color="#ef3b2c"/><stop offset="0.75" stop-color="#cb181d"/><stop offset="0.88" stop-color="#a50f15"/><stop offset="1" stop-color="#67000d"/></linearGradient>
<rect x="1655.9" y="1029.4" width="120.3" height="11.8" fill="url(#ge)" stroke="#000" stroke-width="0.8"/>
<text x="1655.9" y="1058" font-size="15.1" text-anchor="middle">0.0</text>
<text x="1716" y="1058" font-size="15.1" text-anchor="middle">0.5</text>
<text x="1776.2" y="1058" font-size="15.1" text-anchor="middle">1.0</text>
<text x="1718.1" y="1407.7" font-size="15.1" text-anchor="middle">Fraction of cells</text>
<text x="1718.1" y="1423.1" font-size="15.1" text-anchor="middle">in group (%)</text>
<g stroke="#000" stroke-width="0.8">
<circle cx="1662.6" cy="1443.6" r="4.7" fill="#808080"/>
<circle cx="1683.1" cy="1443.6" r="7.9" fill="#808080"/>
<circle cx="1707.3" cy="1443.6" r="10.8" fill="#808080"/>
<circle cx="1734.2" cy="1443.6" r="12.8" fill="#808080"/>
<circle cx="1764.1" cy="1443.6" r="15.1" fill="#808080"/>
</g>
<text x="1662.6" y="1486.7" font-size="15.1" text-anchor="middle">20</text>
<text x="1683.1" y="1486.7" font-size="15.1" text-anchor="middle">40</text>
<text x="1707.3" y="1486.7" font-size="15.1" text-anchor="middle">60</text>
<text x="1734.2" y="1486.7" font-size="15.1" text-anchor="middle">80</text>
<text x="1764.1" y="1486.7" font-size="15.1" text-anchor="middle">100</text>
<path d="M1655.9 1041.2v3M1716 1041.2v3M1776.2 1041.2v3M1662.6 1464.1v6.1M1683.1 1464.1v6.1M1707.3 1464.1v6.1M1734.2 1464.1v6.1M1764.1 1464.1v6.1" fill="none" stroke="#000" stroke-width="1.3"/>
<text x="1266" y="1530.3" font-size="23" font-weight="bold">f</text>
<rect x="1389.9" y="1565" width="326.83" height="243.72" fill="#fde725"/>
<rect x="1389.9" y="1565" width="46.99" height="61.23" fill="#481467"/>
<rect x="1436.59" y="1565" width="46.99" height="61.23" fill="#d8e219"/>
<rect x="1483.28" y="1565" width="46.99" height="61.23" fill="#f6e620"/>
<rect x="1389.9" y="1625.93" width="46.99" height="61.23" fill="#440154"/>
<rect x="1436.59" y="1625.93" width="46.99" height="61.23" fill="#f4e61e"/>
<rect x="1483.28" y="1625.93" width="46.99" height="61.23" fill="#ece51b"/>
<rect x="1389.9" y="1686.86" width="46.99" height="61.23" fill="#3e4c8a"/>
<rect x="1436.59" y="1686.86" width="46.99" height="61.23" fill="#bddf26"/>
<rect x="1483.28" y="1686.86" width="46.99" height="61.23" fill="#d5e21a"/>
<rect x="1529.97" y="1686.86" width="46.99" height="61.23" fill="#fae622"/>
<rect x="1389.9" y="1747.79" width="46.99" height="61.23" fill="#31688e"/>
<rect x="1436.59" y="1747.79" width="46.99" height="61.23" fill="#5ec962"/>
<rect x="1483.28" y="1747.79" width="46.99" height="61.23" fill="#ece51b"/>
<rect x="1529.97" y="1747.79" width="46.99" height="61.23" fill="#fae622"/>
<rect x="1576.66" y="1747.79" width="46.99" height="61.23" fill="#fbe723"/>
<rect x="1623.35" y="1747.79" width="46.99" height="61.23" fill="#fbe723"/>
<rect x="1670.04" y="1747.79" width="46.99" height="61.23" fill="#fbe723"/>
<path d="M1436.59 1565v243.72M1483.28 1565v243.72M1529.97 1565v243.72M1576.66 1565v243.72M1623.35 1565v243.72M1670.04 1565v243.72M1389.9 1625.93h326.83M1389.9 1686.86h326.83M1389.9 1747.79h326.83" fill="none" stroke="#fff" stroke-width="0.6" stroke-opacity="0.55"/>
<text x="1377.8" y="1589.87" font-size="15.1" text-anchor="end">Iron-recycling</text>
<text x="1377.8" y="1605.26" font-size="15.1" text-anchor="end">macrophage</text>
<text x="1377.8" y="1650.8" font-size="15.1" text-anchor="end"><tspan font-style="italic">LYVE1</tspan><tspan font-size="9" dy="-5.25">+</tspan><tspan dy="5.25">&#8203;</tspan></text>
<text x="1377.8" y="1666.19" font-size="15.1" text-anchor="end">macrophage</text>
<text x="1377.8" y="1711.73" font-size="15.1" text-anchor="end">MHCII<tspan font-size="9" dy="-5.25">+</tspan><tspan dy="5.25">&#8203;</tspan></text>
<text x="1377.8" y="1727.12" font-size="15.1" text-anchor="end">macrophage</text>
<text x="1377.8" y="1772.66" font-size="15.1" text-anchor="end">TML</text>
<text x="1377.8" y="1788.06" font-size="15.1" text-anchor="end">macrophage</text>
<text x="1412.25" y="1829.3" font-size="15.1" text-anchor="middle">1</text>
<text x="1458.94" y="1829.3" font-size="15.1" text-anchor="middle">3</text>
<text x="1505.62" y="1829.3" font-size="15.1" text-anchor="middle">5</text>
<text x="1552.32" y="1829.3" font-size="15.1" text-anchor="middle">0</text>
<text x="1599.01" y="1829.3" font-size="15.1" text-anchor="middle">2</text>
<text x="1645.7" y="1829.3" font-size="15.1" text-anchor="middle">4</text>
<text x="1692.39" y="1829.3" font-size="15.1" text-anchor="middle">6</text>
<path d="M1383.6 1595.46h6.3M1383.6 1656.39h6.3M1383.6 1717.33h6.3M1383.6 1778.26h6.3M1412.25 1808.7v4.6M1458.94 1808.7v4.6M1505.62 1808.7v4.6M1552.32 1808.7v4.6M1599.01 1808.7v4.6M1645.7 1808.7v4.6M1692.39 1808.7v4.6" fill="none" stroke="#111" stroke-width="2.6"/>
<path d="M1389.9 1835.6H1525.8M1535.9 1835.6H1669.7" fill="none" stroke="#111" stroke-width="1.3"/>
<text x="1458" y="1852.4" font-size="14.3" text-anchor="middle">Antler skin enriched</text>
<text x="1602.6" y="1852.4" font-size="14.3" text-anchor="middle">Back skin enriched</text>
<text x="1553" y="1882.2" font-size="18.1" text-anchor="middle" font-weight="bold">Reindeer macrophage clusters</text>
<text font-size="17.9" text-anchor="middle" font-weight="bold" transform="translate(1279.5 1687.7) rotate(-90)">Prenatal</text>
<linearGradient id="gf" x1="0" y1="1" x2="0" y2="0"><stop offset="0" stop-color="#fde725"/><stop offset="0.1" stop-color="#bddf26"/><stop offset="0.2" stop-color="#7ad151"/><stop offset="0.3" stop-color="#44bf70"/><stop offset="0.4" stop-color="#22a884"/><stop offset="0.5" stop-color="#21918c"/><stop offset="0.6" stop-color="#2a788e"/><stop offset="0.7" stop-color="#355f8d"/><stop offset="0.8" stop-color="#414487"/><stop offset="0.9" stop-color="#482475"/><stop offset="1" stop-color="#440154"/></linearGradient>
<rect x="1724.5" y="1565" width="8" height="243.7" fill="url(#gf)"/>
<text x="1739.3" y="1761.8" font-size="15.6">0.2</text>
<text x="1739.3" y="1709.03" font-size="15.6">0.4</text>
<text x="1739.3" y="1656.26" font-size="15.6">0.6</text>
<text x="1739.3" y="1603.49" font-size="15.6">0.8</text>
<path d="M1732.5 1756.6h5M1732.5 1703.83h5M1732.5 1651.06h5M1732.5 1598.29h5" fill="none" stroke="#111" stroke-width="1.5"/>
<text font-size="15.7" text-anchor="middle" transform="translate(1782.3 1680.5) rotate(-90)">Median prediction probability</text>
<text x="43.5" y="1967" font-size="23" font-weight="bold">g</text>
<path d="M147.78 2249.58V2290.22M142.58 2249.58h10.4M142.58 2290.22h10.4M180.66 2218.91V2250.69M175.46 2218.91h10.4M175.46 2250.69h10.4M213.17 2183.45V2217.43M207.97 2183.45h10.4M207.97 2217.43h10.4M245.69 2179.01V2201.55M240.49 2179.01h10.4M240.49 2201.55h10.4M278.2 2162.39V2213.74M273 2162.39h10.4M273 2213.74h10.4M310.71 2162.02V2214.48M305.51 2162.02h10.4M305.51 2214.48h10.4M343.22 2164.23V2220.76M338.02 2164.23h10.4M338.02 2220.76h10.4M375.73 2169.78V2218.17M370.53 2169.78h10.4M370.53 2218.17h10.4M408.25 2161.65V2216.7M403.05 2161.65h10.4M403.05 2216.7h10.4M440.76 2159.8V2210.05M435.56 2159.8h10.4M435.56 2210.05h10.4M473.27 2134.31V2223.72M468.07 2134.31h10.4M468.07 2223.72h10.4M505.78 2151.67V2207.09M500.58 2151.67h10.4M500.58 2207.09h10.4" fill="none" stroke="#000" stroke-width="1.9"/>
<path d="M115.64 2327.16L147.78 2269.9L180.66 2234.43L213.17 2200.81L245.69 2190.46L278.2 2188.25L310.71 2188.62L343.22 2192.31L375.73 2193.79L408.25 2189.36L440.76 2184.92L473.27 2179.38L505.78 2179.38" fill="none" stroke="#000" stroke-width="3.1" stroke-linejoin="round"/>
<circle cx="115.64" cy="2327.16" r="5.6" fill="#000"/>
<circle cx="147.78" cy="2269.9" r="5.6" fill="#000"/>
<circle cx="180.66" cy="2234.43" r="5.6" fill="#000"/>
<circle cx="213.17" cy="2200.81" r="5.6" fill="#000"/>
<circle cx="245.69" cy="2190.46" r="5.6" fill="#000"/>
<circle cx="278.2" cy="2188.25" r="5.6" fill="#000"/>
<circle cx="310.71" cy="2188.62" r="5.6" fill="#000"/>
<circle cx="343.22" cy="2192.31" r="5.6" fill="#000"/>
<circle cx="375.73" cy="2193.79" r="5.6" fill="#000"/>
<circle cx="408.25" cy="2189.36" r="5.6" fill="#000"/>
<circle cx="440.76" cy="2184.92" r="5.6" fill="#000"/>
<circle cx="473.27" cy="2179.38" r="5.6" fill="#000"/>
<circle cx="505.78" cy="2179.38" r="5.6" fill="#000"/>
<path d="M147.78 2269.16V2303.15M142.58 2269.16h10.4M142.58 2303.15h10.4M180.66 2238.49V2279.13M175.46 2238.49h10.4M175.46 2279.13h10.4M213.17 2216.33V2258.07M207.97 2216.33h10.4M207.97 2258.07h10.4M245.69 2193.05V2241.45M240.49 2193.05h10.4M240.49 2241.45h10.4M278.2 2181.97V2228.15M273 2181.97h10.4M273 2228.15h10.4M310.71 2139.11V2224.82M305.51 2139.11h10.4M305.51 2224.82h10.4M343.22 2133.57V2237.02M338.02 2133.57h10.4M338.02 2237.02h10.4M375.73 2138V2218.91M370.53 2138h10.4M370.53 2218.91h10.4M408.25 2150.93V2198.59M403.05 2150.93h10.4M403.05 2198.59h10.4M440.76 2109.92V2201.92M435.56 2109.92h10.4M435.56 2201.92h10.4M473.27 2089.23V2172.73M468.07 2089.23h10.4M468.07 2172.73h10.4M505.78 2094.78V2152.41M500.58 2094.78h10.4M500.58 2152.41h10.4" fill="none" stroke="#1a9a9a" stroke-width="1.9"/>
<path d="M115.64 2327.16L147.78 2285.78L180.66 2258.81L213.17 2237.39L245.69 2217.07L278.2 2205.24L310.71 2181.97L343.22 2185.29L375.73 2178.64L408.25 2174.58L440.76 2155.74L473.27 2130.98L505.78 2123.59" fill="none" stroke="#1a9a9a" stroke-width="3.1" stroke-linejoin="round"/>
<circle cx="115.64" cy="2327.16" r="5.6" fill="#1a9a9a"/>
<circle cx="147.78" cy="2285.78" r="5.6" fill="#1a9a9a"/>
<circle cx="180.66" cy="2258.81" r="5.6" fill="#1a9a9a"/>
<circle cx="213.17" cy="2237.39" r="5.6" fill="#1a9a9a"/>
<circle cx="245.69" cy="2217.07" r="5.6" fill="#1a9a9a"/>
<circle cx="278.2" cy="2205.24" r="5.6" fill="#1a9a9a"/>
<circle cx="310.71" cy="2181.97" r="5.6" fill="#1a9a9a"/>
<circle cx="343.22" cy="2185.29" r="5.6" fill="#1a9a9a"/>
<circle cx="375.73" cy="2178.64" r="5.6" fill="#1a9a9a"/>
<circle cx="408.25" cy="2174.58" r="5.6" fill="#1a9a9a"/>
<circle cx="440.76" cy="2155.74" r="5.6" fill="#1a9a9a"/>
<circle cx="473.27" cy="2130.98" r="5.6" fill="#1a9a9a"/>
<circle cx="505.78" cy="2123.59" r="5.6" fill="#1a9a9a"/>
<text x="84.2" y="2333.8" font-size="18.4" text-anchor="end">0</text>
<text x="84.2" y="2275.04" font-size="18.4" text-anchor="end">20</text>
<text x="84.2" y="2216.28" font-size="18.4" text-anchor="end">40</text>
<text x="84.2" y="2157.52" font-size="18.4" text-anchor="end">60</text>
<text x="84.2" y="2098.76" font-size="18.4" text-anchor="end">80</text>
<text x="84.2" y="2040" font-size="18.4" text-anchor="end">100</text>
<text x="115.6" y="2359.3" font-size="18.4" text-anchor="middle">0</text>
<text x="148.12" y="2359.3" font-size="18.4" text-anchor="middle">6</text>
<text x="180.64" y="2359.3" font-size="18.4" text-anchor="middle">12</text>
<text x="213.16" y="2359.3" font-size="18.4" text-anchor="middle">18</text>
<text x="245.68" y="2359.3" font-size="18.4" text-anchor="middle">24</text>
<text x="278.2" y="2359.3" font-size="18.4" text-anchor="middle">30</text>
<text x="310.72" y="2359.3" font-size="18.4" text-anchor="middle">36</text>
<text x="343.24" y="2359.3" font-size="18.4" text-anchor="middle">42</text>
<text x="375.76" y="2359.3" font-size="18.4" text-anchor="middle">48</text>
<text x="408.28" y="2359.3" font-size="18.4" text-anchor="middle">54</text>
<text x="440.8" y="2359.3" font-size="18.4" text-anchor="middle">60</text>
<text x="473.32" y="2359.3" font-size="18.4" text-anchor="middle">66</text>
<text x="505.84" y="2359.3" font-size="18.4" text-anchor="middle">72</text>
<path d="M106 2032.5V2327.2M93.1 2327.2H527.6M93.1 2327.2H106M93.1 2268.44H106M93.1 2209.68H106M93.1 2150.92H106M93.1 2092.16H106M93.1 2033.4H106M115.6 2327.2v12.2M148.12 2327.2v12.2M180.64 2327.2v12.2M213.16 2327.2v12.2M245.68 2327.2v12.2M278.2 2327.2v12.2M310.72 2327.2v12.2M343.24 2327.2v12.2M375.76 2327.2v12.2M408.28 2327.2v12.2M440.8 2327.2v12.2M473.32 2327.2v12.2M505.84 2327.2v12.2" fill="none" stroke="#000" stroke-width="2.4"/>
<text x="312" y="2388.1" font-size="18.05" text-anchor="middle" font-weight="bold">Time (hours)</text>
<text font-size="21.2" text-anchor="middle" font-weight="bold" transform="translate(40.5 2184) rotate(-90)">% Scratch width closure</text>
<text x="111.6" y="2245.9" font-size="15.2" font-style="italic">p=0.048</text>
<text x="134.9" y="2215.2" font-size="15.2" font-style="italic">p=0.0035</text>
<text x="161.5" y="2178.3" font-size="15.2" font-style="italic">p=0.0001</text>
<text x="232.4" y="2254.4" font-size="15.2" font-style="italic">p=0.0042</text>
<text x="439.7" y="2084.4" font-size="15.2" font-style="italic">p=0.0118</text>
<text x="494.3" y="2219.3" font-size="15.2" font-style="italic">p&lt;0.0001</text>
<line x1="22.9" y1="2423.2" x2="48.8" y2="2423.2" stroke="#000" stroke-width="2.4"/>
<circle cx="35.8" cy="2423.2" r="4.8" fill="#000"/>
<text x="62.8" y="2433.2" font-size="18.1">Fibroblasts only</text>
<line x1="22.9" y1="2470.1" x2="48.8" y2="2470.1" stroke="#1a9a9a" stroke-width="2.4"/>
<circle cx="35.8" cy="2470.1" r="4.8" fill="#1a9a9a"/>
<text x="61" y="2475" font-size="18.1" style="fill:#1a9a9a">Fibroblasts + macrophages</text>
<text x="624" y="1972.7" font-size="23" font-weight="bold">h</text>
<path d="M793.25 2077.09A138 138 0 0 1 809.45 2065.01Q883.6 2181.4 735.46 2188.39A148.3 148.3 0 0 1 736.44 2163.07Q883.6 2181.4 793.25 2077.09Z" fill="rgba(20,20,90,0.12)" stroke="#fff" stroke-width="0.8" stroke-opacity="0.7"/>
<path d="M773.97 2097.58A138 138 0 0 1 790.01 2079.98Q883.6 2181.4 743.46 2229.93A148.3 148.3 0 0 1 736.85 2202.81Q883.6 2181.4 773.97 2097.58Z" fill="rgba(240,150,15,0.12)" stroke="#fff" stroke-width="0.8" stroke-opacity="0.7"/>
<path d="M756.95 2126.59A138 138 0 0 1 771.25 2101.26Q883.6 2181.4 1009.23 2260.21A148.3 148.3 0 0 1 986.99 2287.72Q883.6 2181.4 756.95 2126.59Z" fill="rgba(20,20,90,0.12)" stroke="#fff" stroke-width="0.8" stroke-opacity="0.7"/>
<path d="M805.83 2295.4A138 138 0 0 1 758.53 2239.72Q883.6 2181.4 853.27 2036.23A148.3 148.3 0 0 1 928.69 2040.12Q883.6 2181.4 805.83 2295.4Z" fill="rgba(63,184,175,0.14)" stroke="#fff" stroke-width="0.8" stroke-opacity="0.7"/>
<path d="M840.04 2312.34A138 138 0 0 1 814.39 2300.79Q883.6 2181.4 1017.23 2117.09A148.3 148.3 0 0 1 1026.58 2142.02Q883.6 2181.4 840.04 2312.34Z" fill="rgba(240,150,15,0.12)" stroke="#fff" stroke-width="0.8" stroke-opacity="0.7"/>
<path d="M919.08 2314.76A138 138 0 0 1 874.45 2319.1Q883.6 2181.4 987.91 2075.99A148.3 148.3 0 0 1 1017.23 2117.09Q883.6 2181.4 919.08 2314.76Z" fill="rgba(150,158,215,0.13)" stroke="#fff" stroke-width="0.8" stroke-opacity="0.7"/>
<path d="M951.13 2301.75A138 138 0 0 1 930.57 2311.16Q883.6 2181.4 819.06 2047.88A148.3 148.3 0 0 1 838.76 2040.04Q883.6 2181.4 951.13 2301.75Z" fill="rgba(20,20,90,0.12)" stroke="#fff" stroke-width="0.8" stroke-opacity="0.7"/>
<path d="M1021.59 2182.6A138 138 0 0 1 1006.45 2244.27Q883.6 2181.4 928.69 2040.12A148.3 148.3 0 0 1 987.91 2075.99Q883.6 2181.4 1021.59 2182.6Z" fill="rgba(20,20,90,0.12)" stroke="#fff" stroke-width="0.8" stroke-opacity="0.7"/>
<g fill="none" stroke="#000" stroke-width="0.8">
<path d="M801.13 2070.75Q883.6 2181.4 739.41 2175.86"/>
<path d="M781.61 2088.44Q883.6 2181.4 743.41 2215.58"/>
<path d="M763.43 2113.55Q883.6 2181.4 995.82 2272.11"/>
<path d="M778.43 2270.75Q883.6 2181.4 891.03 2037.29"/>
<path d="M826.92 2307.22Q883.6 2181.4 1018.72 2130.75"/>
<path d="M896.95 2318.75Q883.6 2181.4 1001.08 2097.6"/>
<path d="M941.05 2306.87Q883.6 2181.4 830.25 2047.33"/>
<path d="M1017.62 2214.32Q883.6 2181.4 958.35 2057.97"/>
</g>
<path d="M736.41 2175.75L745 2173.47L744.8 2178.67Z" fill="#000"/>
<path d="M740.49 2216.29L748.13 2211.75L749.36 2216.8Z" fill="#000"/>
<path d="M998.15 2274L989.91 2270.68L993.18 2266.63Z" fill="#000"/>
<path d="M891.18 2034.3L893.34 2042.92L888.15 2042.65Z" fill="#000"/>
<path d="M1021.53 2129.69L1014.48 2135.11L1012.65 2130.24Z" fill="#000"/>
<path d="M1003.52 2095.86L998.11 2102.92L995.09 2098.68Z" fill="#000"/>
<path d="M829.14 2044.54L834.69 2051.48L829.86 2053.4Z" fill="#000"/>
<path d="M959.91 2055.4L957.73 2064.02L953.28 2061.33Z" fill="#000"/>
<path d="M737.5 2120.73A158.2 158.2 0 0 1 802.19 2045.75L806.93 2053.64A149 149 0 0 0 745.99 2124.26ZM813.65 2039.5A158.2 158.2 0 0 1 837.11 2030.19L839.81 2038.98A149 149 0 0 0 817.72 2047.75ZM851.03 2026.59A158.2 158.2 0 0 1 1036.41 2140.45L1027.52 2142.84A149 149 0 0 0 852.93 2035.59Z" fill="#14145a"/>
<path d="M1041.79 2182.78A158.2 158.2 0 0 1 1024.43 2253.47L1016.24 2249.28A149 149 0 0 0 1032.59 2182.7ZM1017.61 2265.47A158.2 158.2 0 0 1 993.89 2294.82L987.48 2288.22A149 149 0 0 0 1009.82 2260.58Z" fill="#aeb4de"/>
<path d="M961.02 2319.36A158.2 158.2 0 0 1 937.45 2330.15L934.32 2321.5A149 149 0 0 0 956.52 2311.34ZM924.28 2334.28A158.2 158.2 0 0 1 873.12 2339.25L873.73 2330.07A149 149 0 0 0 921.91 2325.39Z" fill="#f0950f"/>
<path d="M833.66 2331.51A158.2 158.2 0 0 1 804.26 2318.27L808.87 2310.31A149 149 0 0 0 836.57 2322.78ZM794.45 2312.09A158.2 158.2 0 0 1 740.22 2248.26L748.56 2244.37A149 149 0 0 0 799.63 2304.49ZM734.11 2233.17A158.2 158.2 0 0 1 727.06 2204.24L736.16 2202.91A149 149 0 0 0 742.8 2230.16ZM725.58 2188.85A158.2 158.2 0 0 1 726.61 2161.85L735.74 2162.98A149 149 0 0 0 734.77 2188.42Z" fill="#3fb8af"/>
<path d="M738.05 2120.96A157.6 157.6 0 0 1 1035.83 2140.61" fill="none" stroke="#14145a" stroke-width="1.2"/>
<path d="M833.85 2330.94A157.6 157.6 0 0 1 727.21 2161.92" fill="none" stroke="#3fb8af" stroke-width="1.2"/>
<path d="M1041.59 2182.78A158 158 0 0 1 1024.25 2253.38M1017.45 2265.36A158 158 0 0 1 993.75 2294.67" fill="none" stroke="#2a2a4a" stroke-width="0.6"/>
<path d="M1029.39 2182.67A145.8 145.8 0 0 1 1013.39 2247.82M954.95 2308.55A145.8 145.8 0 0 1 933.23 2318.49M921.09 2322.3A145.8 145.8 0 0 1 873.94 2326.88M837.58 2319.75A145.8 145.8 0 0 1 810.48 2307.54M801.44 2301.85A145.8 145.8 0 0 1 751.46 2243.02" fill="none" stroke="#14145a" stroke-width="2.2"/>
<path d="M767.16 2093.66A145.8 145.8 0 0 1 807.42 2057.09" fill="none" stroke="#3fb8af" stroke-width="2.2"/>
<path d="M749.39 2124.43A145.8 145.8 0 0 1 764.9 2096.73" fill="none" stroke="#aeb4de" stroke-width="2.2"/>
<g font-style="italic" text-anchor="middle" font-size="15.2">
<text transform="translate(757.6 2073.1) rotate(-45.9)" y="5.3">VEGFA</text>
<text transform="translate(820.6 2027.5) rotate(-27)" y="5.3">PLXND1</text>
<text transform="translate(963.2 2034.9) rotate(31.4)" y="5.3">NRP2</text>
<text transform="translate(1043.3 2222.6) rotate(-79.8)" y="5.3">SEMA3C</text>
<text transform="translate(1014.9 2286.4) rotate(-51.2)" y="5.3">NRP2</text>
<text transform="translate(960.8 2330.3) rotate(-25.7)" y="5.3">SEMA3E</text>
<text transform="translate(892.9 2346.6) rotate(-8.7)" y="5.3">SEMA3C</text>
<text transform="translate(813.7 2334.4) rotate(27.4)" y="5.3">VEGFA</text>
<text transform="translate(750.7 2287.6) rotate(48.1)" y="5.3">SEMA3C</text>
<text transform="translate(723.5 2222.6) rotate(-100)" y="5.3">NRP2</text>
<text transform="translate(717 2175.9) rotate(-96)" y="5.3">NRP1</text>
</g>
<circle cx="1025.8" cy="2055.6" r="4.5" fill="#1c1c4a"/>
<text x="1037.2" y="2055.2" font-size="15.1">TML</text>
<text x="1037.2" y="2070.2" font-size="15.1">macrophage</text>
<circle cx="1065.2" cy="2282.4" r="4.5" fill="#aeb4de"/>
<text x="1076.2" y="2279.5" font-size="15.1">Myelinating</text>
<text x="1076.2" y="2294.5" font-size="15.1">Schwann cells</text>
<circle cx="946.2" cy="2382.3" r="4.5" fill="#f0950f"/>
<text x="958.4" y="2380.3" font-size="15.1"><tspan font-style="italic">PID1</tspan><tspan font-size="9" dy="-5.25">+</tspan><tspan dy="5.25">&#8203;</tspan></text>
<text x="958.4" y="2395.3" font-size="15.1">Schwann cells</text>
<circle cx="603.6" cy="2316.9" r="4.5" fill="#3fb8af"/>
<text x="614.1" y="2314" font-size="15.1">Schwann/</text>
<text x="614.1" y="2331.5" font-size="15.1">Schwann precursors</text>
<text x="1267" y="1967.9" font-size="23" font-weight="bold">i</text>
<rect x="1397.4" y="1998" width="63.75" height="63.75" fill="#db3a4a"/>
<rect x="1463.95" y="1998" width="63.75" height="63.75" fill="#f0f0f0"/>
<rect x="1530.5" y="1998" width="63.75" height="63.75" fill="#417ca8"/>
<rect x="1597.05" y="1998" width="63.75" height="63.75" fill="#7ba3c2"/>
<rect x="1397.4" y="2064.55" width="63.75" height="63.75" fill="#b8cbdc"/>
<rect x="1463.95" y="2064.55" width="63.75" height="63.75" fill="#e3777f"/>
<rect x="1530.5" y="2064.55" width="63.75" height="63.75" fill="#417ca8"/>
<rect x="1597.05" y="2064.55" width="63.75" height="63.75" fill="#e3777f"/>
<rect x="1397.4" y="2131.1" width="63.75" height="63.75" fill="#db3a4a"/>
<rect x="1463.95" y="2131.1" width="63.75" height="63.75" fill="#b8cbdc"/>
<rect x="1530.5" y="2131.1" width="63.75" height="63.75" fill="#417ca8"/>
<rect x="1597.05" y="2131.1" width="63.75" height="63.75" fill="#ebb5b9"/>
<rect x="1397.4" y="2197.65" width="63.75" height="63.75" fill="#7ba3c2"/>
<rect x="1463.95" y="2197.65" width="63.75" height="63.75" fill="#db3a4a"/>
<rect x="1530.5" y="2197.65" width="63.75" height="63.75" fill="#417ca8"/>
<rect x="1597.05" y="2197.65" width="63.75" height="63.75" fill="#f0f0f0"/>
<rect x="1397.4" y="2264.2" width="63.75" height="63.75" fill="#417ca8"/>
<rect x="1463.95" y="2264.2" width="63.75" height="63.75" fill="#db3a4a"/>
<rect x="1530.5" y="2264.2" width="63.75" height="63.75" fill="#e3777f"/>
<rect x="1597.05" y="2264.2" width="63.75" height="63.75" fill="#7ba3c2"/>
<text x="1386.9" y="2027.7" font-size="15.1" text-anchor="end">Positive regulation</text>
<text x="1386.9" y="2042.8" font-size="15.1" text-anchor="end">of angiogenesis</text>
<text x="1386.9" y="2091.5" font-size="15.1" text-anchor="end">Positive regulation of</text>
<text x="1386.9" y="2106.6" font-size="15.1" text-anchor="end">sprouting angiogenesis</text>
<text x="1386.9" y="2156.5" font-size="15.1" text-anchor="end">Positive regulation of</text>
<text x="1386.9" y="2171.6" font-size="15.1" text-anchor="end">endothelial cell chemotaxis</text>
<text x="1386.9" y="2223" font-size="15.1" text-anchor="end">Positive regulation of</text>
<text x="1386.9" y="2238.1" font-size="15.1" text-anchor="end">endothelial cell proliferation</text>
<text x="1386.9" y="2289.8" font-size="15.1" text-anchor="end">Blood vessel</text>
<text x="1386.9" y="2304.9" font-size="15.1" text-anchor="end">morphogenesis</text>
<text font-size="15" text-anchor="end" transform="translate(1433.08 2339.6) rotate(-90)">Iron-recycling macrophage</text>
<text font-size="15" text-anchor="end" transform="translate(1499.62 2339.6) rotate(-90)"><tspan font-style="italic">LYVE1</tspan><tspan font-size="9" dy="-5.25">+</tspan><tspan dy="5.25">&#8203;</tspan> macrophage</text>
<text font-size="15" text-anchor="end" transform="translate(1566.17 2339.6) rotate(-90)">MHCII<tspan font-size="9" dy="-5.25">+</tspan><tspan dy="5.25">&#8203;</tspan> macrophage</text>
<text font-size="15" text-anchor="end" transform="translate(1632.73 2339.6) rotate(-90)">TML macrophage</text>
<path d="M1391.2 2029.88h6.2M1391.2 2096.43h6.2M1391.2 2162.97h6.2M1391.2 2229.53h6.2M1391.2 2296.07h6.2M1429.28 2327.95v5.4M1495.83 2327.95v5.4M1562.38 2327.95v5.4M1628.93 2327.95v5.4" fill="none" stroke="#111" stroke-width="2.8"/>
<text x="1681" y="2072.5" font-size="15">Mean z-score</text>
<text x="1681" y="2087.7" font-size="15">expression</text>
<rect x="1681" y="2096" width="8.7" height="23.5" fill="#db3a4a"/>
<rect x="1681" y="2119.2" width="8.7" height="23.5" fill="#e3777f"/>
<rect x="1681" y="2142.4" width="8.7" height="23.5" fill="#ebb5b9"/>
<rect x="1681" y="2165.6" width="8.7" height="23.5" fill="#f0f0f0"/>
<rect x="1681" y="2188.8" width="8.7" height="23.5" fill="#b8cbdc"/>
<rect x="1681" y="2212" width="8.7" height="23.5" fill="#7ba3c2"/>
<rect x="1681" y="2235.2" width="8.7" height="23.5" fill="#417ca8"/>
<text x="1707" y="2124.3" font-size="15.1">1</text>
<text x="1707" y="2186.7" font-size="15.1">0</text>
<text x="1707" y="2249.9" font-size="15.1">−1</text>
<path d="M1689.7 2119.1h10.1M1689.7 2181.5h10.1M1689.7 2244.7h10.1" fill="none" stroke="#111" stroke-width="2.4"/>
</svg>
</body></html>
